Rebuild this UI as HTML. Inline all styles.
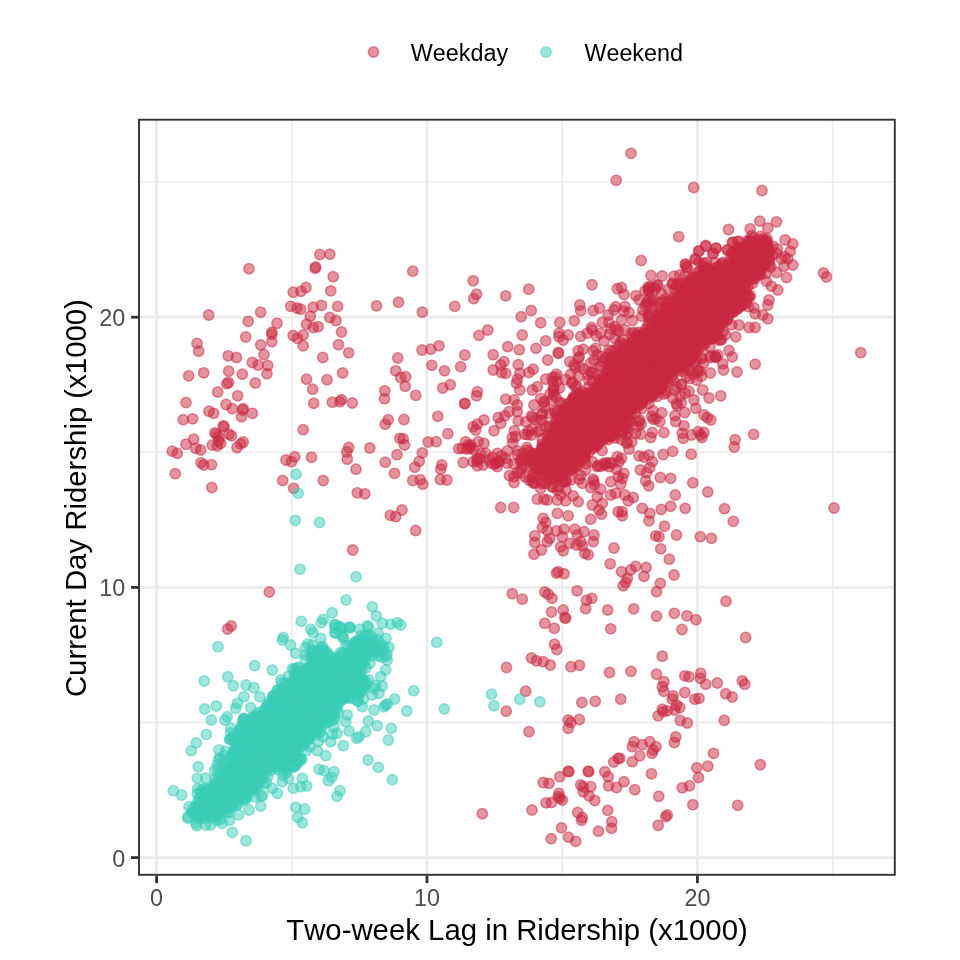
<!DOCTYPE html>
<html lang="en"><head><meta charset="utf-8"><title>Ridership scatter</title>
<style>html,body{margin:0;padding:0;background:#fff;}body{width:960px;height:960px;overflow:hidden;}svg{display:block;will-change:transform;}text{font-kerning:none;font-family:"Liberation Sans",Arial,Helvetica,sans-serif;}.wd{fill:#CA2840;fill-opacity:.5;stroke:#CA2840;stroke-opacity:.5;stroke-width:1.48;}.we{fill:#3ACDB8;fill-opacity:.5;stroke:#3ACDB8;stroke-opacity:.5;stroke-width:1.48;}.ax{font-size:23.33px;fill:#4D4D4D;}.lg{font-size:23.33px;fill:#000;}.ti{font-size:29.35px;fill:#000;}</style></head><body>
<svg width="960" height="960" viewBox="0 0 960 960">
<rect width="960" height="960" fill="#fff"/>
<g stroke="#EBEBEB" fill="none">
<line x1="291.80" x2="291.80" y1="119.7" y2="874.8" stroke-width="1.41"/>
<line y1="722.50" y2="722.50" x1="139.0" x2="894.8" stroke-width="1.41"/>
<line x1="562.20" x2="562.20" y1="119.7" y2="874.8" stroke-width="1.41"/>
<line y1="452.30" y2="452.30" x1="139.0" x2="894.8" stroke-width="1.41"/>
<line x1="832.60" x2="832.60" y1="119.7" y2="874.8" stroke-width="1.41"/>
<line y1="182.10" y2="182.10" x1="139.0" x2="894.8" stroke-width="1.41"/>
<line x1="156.60" x2="156.60" y1="119.7" y2="874.8" stroke-width="2.83"/>
<line y1="857.60" y2="857.60" x1="139.0" x2="894.8" stroke-width="2.83"/>
<line x1="427.00" x2="427.00" y1="119.7" y2="874.8" stroke-width="2.83"/>
<line y1="587.40" y2="587.40" x1="139.0" x2="894.8" stroke-width="2.83"/>
<line x1="697.40" x2="697.40" y1="119.7" y2="874.8" stroke-width="2.83"/>
<line y1="317.20" y2="317.20" x1="139.0" x2="894.8" stroke-width="2.83"/>
</g>
<g>
<circle class="we" cx="294.1" cy="708.0" r="5.18"/>
<circle class="wd" cx="696.5" cy="283.9" r="5.18"/>
<circle class="wd" cx="596.9" cy="386.7" r="5.18"/>
<circle class="wd" cx="542.4" cy="413.3" r="5.18"/>
<circle class="wd" cx="652.8" cy="353.1" r="5.18"/>
<circle class="wd" cx="547.9" cy="442.5" r="5.18"/>
<circle class="wd" cx="650.0" cy="378.0" r="5.18"/>
<circle class="wd" cx="576.9" cy="386.3" r="5.18"/>
<circle class="we" cx="350.4" cy="659.6" r="5.18"/>
<circle class="wd" cx="718.3" cy="327.8" r="5.18"/>
<circle class="wd" cx="752.2" cy="263.5" r="5.18"/>
<circle class="wd" cx="736.9" cy="296.9" r="5.18"/>
<circle class="wd" cx="637.4" cy="404.5" r="5.18"/>
<circle class="we" cx="330.3" cy="694.4" r="5.18"/>
<circle class="we" cx="282.3" cy="741.3" r="5.18"/>
<circle class="we" cx="274.2" cy="699.2" r="5.18"/>
<circle class="we" cx="187.9" cy="816.7" r="5.18"/>
<circle class="wd" cx="580.5" cy="431.0" r="5.18"/>
<circle class="wd" cx="543.1" cy="451.1" r="5.18"/>
<circle class="we" cx="341.2" cy="689.5" r="5.18"/>
<circle class="wd" cx="708.5" cy="304.6" r="5.18"/>
<circle class="wd" cx="597.6" cy="415.4" r="5.18"/>
<circle class="we" cx="243.7" cy="774.7" r="5.18"/>
<circle class="we" cx="247.4" cy="721.4" r="5.18"/>
<circle class="wd" cx="556.4" cy="425.4" r="5.18"/>
<circle class="wd" cx="601.8" cy="393.7" r="5.18"/>
<circle class="wd" cx="611.0" cy="434.3" r="5.18"/>
<circle class="we" cx="302.5" cy="744.3" r="5.18"/>
<circle class="we" cx="354.9" cy="663.0" r="5.18"/>
<circle class="we" cx="196.1" cy="805.4" r="5.18"/>
<circle class="wd" cx="534.0" cy="472.1" r="5.18"/>
<circle class="we" cx="306.9" cy="718.0" r="5.18"/>
<circle class="we" cx="256.8" cy="748.3" r="5.18"/>
<circle class="wd" cx="583.7" cy="419.0" r="5.18"/>
<circle class="we" cx="335.7" cy="633.2" r="5.18"/>
<circle class="wd" cx="660.2" cy="333.6" r="5.18"/>
<circle class="we" cx="359.3" cy="676.9" r="5.18"/>
<circle class="we" cx="298.7" cy="744.7" r="5.18"/>
<circle class="wd" cx="605.7" cy="376.2" r="5.18"/>
<circle class="we" cx="340.6" cy="669.0" r="5.18"/>
<circle class="wd" cx="714.9" cy="306.3" r="5.18"/>
<circle class="we" cx="335.8" cy="659.5" r="5.18"/>
<circle class="wd" cx="738.2" cy="275.7" r="5.18"/>
<circle class="wd" cx="769.6" cy="261.5" r="5.18"/>
<circle class="wd" cx="690.0" cy="351.5" r="5.18"/>
<circle class="wd" cx="703.7" cy="282.6" r="5.18"/>
<circle class="wd" cx="760.0" cy="253.4" r="5.18"/>
<circle class="wd" cx="624.5" cy="351.7" r="5.18"/>
<circle class="wd" cx="665.0" cy="330.8" r="5.18"/>
<circle class="wd" cx="611.1" cy="435.9" r="5.18"/>
<circle class="wd" cx="707.5" cy="300.4" r="5.18"/>
<circle class="we" cx="285.4" cy="734.6" r="5.18"/>
<circle class="wd" cx="638.9" cy="421.7" r="5.18"/>
<circle class="wd" cx="732.1" cy="264.2" r="5.18"/>
<circle class="wd" cx="739.1" cy="286.0" r="5.18"/>
<circle class="we" cx="233.1" cy="782.2" r="5.18"/>
<circle class="we" cx="309.2" cy="679.6" r="5.18"/>
<circle class="we" cx="301.4" cy="738.3" r="5.18"/>
<circle class="we" cx="376.2" cy="644.2" r="5.18"/>
<circle class="we" cx="261.6" cy="778.9" r="5.18"/>
<circle class="we" cx="286.1" cy="766.9" r="5.18"/>
<circle class="wd" cx="670.8" cy="310.8" r="5.18"/>
<circle class="we" cx="237.8" cy="740.1" r="5.18"/>
<circle class="we" cx="327.4" cy="654.7" r="5.18"/>
<circle class="wd" cx="718.0" cy="289.5" r="5.18"/>
<circle class="wd" cx="740.8" cy="248.0" r="5.18"/>
<circle class="we" cx="339.5" cy="702.3" r="5.18"/>
<circle class="wd" cx="701.7" cy="358.9" r="5.18"/>
<circle class="wd" cx="743.0" cy="296.1" r="5.18"/>
<circle class="wd" cx="671.6" cy="351.9" r="5.18"/>
<circle class="wd" cx="702.0" cy="294.9" r="5.18"/>
<circle class="wd" cx="729.1" cy="285.5" r="5.18"/>
<circle class="wd" cx="577.1" cy="412.1" r="5.18"/>
<circle class="wd" cx="569.5" cy="442.5" r="5.18"/>
<circle class="wd" cx="598.7" cy="414.1" r="5.18"/>
<circle class="we" cx="361.9" cy="668.5" r="5.18"/>
<circle class="wd" cx="710.1" cy="287.7" r="5.18"/>
<circle class="we" cx="358.9" cy="663.7" r="5.18"/>
<circle class="wd" cx="671.9" cy="345.2" r="5.18"/>
<circle class="wd" cx="596.6" cy="438.0" r="5.18"/>
<circle class="wd" cx="627.4" cy="428.7" r="5.18"/>
<circle class="we" cx="289.0" cy="704.7" r="5.18"/>
<circle class="wd" cx="600.4" cy="406.9" r="5.18"/>
<circle class="we" cx="336.2" cy="665.2" r="5.18"/>
<circle class="wd" cx="572.8" cy="398.4" r="5.18"/>
<circle class="wd" cx="722.7" cy="262.4" r="5.18"/>
<circle class="we" cx="298.7" cy="759.6" r="5.18"/>
<circle class="wd" cx="661.5" cy="365.1" r="5.18"/>
<circle class="wd" cx="698.6" cy="306.9" r="5.18"/>
<circle class="wd" cx="702.9" cy="325.4" r="5.18"/>
<circle class="wd" cx="669.3" cy="345.1" r="5.18"/>
<circle class="we" cx="336.6" cy="670.6" r="5.18"/>
<circle class="we" cx="255.8" cy="761.7" r="5.18"/>
<circle class="wd" cx="654.6" cy="334.9" r="5.18"/>
<circle class="wd" cx="517.5" cy="450.9" r="5.18"/>
<circle class="wd" cx="649.7" cy="343.2" r="5.18"/>
<circle class="wd" cx="514.3" cy="430.8" r="5.18"/>
<circle class="we" cx="334.5" cy="674.8" r="5.18"/>
<circle class="wd" cx="595.7" cy="403.9" r="5.18"/>
<circle class="we" cx="234.5" cy="751.0" r="5.18"/>
<circle class="we" cx="320.2" cy="650.1" r="5.18"/>
<circle class="we" cx="329.3" cy="668.6" r="5.18"/>
<circle class="wd" cx="662.8" cy="378.2" r="5.18"/>
<circle class="wd" cx="694.8" cy="346.5" r="5.18"/>
<circle class="wd" cx="601.5" cy="421.1" r="5.18"/>
<circle class="we" cx="279.3" cy="758.9" r="5.18"/>
<circle class="wd" cx="659.4" cy="366.2" r="5.18"/>
<circle class="wd" cx="761.1" cy="264.6" r="5.18"/>
<circle class="wd" cx="630.4" cy="388.8" r="5.18"/>
<circle class="we" cx="282.9" cy="724.8" r="5.18"/>
<circle class="wd" cx="684.8" cy="287.1" r="5.18"/>
<circle class="we" cx="311.0" cy="668.7" r="5.18"/>
<circle class="wd" cx="702.7" cy="346.2" r="5.18"/>
<circle class="wd" cx="591.9" cy="440.8" r="5.18"/>
<circle class="wd" cx="645.4" cy="363.4" r="5.18"/>
<circle class="wd" cx="639.0" cy="336.7" r="5.18"/>
<circle class="wd" cx="563.4" cy="441.6" r="5.18"/>
<circle class="wd" cx="655.7" cy="361.4" r="5.18"/>
<circle class="we" cx="372.4" cy="644.1" r="5.18"/>
<circle class="wd" cx="696.2" cy="353.2" r="5.18"/>
<circle class="wd" cx="764.5" cy="249.6" r="5.18"/>
<circle class="we" cx="217.9" cy="815.1" r="5.18"/>
<circle class="we" cx="287.1" cy="728.6" r="5.18"/>
<circle class="we" cx="217.1" cy="800.6" r="5.18"/>
<circle class="wd" cx="601.7" cy="424.9" r="5.18"/>
<circle class="wd" cx="761.0" cy="250.1" r="5.18"/>
<circle class="we" cx="258.7" cy="752.6" r="5.18"/>
<circle class="we" cx="324.7" cy="722.3" r="5.18"/>
<circle class="wd" cx="731.2" cy="283.0" r="5.18"/>
<circle class="wd" cx="587.9" cy="438.3" r="5.18"/>
<circle class="we" cx="212.0" cy="791.0" r="5.18"/>
<circle class="wd" cx="765.8" cy="273.6" r="5.18"/>
<circle class="wd" cx="599.3" cy="430.5" r="5.18"/>
<circle class="wd" cx="660.5" cy="359.3" r="5.18"/>
<circle class="wd" cx="734.5" cy="308.4" r="5.18"/>
<circle class="we" cx="307.0" cy="712.8" r="5.18"/>
<circle class="wd" cx="748.2" cy="286.2" r="5.18"/>
<circle class="we" cx="274.7" cy="750.8" r="5.18"/>
<circle class="wd" cx="636.6" cy="373.9" r="5.18"/>
<circle class="we" cx="357.9" cy="676.4" r="5.18"/>
<circle class="we" cx="268.9" cy="735.0" r="5.18"/>
<circle class="we" cx="206.2" cy="812.8" r="5.18"/>
<circle class="we" cx="240.4" cy="759.9" r="5.18"/>
<circle class="we" cx="240.6" cy="763.2" r="5.18"/>
<circle class="wd" cx="761.2" cy="254.0" r="5.18"/>
<circle class="we" cx="304.2" cy="706.3" r="5.18"/>
<circle class="wd" cx="680.8" cy="322.8" r="5.18"/>
<circle class="wd" cx="685.0" cy="326.7" r="5.18"/>
<circle class="we" cx="342.3" cy="653.2" r="5.18"/>
<circle class="wd" cx="762.2" cy="242.6" r="5.18"/>
<circle class="wd" cx="694.4" cy="324.0" r="5.18"/>
<circle class="wd" cx="717.2" cy="273.3" r="5.18"/>
<circle class="wd" cx="606.0" cy="462.8" r="5.18"/>
<circle class="we" cx="262.2" cy="770.6" r="5.18"/>
<circle class="wd" cx="688.5" cy="328.0" r="5.18"/>
<circle class="we" cx="326.9" cy="722.4" r="5.18"/>
<circle class="wd" cx="688.3" cy="331.6" r="5.18"/>
<circle class="we" cx="365.7" cy="684.5" r="5.18"/>
<circle class="wd" cx="710.8" cy="338.9" r="5.18"/>
<circle class="wd" cx="640.2" cy="377.3" r="5.18"/>
<circle class="we" cx="243.1" cy="798.9" r="5.18"/>
<circle class="wd" cx="680.8" cy="327.9" r="5.18"/>
<circle class="we" cx="255.0" cy="796.9" r="5.18"/>
<circle class="we" cx="362.8" cy="683.9" r="5.18"/>
<circle class="we" cx="229.5" cy="820.4" r="5.18"/>
<circle class="we" cx="313.3" cy="672.3" r="5.18"/>
<circle class="we" cx="262.7" cy="732.6" r="5.18"/>
<circle class="wd" cx="703.2" cy="306.6" r="5.18"/>
<circle class="wd" cx="669.6" cy="374.0" r="5.18"/>
<circle class="wd" cx="620.3" cy="424.8" r="5.18"/>
<circle class="we" cx="215.0" cy="804.3" r="5.18"/>
<circle class="we" cx="220.4" cy="804.4" r="5.18"/>
<circle class="we" cx="266.3" cy="753.4" r="5.18"/>
<circle class="wd" cx="745.5" cy="297.7" r="5.18"/>
<circle class="we" cx="349.2" cy="627.1" r="5.18"/>
<circle class="wd" cx="682.4" cy="300.6" r="5.18"/>
<circle class="we" cx="264.7" cy="763.7" r="5.18"/>
<circle class="wd" cx="760.3" cy="271.1" r="5.18"/>
<circle class="wd" cx="747.1" cy="254.8" r="5.18"/>
<circle class="wd" cx="633.7" cy="364.4" r="5.18"/>
<circle class="wd" cx="739.0" cy="289.9" r="5.18"/>
<circle class="wd" cx="679.6" cy="356.5" r="5.18"/>
<circle class="wd" cx="577.4" cy="398.4" r="5.18"/>
<circle class="wd" cx="597.5" cy="434.6" r="5.18"/>
<circle class="wd" cx="613.9" cy="401.8" r="5.18"/>
<circle class="we" cx="280.2" cy="727.4" r="5.18"/>
<circle class="wd" cx="701.6" cy="308.1" r="5.18"/>
<circle class="we" cx="317.0" cy="675.6" r="5.18"/>
<circle class="wd" cx="681.4" cy="384.1" r="5.18"/>
<circle class="wd" cx="695.5" cy="310.4" r="5.18"/>
<circle class="we" cx="352.4" cy="692.3" r="5.18"/>
<circle class="we" cx="292.4" cy="686.0" r="5.18"/>
<circle class="we" cx="266.1" cy="759.2" r="5.18"/>
<circle class="we" cx="237.8" cy="746.6" r="5.18"/>
<circle class="wd" cx="556.3" cy="448.9" r="5.18"/>
<circle class="wd" cx="663.6" cy="345.6" r="5.18"/>
<circle class="we" cx="282.9" cy="732.8" r="5.18"/>
<circle class="we" cx="231.3" cy="779.9" r="5.18"/>
<circle class="we" cx="326.9" cy="683.2" r="5.18"/>
<circle class="we" cx="246.7" cy="760.0" r="5.18"/>
<circle class="we" cx="234.2" cy="778.8" r="5.18"/>
<circle class="wd" cx="692.1" cy="330.1" r="5.18"/>
<circle class="we" cx="305.4" cy="729.1" r="5.18"/>
<circle class="wd" cx="756.0" cy="252.4" r="5.18"/>
<circle class="wd" cx="547.6" cy="436.0" r="5.18"/>
<circle class="wd" cx="588.1" cy="421.9" r="5.18"/>
<circle class="wd" cx="585.3" cy="456.3" r="5.18"/>
<circle class="we" cx="352.1" cy="683.8" r="5.18"/>
<circle class="wd" cx="552.1" cy="456.5" r="5.18"/>
<circle class="wd" cx="634.7" cy="371.9" r="5.18"/>
<circle class="wd" cx="507.3" cy="451.0" r="5.18"/>
<circle class="we" cx="226.3" cy="778.7" r="5.18"/>
<circle class="we" cx="230.9" cy="789.6" r="5.18"/>
<circle class="wd" cx="585.0" cy="410.6" r="5.18"/>
<circle class="wd" cx="628.5" cy="415.9" r="5.18"/>
<circle class="wd" cx="589.0" cy="452.1" r="5.18"/>
<circle class="we" cx="292.2" cy="739.9" r="5.18"/>
<circle class="wd" cx="525.0" cy="476.7" r="5.18"/>
<circle class="wd" cx="723.0" cy="277.5" r="5.18"/>
<circle class="wd" cx="704.1" cy="266.6" r="5.18"/>
<circle class="we" cx="325.2" cy="698.9" r="5.18"/>
<circle class="we" cx="361.9" cy="689.5" r="5.18"/>
<circle class="we" cx="322.5" cy="646.4" r="5.18"/>
<circle class="we" cx="213.4" cy="797.6" r="5.18"/>
<circle class="wd" cx="627.4" cy="395.7" r="5.18"/>
<circle class="we" cx="269.3" cy="701.3" r="5.18"/>
<circle class="wd" cx="758.0" cy="239.4" r="5.18"/>
<circle class="wd" cx="621.5" cy="379.6" r="5.18"/>
<circle class="we" cx="291.5" cy="698.3" r="5.18"/>
<circle class="we" cx="294.3" cy="757.2" r="5.18"/>
<circle class="we" cx="298.2" cy="680.8" r="5.18"/>
<circle class="wd" cx="612.8" cy="361.3" r="5.18"/>
<circle class="wd" cx="723.5" cy="281.6" r="5.18"/>
<circle class="wd" cx="666.1" cy="337.0" r="5.18"/>
<circle class="wd" cx="574.8" cy="403.0" r="5.18"/>
<circle class="wd" cx="638.6" cy="380.3" r="5.18"/>
<circle class="wd" cx="719.5" cy="317.0" r="5.18"/>
<circle class="wd" cx="543.2" cy="475.3" r="5.18"/>
<circle class="we" cx="313.6" cy="703.8" r="5.18"/>
<circle class="we" cx="234.9" cy="788.3" r="5.18"/>
<circle class="wd" cx="588.0" cy="434.1" r="5.18"/>
<circle class="we" cx="344.5" cy="665.9" r="5.18"/>
<circle class="wd" cx="611.6" cy="350.9" r="5.18"/>
<circle class="wd" cx="747.3" cy="273.2" r="5.18"/>
<circle class="wd" cx="675.0" cy="328.9" r="5.18"/>
<circle class="wd" cx="699.5" cy="346.1" r="5.18"/>
<circle class="we" cx="298.8" cy="681.5" r="5.18"/>
<circle class="wd" cx="694.6" cy="340.8" r="5.18"/>
<circle class="wd" cx="693.1" cy="344.6" r="5.18"/>
<circle class="wd" cx="646.1" cy="385.8" r="5.18"/>
<circle class="we" cx="314.4" cy="683.9" r="5.18"/>
<circle class="wd" cx="626.4" cy="419.1" r="5.18"/>
<circle class="wd" cx="697.1" cy="301.1" r="5.18"/>
<circle class="wd" cx="579.6" cy="393.4" r="5.18"/>
<circle class="wd" cx="678.2" cy="370.8" r="5.18"/>
<circle class="wd" cx="565.5" cy="379.5" r="5.18"/>
<circle class="we" cx="292.2" cy="729.3" r="5.18"/>
<circle class="we" cx="325.5" cy="708.3" r="5.18"/>
<circle class="we" cx="284.2" cy="694.7" r="5.18"/>
<circle class="wd" cx="573.3" cy="467.7" r="5.18"/>
<circle class="wd" cx="732.2" cy="260.6" r="5.18"/>
<circle class="we" cx="320.6" cy="672.6" r="5.18"/>
<circle class="wd" cx="579.3" cy="461.0" r="5.18"/>
<circle class="we" cx="247.1" cy="760.5" r="5.18"/>
<circle class="wd" cx="680.2" cy="337.7" r="5.18"/>
<circle class="we" cx="283.3" cy="720.6" r="5.18"/>
<circle class="wd" cx="690.7" cy="359.9" r="5.18"/>
<circle class="wd" cx="725.5" cy="303.6" r="5.18"/>
<circle class="wd" cx="686.2" cy="362.2" r="5.18"/>
<circle class="we" cx="208.5" cy="807.6" r="5.18"/>
<circle class="wd" cx="689.3" cy="287.9" r="5.18"/>
<circle class="we" cx="245.0" cy="800.1" r="5.18"/>
<circle class="wd" cx="673.8" cy="364.9" r="5.18"/>
<circle class="we" cx="320.3" cy="730.4" r="5.18"/>
<circle class="we" cx="303.7" cy="723.4" r="5.18"/>
<circle class="wd" cx="732.7" cy="294.1" r="5.18"/>
<circle class="we" cx="215.5" cy="783.2" r="5.18"/>
<circle class="wd" cx="738.0" cy="299.4" r="5.18"/>
<circle class="wd" cx="564.3" cy="425.7" r="5.18"/>
<circle class="wd" cx="718.7" cy="340.0" r="5.18"/>
<circle class="wd" cx="751.8" cy="241.9" r="5.18"/>
<circle class="wd" cx="658.3" cy="316.9" r="5.18"/>
<circle class="wd" cx="628.4" cy="381.6" r="5.18"/>
<circle class="wd" cx="673.9" cy="333.9" r="5.18"/>
<circle class="wd" cx="622.4" cy="387.2" r="5.18"/>
<circle class="wd" cx="615.0" cy="398.5" r="5.18"/>
<circle class="wd" cx="673.6" cy="341.4" r="5.18"/>
<circle class="wd" cx="696.1" cy="360.5" r="5.18"/>
<circle class="wd" cx="618.8" cy="331.2" r="5.18"/>
<circle class="wd" cx="712.5" cy="333.7" r="5.18"/>
<circle class="we" cx="348.1" cy="645.4" r="5.18"/>
<circle class="wd" cx="686.3" cy="318.4" r="5.18"/>
<circle class="wd" cx="566.4" cy="426.4" r="5.18"/>
<circle class="wd" cx="607.2" cy="389.7" r="5.18"/>
<circle class="we" cx="364.1" cy="656.7" r="5.18"/>
<circle class="we" cx="243.1" cy="787.4" r="5.18"/>
<circle class="wd" cx="609.0" cy="420.5" r="5.18"/>
<circle class="wd" cx="733.5" cy="278.9" r="5.18"/>
<circle class="we" cx="377.0" cy="646.9" r="5.18"/>
<circle class="wd" cx="538.5" cy="453.7" r="5.18"/>
<circle class="we" cx="230.2" cy="793.5" r="5.18"/>
<circle class="wd" cx="784.9" cy="256.7" r="5.18"/>
<circle class="we" cx="322.2" cy="662.9" r="5.18"/>
<circle class="we" cx="301.4" cy="734.4" r="5.18"/>
<circle class="we" cx="246.3" cy="798.4" r="5.18"/>
<circle class="wd" cx="685.3" cy="344.9" r="5.18"/>
<circle class="wd" cx="624.3" cy="416.8" r="5.18"/>
<circle class="we" cx="295.4" cy="765.5" r="5.18"/>
<circle class="we" cx="269.9" cy="754.1" r="5.18"/>
<circle class="wd" cx="734.8" cy="266.8" r="5.18"/>
<circle class="we" cx="257.9" cy="763.1" r="5.18"/>
<circle class="wd" cx="710.8" cy="298.0" r="5.18"/>
<circle class="we" cx="262.5" cy="756.4" r="5.18"/>
<circle class="wd" cx="563.1" cy="421.2" r="5.18"/>
<circle class="we" cx="273.1" cy="699.6" r="5.18"/>
<circle class="we" cx="319.1" cy="690.8" r="5.18"/>
<circle class="we" cx="310.3" cy="717.1" r="5.18"/>
<circle class="we" cx="237.8" cy="742.3" r="5.18"/>
<circle class="wd" cx="548.9" cy="469.1" r="5.18"/>
<circle class="we" cx="372.9" cy="641.5" r="5.18"/>
<circle class="we" cx="201.0" cy="795.1" r="5.18"/>
<circle class="wd" cx="723.2" cy="314.5" r="5.18"/>
<circle class="wd" cx="776.5" cy="253.2" r="5.18"/>
<circle class="we" cx="253.3" cy="764.4" r="5.18"/>
<circle class="wd" cx="636.8" cy="398.8" r="5.18"/>
<circle class="we" cx="292.7" cy="734.0" r="5.18"/>
<circle class="wd" cx="669.3" cy="333.7" r="5.18"/>
<circle class="wd" cx="744.4" cy="298.6" r="5.18"/>
<circle class="we" cx="251.6" cy="743.4" r="5.18"/>
<circle class="we" cx="259.6" cy="718.2" r="5.18"/>
<circle class="wd" cx="682.9" cy="362.0" r="5.18"/>
<circle class="wd" cx="663.4" cy="327.8" r="5.18"/>
<circle class="we" cx="211.5" cy="804.1" r="5.18"/>
<circle class="wd" cx="639.6" cy="348.2" r="5.18"/>
<circle class="wd" cx="555.1" cy="376.8" r="5.18"/>
<circle class="we" cx="253.2" cy="716.7" r="5.18"/>
<circle class="we" cx="252.1" cy="777.0" r="5.18"/>
<circle class="we" cx="315.0" cy="657.8" r="5.18"/>
<circle class="wd" cx="555.8" cy="454.8" r="5.18"/>
<circle class="wd" cx="650.1" cy="313.8" r="5.18"/>
<circle class="wd" cx="600.4" cy="399.4" r="5.18"/>
<circle class="wd" cx="574.2" cy="398.7" r="5.18"/>
<circle class="wd" cx="613.1" cy="391.5" r="5.18"/>
<circle class="wd" cx="554.4" cy="410.9" r="5.18"/>
<circle class="we" cx="308.6" cy="739.3" r="5.18"/>
<circle class="wd" cx="697.9" cy="311.8" r="5.18"/>
<circle class="we" cx="198.8" cy="799.0" r="5.18"/>
<circle class="we" cx="240.1" cy="770.9" r="5.18"/>
<circle class="wd" cx="661.5" cy="315.9" r="5.18"/>
<circle class="wd" cx="595.2" cy="420.4" r="5.18"/>
<circle class="wd" cx="734.0" cy="253.3" r="5.18"/>
<circle class="wd" cx="727.5" cy="291.7" r="5.18"/>
<circle class="wd" cx="697.3" cy="371.8" r="5.18"/>
<circle class="we" cx="273.1" cy="696.0" r="5.18"/>
<circle class="we" cx="241.7" cy="740.6" r="5.18"/>
<circle class="wd" cx="528.7" cy="431.0" r="5.18"/>
<circle class="wd" cx="760.5" cy="274.0" r="5.18"/>
<circle class="we" cx="341.5" cy="685.1" r="5.18"/>
<circle class="wd" cx="704.0" cy="263.3" r="5.18"/>
<circle class="wd" cx="620.2" cy="358.4" r="5.18"/>
<circle class="we" cx="266.5" cy="736.0" r="5.18"/>
<circle class="wd" cx="685.4" cy="357.1" r="5.18"/>
<circle class="wd" cx="750.6" cy="276.5" r="5.18"/>
<circle class="we" cx="298.2" cy="707.0" r="5.18"/>
<circle class="wd" cx="591.4" cy="408.1" r="5.18"/>
<circle class="wd" cx="668.0" cy="330.1" r="5.18"/>
<circle class="wd" cx="717.3" cy="335.8" r="5.18"/>
<circle class="wd" cx="709.6" cy="283.9" r="5.18"/>
<circle class="wd" cx="685.0" cy="322.3" r="5.18"/>
<circle class="we" cx="336.5" cy="704.5" r="5.18"/>
<circle class="we" cx="301.0" cy="698.5" r="5.18"/>
<circle class="we" cx="280.0" cy="756.8" r="5.18"/>
<circle class="we" cx="258.4" cy="753.9" r="5.18"/>
<circle class="we" cx="358.9" cy="656.6" r="5.18"/>
<circle class="we" cx="261.6" cy="729.6" r="5.18"/>
<circle class="wd" cx="699.4" cy="310.2" r="5.18"/>
<circle class="we" cx="263.3" cy="771.9" r="5.18"/>
<circle class="we" cx="313.2" cy="650.3" r="5.18"/>
<circle class="wd" cx="592.5" cy="408.6" r="5.18"/>
<circle class="wd" cx="625.3" cy="360.2" r="5.18"/>
<circle class="we" cx="279.1" cy="708.0" r="5.18"/>
<circle class="we" cx="225.4" cy="808.4" r="5.18"/>
<circle class="wd" cx="672.3" cy="334.6" r="5.18"/>
<circle class="we" cx="359.4" cy="629.2" r="5.18"/>
<circle class="we" cx="287.4" cy="695.5" r="5.18"/>
<circle class="we" cx="331.3" cy="718.1" r="5.18"/>
<circle class="wd" cx="717.1" cy="313.7" r="5.18"/>
<circle class="wd" cx="621.5" cy="373.4" r="5.18"/>
<circle class="wd" cx="555.1" cy="469.8" r="5.18"/>
<circle class="we" cx="224.4" cy="755.2" r="5.18"/>
<circle class="we" cx="239.4" cy="760.5" r="5.18"/>
<circle class="wd" cx="706.5" cy="292.3" r="5.18"/>
<circle class="wd" cx="697.9" cy="284.8" r="5.18"/>
<circle class="we" cx="235.8" cy="765.5" r="5.18"/>
<circle class="we" cx="358.1" cy="695.2" r="5.18"/>
<circle class="wd" cx="670.6" cy="371.2" r="5.18"/>
<circle class="we" cx="294.3" cy="728.5" r="5.18"/>
<circle class="wd" cx="736.5" cy="298.2" r="5.18"/>
<circle class="wd" cx="592.2" cy="399.0" r="5.18"/>
<circle class="wd" cx="663.9" cy="300.9" r="5.18"/>
<circle class="wd" cx="641.6" cy="396.0" r="5.18"/>
<circle class="we" cx="260.0" cy="719.9" r="5.18"/>
<circle class="we" cx="358.7" cy="684.7" r="5.18"/>
<circle class="wd" cx="707.2" cy="294.4" r="5.18"/>
<circle class="we" cx="333.3" cy="708.9" r="5.18"/>
<circle class="wd" cx="757.1" cy="255.5" r="5.18"/>
<circle class="we" cx="208.2" cy="798.3" r="5.18"/>
<circle class="we" cx="312.4" cy="703.1" r="5.18"/>
<circle class="wd" cx="642.9" cy="332.9" r="5.18"/>
<circle class="we" cx="349.1" cy="663.7" r="5.18"/>
<circle class="we" cx="264.0" cy="756.2" r="5.18"/>
<circle class="wd" cx="757.6" cy="246.1" r="5.18"/>
<circle class="we" cx="235.0" cy="802.2" r="5.18"/>
<circle class="we" cx="243.3" cy="770.1" r="5.18"/>
<circle class="we" cx="226.4" cy="800.1" r="5.18"/>
<circle class="wd" cx="593.8" cy="480.9" r="5.18"/>
<circle class="wd" cx="571.0" cy="429.7" r="5.18"/>
<circle class="wd" cx="658.4" cy="313.8" r="5.18"/>
<circle class="wd" cx="727.1" cy="320.4" r="5.18"/>
<circle class="wd" cx="559.0" cy="477.6" r="5.18"/>
<circle class="wd" cx="590.9" cy="391.9" r="5.18"/>
<circle class="we" cx="356.8" cy="673.0" r="5.18"/>
<circle class="we" cx="242.6" cy="737.9" r="5.18"/>
<circle class="we" cx="223.3" cy="761.7" r="5.18"/>
<circle class="wd" cx="653.4" cy="372.7" r="5.18"/>
<circle class="wd" cx="570.6" cy="401.7" r="5.18"/>
<circle class="wd" cx="727.8" cy="318.7" r="5.18"/>
<circle class="we" cx="224.4" cy="785.0" r="5.18"/>
<circle class="we" cx="301.7" cy="742.0" r="5.18"/>
<circle class="we" cx="259.7" cy="737.5" r="5.18"/>
<circle class="wd" cx="658.1" cy="327.2" r="5.18"/>
<circle class="wd" cx="626.2" cy="421.0" r="5.18"/>
<circle class="wd" cx="576.5" cy="419.4" r="5.18"/>
<circle class="we" cx="292.8" cy="693.1" r="5.18"/>
<circle class="we" cx="271.2" cy="723.5" r="5.18"/>
<circle class="wd" cx="641.4" cy="399.6" r="5.18"/>
<circle class="we" cx="357.9" cy="701.2" r="5.18"/>
<circle class="we" cx="275.6" cy="765.1" r="5.18"/>
<circle class="we" cx="219.4" cy="805.1" r="5.18"/>
<circle class="we" cx="355.8" cy="666.2" r="5.18"/>
<circle class="we" cx="240.4" cy="764.3" r="5.18"/>
<circle class="we" cx="234.7" cy="759.6" r="5.18"/>
<circle class="wd" cx="611.9" cy="375.6" r="5.18"/>
<circle class="we" cx="365.6" cy="644.5" r="5.18"/>
<circle class="wd" cx="674.1" cy="306.1" r="5.18"/>
<circle class="wd" cx="716.0" cy="357.1" r="5.18"/>
<circle class="wd" cx="655.9" cy="376.3" r="5.18"/>
<circle class="we" cx="316.6" cy="656.4" r="5.18"/>
<circle class="we" cx="223.6" cy="767.3" r="5.18"/>
<circle class="we" cx="236.2" cy="805.1" r="5.18"/>
<circle class="we" cx="232.7" cy="761.8" r="5.18"/>
<circle class="we" cx="295.1" cy="751.6" r="5.18"/>
<circle class="wd" cx="628.5" cy="421.5" r="5.18"/>
<circle class="wd" cx="684.4" cy="314.4" r="5.18"/>
<circle class="we" cx="333.2" cy="696.5" r="5.18"/>
<circle class="we" cx="229.8" cy="763.4" r="5.18"/>
<circle class="wd" cx="639.8" cy="375.0" r="5.18"/>
<circle class="wd" cx="688.3" cy="303.9" r="5.18"/>
<circle class="we" cx="369.6" cy="642.6" r="5.18"/>
<circle class="wd" cx="611.3" cy="357.3" r="5.18"/>
<circle class="wd" cx="579.1" cy="479.2" r="5.18"/>
<circle class="we" cx="253.6" cy="788.3" r="5.18"/>
<circle class="we" cx="240.3" cy="731.2" r="5.18"/>
<circle class="wd" cx="613.9" cy="393.5" r="5.18"/>
<circle class="we" cx="279.1" cy="760.7" r="5.18"/>
<circle class="wd" cx="746.6" cy="267.3" r="5.18"/>
<circle class="wd" cx="742.8" cy="260.4" r="5.18"/>
<circle class="wd" cx="681.4" cy="339.0" r="5.18"/>
<circle class="we" cx="242.0" cy="751.9" r="5.18"/>
<circle class="wd" cx="658.3" cy="317.8" r="5.18"/>
<circle class="we" cx="329.6" cy="663.9" r="5.18"/>
<circle class="we" cx="319.8" cy="700.7" r="5.18"/>
<circle class="wd" cx="765.3" cy="265.7" r="5.18"/>
<circle class="wd" cx="664.0" cy="337.1" r="5.18"/>
<circle class="we" cx="319.1" cy="660.5" r="5.18"/>
<circle class="wd" cx="733.6" cy="311.9" r="5.18"/>
<circle class="wd" cx="685.4" cy="311.8" r="5.18"/>
<circle class="we" cx="208.4" cy="800.1" r="5.18"/>
<circle class="wd" cx="599.0" cy="383.7" r="5.18"/>
<circle class="wd" cx="750.3" cy="257.7" r="5.18"/>
<circle class="we" cx="281.5" cy="720.1" r="5.18"/>
<circle class="wd" cx="679.9" cy="274.8" r="5.18"/>
<circle class="wd" cx="728.4" cy="266.9" r="5.18"/>
<circle class="we" cx="228.8" cy="812.6" r="5.18"/>
<circle class="we" cx="209.3" cy="789.3" r="5.18"/>
<circle class="wd" cx="724.5" cy="278.5" r="5.18"/>
<circle class="wd" cx="713.0" cy="308.5" r="5.18"/>
<circle class="we" cx="338.0" cy="688.6" r="5.18"/>
<circle class="we" cx="360.1" cy="660.5" r="5.18"/>
<circle class="we" cx="293.5" cy="711.3" r="5.18"/>
<circle class="wd" cx="603.3" cy="377.5" r="5.18"/>
<circle class="wd" cx="654.8" cy="390.2" r="5.18"/>
<circle class="wd" cx="722.2" cy="301.3" r="5.18"/>
<circle class="we" cx="262.8" cy="746.9" r="5.18"/>
<circle class="we" cx="282.5" cy="711.9" r="5.18"/>
<circle class="we" cx="238.3" cy="752.1" r="5.18"/>
<circle class="wd" cx="625.8" cy="402.8" r="5.18"/>
<circle class="wd" cx="755.7" cy="267.4" r="5.18"/>
<circle class="wd" cx="745.6" cy="292.2" r="5.18"/>
<circle class="we" cx="259.1" cy="771.6" r="5.18"/>
<circle class="wd" cx="678.8" cy="334.3" r="5.18"/>
<circle class="wd" cx="590.1" cy="415.5" r="5.18"/>
<circle class="wd" cx="747.9" cy="240.6" r="5.18"/>
<circle class="wd" cx="668.8" cy="352.4" r="5.18"/>
<circle class="wd" cx="653.1" cy="381.2" r="5.18"/>
<circle class="we" cx="207.8" cy="812.7" r="5.18"/>
<circle class="we" cx="263.2" cy="783.9" r="5.18"/>
<circle class="we" cx="206.6" cy="798.2" r="5.18"/>
<circle class="wd" cx="605.6" cy="384.9" r="5.18"/>
<circle class="wd" cx="622.0" cy="401.1" r="5.18"/>
<circle class="wd" cx="528.0" cy="461.1" r="5.18"/>
<circle class="wd" cx="651.0" cy="370.6" r="5.18"/>
<circle class="we" cx="312.3" cy="645.0" r="5.18"/>
<circle class="we" cx="215.2" cy="778.4" r="5.18"/>
<circle class="wd" cx="563.7" cy="468.5" r="5.18"/>
<circle class="wd" cx="562.8" cy="460.2" r="5.18"/>
<circle class="wd" cx="760.4" cy="254.9" r="5.18"/>
<circle class="we" cx="365.1" cy="686.2" r="5.18"/>
<circle class="wd" cx="556.9" cy="381.6" r="5.18"/>
<circle class="we" cx="325.2" cy="694.5" r="5.18"/>
<circle class="wd" cx="743.4" cy="292.7" r="5.18"/>
<circle class="wd" cx="642.0" cy="341.1" r="5.18"/>
<circle class="wd" cx="692.2" cy="292.0" r="5.18"/>
<circle class="wd" cx="553.9" cy="394.8" r="5.18"/>
<circle class="wd" cx="692.9" cy="349.4" r="5.18"/>
<circle class="wd" cx="691.7" cy="286.0" r="5.18"/>
<circle class="wd" cx="613.6" cy="422.9" r="5.18"/>
<circle class="wd" cx="562.7" cy="481.3" r="5.18"/>
<circle class="we" cx="323.0" cy="720.2" r="5.18"/>
<circle class="we" cx="257.2" cy="729.1" r="5.18"/>
<circle class="wd" cx="656.8" cy="382.5" r="5.18"/>
<circle class="we" cx="230.0" cy="764.9" r="5.18"/>
<circle class="wd" cx="646.5" cy="302.9" r="5.18"/>
<circle class="wd" cx="582.4" cy="394.3" r="5.18"/>
<circle class="wd" cx="588.3" cy="393.4" r="5.18"/>
<circle class="we" cx="266.8" cy="707.2" r="5.18"/>
<circle class="wd" cx="638.2" cy="373.1" r="5.18"/>
<circle class="wd" cx="748.0" cy="278.7" r="5.18"/>
<circle class="wd" cx="591.4" cy="398.5" r="5.18"/>
<circle class="we" cx="303.2" cy="736.0" r="5.18"/>
<circle class="wd" cx="729.5" cy="314.7" r="5.18"/>
<circle class="wd" cx="714.0" cy="283.5" r="5.18"/>
<circle class="wd" cx="690.4" cy="360.1" r="5.18"/>
<circle class="wd" cx="609.9" cy="462.7" r="5.18"/>
<circle class="wd" cx="602.6" cy="414.4" r="5.18"/>
<circle class="we" cx="316.7" cy="707.8" r="5.18"/>
<circle class="wd" cx="755.8" cy="241.2" r="5.18"/>
<circle class="wd" cx="664.6" cy="316.8" r="5.18"/>
<circle class="wd" cx="560.2" cy="471.2" r="5.18"/>
<circle class="we" cx="318.8" cy="716.7" r="5.18"/>
<circle class="we" cx="304.2" cy="672.6" r="5.18"/>
<circle class="wd" cx="619.5" cy="418.7" r="5.18"/>
<circle class="wd" cx="662.1" cy="362.2" r="5.18"/>
<circle class="we" cx="226.0" cy="781.8" r="5.18"/>
<circle class="wd" cx="750.7" cy="278.8" r="5.18"/>
<circle class="we" cx="239.1" cy="730.1" r="5.18"/>
<circle class="wd" cx="683.7" cy="336.5" r="5.18"/>
<circle class="we" cx="277.1" cy="733.8" r="5.18"/>
<circle class="we" cx="320.3" cy="718.9" r="5.18"/>
<circle class="we" cx="276.5" cy="745.9" r="5.18"/>
<circle class="wd" cx="645.4" cy="329.8" r="5.18"/>
<circle class="wd" cx="532.4" cy="481.7" r="5.18"/>
<circle class="we" cx="332.6" cy="689.6" r="5.18"/>
<circle class="we" cx="237.3" cy="776.1" r="5.18"/>
<circle class="wd" cx="675.7" cy="299.2" r="5.18"/>
<circle class="wd" cx="686.7" cy="292.1" r="5.18"/>
<circle class="wd" cx="651.8" cy="369.6" r="5.18"/>
<circle class="we" cx="321.3" cy="696.3" r="5.18"/>
<circle class="wd" cx="699.1" cy="262.1" r="5.18"/>
<circle class="wd" cx="674.4" cy="324.4" r="5.18"/>
<circle class="wd" cx="678.6" cy="350.0" r="5.18"/>
<circle class="wd" cx="652.7" cy="324.1" r="5.18"/>
<circle class="we" cx="251.3" cy="763.4" r="5.18"/>
<circle class="wd" cx="663.0" cy="349.1" r="5.18"/>
<circle class="wd" cx="735.2" cy="273.0" r="5.18"/>
<circle class="wd" cx="590.3" cy="418.5" r="5.18"/>
<circle class="we" cx="274.8" cy="733.1" r="5.18"/>
<circle class="wd" cx="769.1" cy="265.2" r="5.18"/>
<circle class="we" cx="334.7" cy="661.9" r="5.18"/>
<circle class="wd" cx="605.3" cy="465.1" r="5.18"/>
<circle class="we" cx="353.8" cy="669.8" r="5.18"/>
<circle class="wd" cx="662.1" cy="276.0" r="5.18"/>
<circle class="wd" cx="696.3" cy="306.6" r="5.18"/>
<circle class="wd" cx="543.4" cy="472.8" r="5.18"/>
<circle class="we" cx="298.4" cy="747.4" r="5.18"/>
<circle class="wd" cx="749.9" cy="242.0" r="5.18"/>
<circle class="wd" cx="747.8" cy="281.7" r="5.18"/>
<circle class="we" cx="285.7" cy="691.0" r="5.18"/>
<circle class="wd" cx="737.7" cy="268.5" r="5.18"/>
<circle class="wd" cx="756.3" cy="270.9" r="5.18"/>
<circle class="wd" cx="651.6" cy="334.8" r="5.18"/>
<circle class="wd" cx="545.5" cy="462.1" r="5.18"/>
<circle class="wd" cx="569.0" cy="406.2" r="5.18"/>
<circle class="we" cx="307.3" cy="697.0" r="5.18"/>
<circle class="wd" cx="529.9" cy="460.5" r="5.18"/>
<circle class="we" cx="238.1" cy="784.9" r="5.18"/>
<circle class="wd" cx="579.4" cy="459.0" r="5.18"/>
<circle class="we" cx="297.8" cy="673.0" r="5.18"/>
<circle class="we" cx="289.6" cy="716.1" r="5.18"/>
<circle class="wd" cx="571.0" cy="424.2" r="5.18"/>
<circle class="we" cx="230.4" cy="739.5" r="5.18"/>
<circle class="we" cx="256.6" cy="767.6" r="5.18"/>
<circle class="we" cx="263.5" cy="711.8" r="5.18"/>
<circle class="we" cx="260.1" cy="739.7" r="5.18"/>
<circle class="we" cx="281.7" cy="734.8" r="5.18"/>
<circle class="wd" cx="618.4" cy="395.3" r="5.18"/>
<circle class="we" cx="318.4" cy="741.2" r="5.18"/>
<circle class="wd" cx="642.5" cy="387.7" r="5.18"/>
<circle class="wd" cx="609.6" cy="365.2" r="5.18"/>
<circle class="wd" cx="763.2" cy="245.3" r="5.18"/>
<circle class="wd" cx="593.4" cy="372.9" r="5.18"/>
<circle class="we" cx="218.0" cy="812.9" r="5.18"/>
<circle class="we" cx="315.9" cy="734.6" r="5.18"/>
<circle class="wd" cx="602.4" cy="405.4" r="5.18"/>
<circle class="wd" cx="734.7" cy="305.0" r="5.18"/>
<circle class="we" cx="251.1" cy="776.2" r="5.18"/>
<circle class="wd" cx="627.8" cy="343.9" r="5.18"/>
<circle class="we" cx="337.3" cy="684.4" r="5.18"/>
<circle class="wd" cx="578.5" cy="411.4" r="5.18"/>
<circle class="wd" cx="730.4" cy="302.7" r="5.18"/>
<circle class="we" cx="257.1" cy="784.5" r="5.18"/>
<circle class="wd" cx="642.8" cy="365.0" r="5.18"/>
<circle class="we" cx="238.6" cy="814.9" r="5.18"/>
<circle class="wd" cx="703.3" cy="278.9" r="5.18"/>
<circle class="we" cx="242.8" cy="777.2" r="5.18"/>
<circle class="wd" cx="585.7" cy="407.6" r="5.18"/>
<circle class="wd" cx="620.4" cy="342.2" r="5.18"/>
<circle class="we" cx="299.3" cy="733.2" r="5.18"/>
<circle class="we" cx="283.2" cy="740.4" r="5.18"/>
<circle class="wd" cx="619.5" cy="372.8" r="5.18"/>
<circle class="wd" cx="598.4" cy="423.5" r="5.18"/>
<circle class="wd" cx="742.8" cy="277.4" r="5.18"/>
<circle class="wd" cx="721.6" cy="319.9" r="5.18"/>
<circle class="we" cx="350.3" cy="627.8" r="5.18"/>
<circle class="wd" cx="638.2" cy="403.1" r="5.18"/>
<circle class="wd" cx="621.2" cy="398.7" r="5.18"/>
<circle class="we" cx="249.5" cy="782.1" r="5.18"/>
<circle class="we" cx="336.1" cy="674.5" r="5.18"/>
<circle class="we" cx="289.3" cy="735.5" r="5.18"/>
<circle class="wd" cx="715.1" cy="323.7" r="5.18"/>
<circle class="we" cx="313.1" cy="653.9" r="5.18"/>
<circle class="we" cx="277.5" cy="713.5" r="5.18"/>
<circle class="wd" cx="698.2" cy="370.3" r="5.18"/>
<circle class="wd" cx="540.2" cy="451.8" r="5.18"/>
<circle class="wd" cx="558.1" cy="440.9" r="5.18"/>
<circle class="wd" cx="566.4" cy="426.4" r="5.18"/>
<circle class="wd" cx="641.1" cy="396.3" r="5.18"/>
<circle class="wd" cx="549.4" cy="455.1" r="5.18"/>
<circle class="wd" cx="702.4" cy="313.2" r="5.18"/>
<circle class="wd" cx="534.5" cy="454.5" r="5.18"/>
<circle class="wd" cx="605.8" cy="431.4" r="5.18"/>
<circle class="wd" cx="575.7" cy="434.3" r="5.18"/>
<circle class="wd" cx="627.4" cy="414.3" r="5.18"/>
<circle class="wd" cx="602.1" cy="402.5" r="5.18"/>
<circle class="wd" cx="729.9" cy="273.7" r="5.18"/>
<circle class="we" cx="254.0" cy="729.5" r="5.18"/>
<circle class="wd" cx="634.6" cy="358.6" r="5.18"/>
<circle class="we" cx="332.3" cy="673.1" r="5.18"/>
<circle class="wd" cx="599.7" cy="436.3" r="5.18"/>
<circle class="we" cx="363.9" cy="680.3" r="5.18"/>
<circle class="wd" cx="753.9" cy="237.8" r="5.18"/>
<circle class="we" cx="235.3" cy="782.1" r="5.18"/>
<circle class="we" cx="263.7" cy="732.0" r="5.18"/>
<circle class="wd" cx="580.3" cy="438.3" r="5.18"/>
<circle class="wd" cx="656.4" cy="370.4" r="5.18"/>
<circle class="wd" cx="594.1" cy="392.2" r="5.18"/>
<circle class="wd" cx="612.1" cy="407.2" r="5.18"/>
<circle class="we" cx="305.2" cy="659.5" r="5.18"/>
<circle class="wd" cx="751.7" cy="242.7" r="5.18"/>
<circle class="we" cx="328.9" cy="697.8" r="5.18"/>
<circle class="we" cx="383.9" cy="646.8" r="5.18"/>
<circle class="wd" cx="681.2" cy="308.5" r="5.18"/>
<circle class="we" cx="305.6" cy="714.3" r="5.18"/>
<circle class="we" cx="326.8" cy="711.2" r="5.18"/>
<circle class="we" cx="375.7" cy="685.3" r="5.18"/>
<circle class="we" cx="248.0" cy="747.0" r="5.18"/>
<circle class="we" cx="365.5" cy="637.8" r="5.18"/>
<circle class="wd" cx="682.6" cy="352.5" r="5.18"/>
<circle class="we" cx="256.5" cy="750.5" r="5.18"/>
<circle class="we" cx="362.9" cy="638.6" r="5.18"/>
<circle class="wd" cx="650.5" cy="287.0" r="5.18"/>
<circle class="wd" cx="517.2" cy="454.5" r="5.18"/>
<circle class="we" cx="230.5" cy="733.0" r="5.18"/>
<circle class="we" cx="247.8" cy="732.1" r="5.18"/>
<circle class="wd" cx="681.4" cy="402.8" r="5.18"/>
<circle class="we" cx="309.7" cy="735.7" r="5.18"/>
<circle class="we" cx="255.8" cy="717.3" r="5.18"/>
<circle class="wd" cx="541.0" cy="469.6" r="5.18"/>
<circle class="wd" cx="710.8" cy="326.0" r="5.18"/>
<circle class="wd" cx="721.3" cy="289.7" r="5.18"/>
<circle class="we" cx="258.5" cy="759.5" r="5.18"/>
<circle class="wd" cx="753.7" cy="259.5" r="5.18"/>
<circle class="wd" cx="602.8" cy="440.2" r="5.18"/>
<circle class="wd" cx="704.6" cy="268.7" r="5.18"/>
<circle class="wd" cx="617.7" cy="423.3" r="5.18"/>
<circle class="wd" cx="716.2" cy="278.6" r="5.18"/>
<circle class="wd" cx="717.6" cy="267.5" r="5.18"/>
<circle class="wd" cx="545.2" cy="466.3" r="5.18"/>
<circle class="we" cx="297.8" cy="751.0" r="5.18"/>
<circle class="wd" cx="683.6" cy="320.1" r="5.18"/>
<circle class="wd" cx="713.7" cy="286.5" r="5.18"/>
<circle class="wd" cx="592.6" cy="381.7" r="5.18"/>
<circle class="we" cx="193.3" cy="807.7" r="5.18"/>
<circle class="we" cx="194.9" cy="812.1" r="5.18"/>
<circle class="we" cx="269.5" cy="743.8" r="5.18"/>
<circle class="we" cx="276.0" cy="735.1" r="5.18"/>
<circle class="we" cx="318.5" cy="672.3" r="5.18"/>
<circle class="we" cx="268.9" cy="761.2" r="5.18"/>
<circle class="wd" cx="608.7" cy="354.4" r="5.18"/>
<circle class="we" cx="233.9" cy="786.0" r="5.18"/>
<circle class="wd" cx="722.3" cy="273.0" r="5.18"/>
<circle class="we" cx="281.4" cy="745.0" r="5.18"/>
<circle class="wd" cx="645.0" cy="333.9" r="5.18"/>
<circle class="we" cx="212.4" cy="817.6" r="5.18"/>
<circle class="wd" cx="545.3" cy="444.8" r="5.18"/>
<circle class="wd" cx="646.9" cy="337.7" r="5.18"/>
<circle class="wd" cx="529.3" cy="451.9" r="5.18"/>
<circle class="wd" cx="700.6" cy="289.7" r="5.18"/>
<circle class="we" cx="346.4" cy="696.5" r="5.18"/>
<circle class="wd" cx="711.3" cy="279.2" r="5.18"/>
<circle class="wd" cx="685.0" cy="354.2" r="5.18"/>
<circle class="we" cx="255.6" cy="738.2" r="5.18"/>
<circle class="wd" cx="697.6" cy="341.7" r="5.18"/>
<circle class="we" cx="198.2" cy="801.0" r="5.18"/>
<circle class="wd" cx="535.0" cy="463.2" r="5.18"/>
<circle class="wd" cx="592.3" cy="416.8" r="5.18"/>
<circle class="we" cx="256.7" cy="765.1" r="5.18"/>
<circle class="wd" cx="723.8" cy="304.7" r="5.18"/>
<circle class="wd" cx="616.1" cy="388.7" r="5.18"/>
<circle class="wd" cx="714.0" cy="268.5" r="5.18"/>
<circle class="wd" cx="567.6" cy="469.6" r="5.18"/>
<circle class="we" cx="262.2" cy="725.2" r="5.18"/>
<circle class="wd" cx="609.7" cy="359.8" r="5.18"/>
<circle class="wd" cx="670.0" cy="339.7" r="5.18"/>
<circle class="wd" cx="603.0" cy="389.3" r="5.18"/>
<circle class="we" cx="380.0" cy="648.2" r="5.18"/>
<circle class="we" cx="295.6" cy="748.6" r="5.18"/>
<circle class="wd" cx="643.4" cy="371.7" r="5.18"/>
<circle class="wd" cx="722.6" cy="269.0" r="5.18"/>
<circle class="we" cx="231.5" cy="807.2" r="5.18"/>
<circle class="we" cx="275.0" cy="720.8" r="5.18"/>
<circle class="wd" cx="714.8" cy="262.7" r="5.18"/>
<circle class="wd" cx="621.4" cy="393.4" r="5.18"/>
<circle class="wd" cx="642.1" cy="380.4" r="5.18"/>
<circle class="wd" cx="607.6" cy="397.8" r="5.18"/>
<circle class="wd" cx="744.7" cy="257.5" r="5.18"/>
<circle class="we" cx="334.1" cy="702.2" r="5.18"/>
<circle class="wd" cx="751.7" cy="235.5" r="5.18"/>
<circle class="we" cx="309.9" cy="708.1" r="5.18"/>
<circle class="wd" cx="611.2" cy="429.5" r="5.18"/>
<circle class="wd" cx="638.9" cy="390.4" r="5.18"/>
<circle class="we" cx="267.2" cy="768.4" r="5.18"/>
<circle class="we" cx="314.1" cy="661.3" r="5.18"/>
<circle class="we" cx="324.0" cy="668.2" r="5.18"/>
<circle class="we" cx="282.3" cy="693.1" r="5.18"/>
<circle class="we" cx="293.1" cy="734.1" r="5.18"/>
<circle class="wd" cx="559.5" cy="448.6" r="5.18"/>
<circle class="we" cx="218.1" cy="778.4" r="5.18"/>
<circle class="wd" cx="691.1" cy="334.1" r="5.18"/>
<circle class="wd" cx="560.7" cy="466.3" r="5.18"/>
<circle class="we" cx="196.3" cy="808.9" r="5.18"/>
<circle class="wd" cx="567.8" cy="415.0" r="5.18"/>
<circle class="we" cx="331.0" cy="717.1" r="5.18"/>
<circle class="wd" cx="552.9" cy="459.2" r="5.18"/>
<circle class="we" cx="378.8" cy="651.1" r="5.18"/>
<circle class="wd" cx="585.5" cy="419.8" r="5.18"/>
<circle class="wd" cx="571.5" cy="470.3" r="5.18"/>
<circle class="wd" cx="575.2" cy="386.8" r="5.18"/>
<circle class="wd" cx="653.3" cy="344.5" r="5.18"/>
<circle class="we" cx="296.5" cy="707.6" r="5.18"/>
<circle class="wd" cx="688.6" cy="346.4" r="5.18"/>
<circle class="wd" cx="690.5" cy="338.9" r="5.18"/>
<circle class="wd" cx="569.5" cy="414.9" r="5.18"/>
<circle class="wd" cx="607.9" cy="383.0" r="5.18"/>
<circle class="wd" cx="604.0" cy="436.0" r="5.18"/>
<circle class="we" cx="328.1" cy="708.9" r="5.18"/>
<circle class="wd" cx="661.3" cy="351.4" r="5.18"/>
<circle class="we" cx="334.7" cy="716.5" r="5.18"/>
<circle class="wd" cx="681.5" cy="345.4" r="5.18"/>
<circle class="we" cx="238.5" cy="788.1" r="5.18"/>
<circle class="we" cx="325.6" cy="680.7" r="5.18"/>
<circle class="wd" cx="617.1" cy="359.5" r="5.18"/>
<circle class="we" cx="312.8" cy="671.0" r="5.18"/>
<circle class="wd" cx="576.9" cy="416.1" r="5.18"/>
<circle class="we" cx="317.4" cy="651.4" r="5.18"/>
<circle class="wd" cx="733.6" cy="264.2" r="5.18"/>
<circle class="wd" cx="656.1" cy="418.8" r="5.18"/>
<circle class="we" cx="309.2" cy="709.8" r="5.18"/>
<circle class="we" cx="318.6" cy="725.0" r="5.18"/>
<circle class="wd" cx="572.6" cy="462.7" r="5.18"/>
<circle class="wd" cx="702.2" cy="293.3" r="5.18"/>
<circle class="we" cx="310.1" cy="665.9" r="5.18"/>
<circle class="we" cx="305.6" cy="695.5" r="5.18"/>
<circle class="we" cx="334.5" cy="624.4" r="5.18"/>
<circle class="we" cx="266.7" cy="755.7" r="5.18"/>
<circle class="wd" cx="588.7" cy="404.9" r="5.18"/>
<circle class="wd" cx="746.3" cy="260.3" r="5.18"/>
<circle class="wd" cx="705.3" cy="341.6" r="5.18"/>
<circle class="we" cx="253.8" cy="718.1" r="5.18"/>
<circle class="wd" cx="719.8" cy="326.7" r="5.18"/>
<circle class="wd" cx="662.4" cy="354.2" r="5.18"/>
<circle class="we" cx="257.1" cy="768.5" r="5.18"/>
<circle class="wd" cx="718.8" cy="308.6" r="5.18"/>
<circle class="we" cx="307.3" cy="690.0" r="5.18"/>
<circle class="we" cx="246.4" cy="738.6" r="5.18"/>
<circle class="we" cx="252.8" cy="782.4" r="5.18"/>
<circle class="wd" cx="573.9" cy="427.6" r="5.18"/>
<circle class="we" cx="276.9" cy="706.8" r="5.18"/>
<circle class="we" cx="275.4" cy="720.1" r="5.18"/>
<circle class="wd" cx="629.1" cy="355.8" r="5.18"/>
<circle class="we" cx="343.6" cy="638.2" r="5.18"/>
<circle class="wd" cx="653.7" cy="331.3" r="5.18"/>
<circle class="wd" cx="658.3" cy="376.0" r="5.18"/>
<circle class="wd" cx="691.5" cy="278.0" r="5.18"/>
<circle class="wd" cx="659.1" cy="342.4" r="5.18"/>
<circle class="wd" cx="659.0" cy="355.5" r="5.18"/>
<circle class="wd" cx="656.2" cy="386.5" r="5.18"/>
<circle class="wd" cx="631.1" cy="345.8" r="5.18"/>
<circle class="we" cx="243.5" cy="748.1" r="5.18"/>
<circle class="we" cx="319.7" cy="679.5" r="5.18"/>
<circle class="wd" cx="660.2" cy="346.2" r="5.18"/>
<circle class="wd" cx="564.4" cy="429.0" r="5.18"/>
<circle class="we" cx="294.8" cy="673.3" r="5.18"/>
<circle class="we" cx="372.3" cy="645.2" r="5.18"/>
<circle class="we" cx="316.4" cy="684.9" r="5.18"/>
<circle class="we" cx="312.1" cy="728.9" r="5.18"/>
<circle class="we" cx="218.8" cy="781.9" r="5.18"/>
<circle class="wd" cx="736.8" cy="283.3" r="5.18"/>
<circle class="wd" cx="625.0" cy="385.6" r="5.18"/>
<circle class="we" cx="205.8" cy="778.2" r="5.18"/>
<circle class="wd" cx="640.5" cy="354.8" r="5.18"/>
<circle class="wd" cx="750.0" cy="261.6" r="5.18"/>
<circle class="wd" cx="689.0" cy="370.8" r="5.18"/>
<circle class="wd" cx="607.0" cy="419.5" r="5.18"/>
<circle class="wd" cx="643.1" cy="344.6" r="5.18"/>
<circle class="we" cx="326.3" cy="661.9" r="5.18"/>
<circle class="we" cx="255.1" cy="786.6" r="5.18"/>
<circle class="wd" cx="536.9" cy="473.3" r="5.18"/>
<circle class="wd" cx="572.6" cy="413.2" r="5.18"/>
<circle class="we" cx="291.0" cy="717.6" r="5.18"/>
<circle class="we" cx="359.4" cy="640.1" r="5.18"/>
<circle class="wd" cx="738.1" cy="307.1" r="5.18"/>
<circle class="wd" cx="541.2" cy="454.7" r="5.18"/>
<circle class="wd" cx="614.8" cy="428.1" r="5.18"/>
<circle class="wd" cx="602.8" cy="411.4" r="5.18"/>
<circle class="we" cx="286.4" cy="708.4" r="5.18"/>
<circle class="we" cx="269.0" cy="725.1" r="5.18"/>
<circle class="wd" cx="648.6" cy="403.6" r="5.18"/>
<circle class="we" cx="271.6" cy="718.7" r="5.18"/>
<circle class="we" cx="304.3" cy="688.9" r="5.18"/>
<circle class="wd" cx="750.3" cy="295.7" r="5.18"/>
<circle class="wd" cx="629.1" cy="397.2" r="5.18"/>
<circle class="wd" cx="638.1" cy="426.1" r="5.18"/>
<circle class="we" cx="203.1" cy="799.6" r="5.18"/>
<circle class="wd" cx="741.4" cy="302.2" r="5.18"/>
<circle class="we" cx="265.6" cy="730.3" r="5.18"/>
<circle class="wd" cx="574.4" cy="425.9" r="5.18"/>
<circle class="we" cx="225.7" cy="798.8" r="5.18"/>
<circle class="wd" cx="556.2" cy="460.5" r="5.18"/>
<circle class="wd" cx="684.4" cy="301.5" r="5.18"/>
<circle class="we" cx="335.2" cy="657.9" r="5.18"/>
<circle class="wd" cx="618.4" cy="345.8" r="5.18"/>
<circle class="we" cx="294.3" cy="669.0" r="5.18"/>
<circle class="we" cx="320.4" cy="691.9" r="5.18"/>
<circle class="wd" cx="693.7" cy="342.6" r="5.18"/>
<circle class="wd" cx="672.8" cy="398.2" r="5.18"/>
<circle class="wd" cx="627.0" cy="410.9" r="5.18"/>
<circle class="wd" cx="652.3" cy="350.0" r="5.18"/>
<circle class="wd" cx="748.9" cy="259.6" r="5.18"/>
<circle class="wd" cx="674.2" cy="353.1" r="5.18"/>
<circle class="wd" cx="581.1" cy="402.1" r="5.18"/>
<circle class="wd" cx="643.7" cy="385.1" r="5.18"/>
<circle class="wd" cx="621.6" cy="376.0" r="5.18"/>
<circle class="we" cx="279.0" cy="748.3" r="5.18"/>
<circle class="we" cx="276.5" cy="729.2" r="5.18"/>
<circle class="wd" cx="580.9" cy="450.2" r="5.18"/>
<circle class="wd" cx="677.3" cy="308.3" r="5.18"/>
<circle class="we" cx="305.5" cy="724.4" r="5.18"/>
<circle class="wd" cx="551.6" cy="477.9" r="5.18"/>
<circle class="wd" cx="627.6" cy="405.2" r="5.18"/>
<circle class="wd" cx="609.6" cy="334.3" r="5.18"/>
<circle class="we" cx="381.6" cy="657.3" r="5.18"/>
<circle class="we" cx="299.4" cy="740.4" r="5.18"/>
<circle class="we" cx="235.9" cy="739.0" r="5.18"/>
<circle class="wd" cx="553.9" cy="477.6" r="5.18"/>
<circle class="we" cx="328.8" cy="680.5" r="5.18"/>
<circle class="wd" cx="652.7" cy="330.6" r="5.18"/>
<circle class="wd" cx="703.6" cy="271.0" r="5.18"/>
<circle class="wd" cx="598.0" cy="465.5" r="5.18"/>
<circle class="we" cx="262.8" cy="734.6" r="5.18"/>
<circle class="we" cx="292.5" cy="668.8" r="5.18"/>
<circle class="wd" cx="751.3" cy="246.0" r="5.18"/>
<circle class="we" cx="228.8" cy="772.4" r="5.18"/>
<circle class="wd" cx="727.3" cy="269.1" r="5.18"/>
<circle class="we" cx="243.5" cy="756.3" r="5.18"/>
<circle class="wd" cx="597.6" cy="412.8" r="5.18"/>
<circle class="we" cx="222.0" cy="807.5" r="5.18"/>
<circle class="wd" cx="579.8" cy="446.1" r="5.18"/>
<circle class="wd" cx="580.7" cy="419.0" r="5.18"/>
<circle class="we" cx="207.4" cy="813.5" r="5.18"/>
<circle class="wd" cx="597.1" cy="400.2" r="5.18"/>
<circle class="we" cx="281.9" cy="697.8" r="5.18"/>
<circle class="wd" cx="678.8" cy="341.7" r="5.18"/>
<circle class="we" cx="259.1" cy="724.6" r="5.18"/>
<circle class="wd" cx="595.4" cy="432.5" r="5.18"/>
<circle class="wd" cx="596.9" cy="440.4" r="5.18"/>
<circle class="we" cx="273.2" cy="696.4" r="5.18"/>
<circle class="we" cx="218.6" cy="788.9" r="5.18"/>
<circle class="wd" cx="631.6" cy="347.5" r="5.18"/>
<circle class="wd" cx="676.0" cy="316.9" r="5.18"/>
<circle class="we" cx="251.1" cy="785.5" r="5.18"/>
<circle class="wd" cx="693.5" cy="301.7" r="5.18"/>
<circle class="we" cx="347.1" cy="653.8" r="5.18"/>
<circle class="wd" cx="722.0" cy="280.5" r="5.18"/>
<circle class="wd" cx="643.5" cy="379.5" r="5.18"/>
<circle class="wd" cx="557.4" cy="418.1" r="5.18"/>
<circle class="we" cx="231.9" cy="755.1" r="5.18"/>
<circle class="we" cx="215.2" cy="812.7" r="5.18"/>
<circle class="wd" cx="668.0" cy="381.9" r="5.18"/>
<circle class="we" cx="302.8" cy="685.9" r="5.18"/>
<circle class="we" cx="289.7" cy="714.3" r="5.18"/>
<circle class="wd" cx="552.9" cy="487.0" r="5.18"/>
<circle class="wd" cx="566.8" cy="433.0" r="5.18"/>
<circle class="wd" cx="767.8" cy="247.6" r="5.18"/>
<circle class="we" cx="227.9" cy="806.0" r="5.18"/>
<circle class="wd" cx="569.7" cy="446.2" r="5.18"/>
<circle class="we" cx="331.9" cy="667.0" r="5.18"/>
<circle class="wd" cx="728.5" cy="276.1" r="5.18"/>
<circle class="wd" cx="698.6" cy="289.0" r="5.18"/>
<circle class="we" cx="366.0" cy="667.8" r="5.18"/>
<circle class="wd" cx="754.0" cy="244.9" r="5.18"/>
<circle class="wd" cx="550.4" cy="464.1" r="5.18"/>
<circle class="wd" cx="623.0" cy="361.7" r="5.18"/>
<circle class="wd" cx="637.1" cy="337.8" r="5.18"/>
<circle class="wd" cx="521.7" cy="468.6" r="5.18"/>
<circle class="wd" cx="602.0" cy="439.1" r="5.18"/>
<circle class="we" cx="280.5" cy="717.0" r="5.18"/>
<circle class="wd" cx="576.2" cy="405.2" r="5.18"/>
<circle class="we" cx="323.1" cy="655.4" r="5.18"/>
<circle class="we" cx="275.1" cy="745.2" r="5.18"/>
<circle class="we" cx="324.6" cy="686.3" r="5.18"/>
<circle class="wd" cx="712.9" cy="313.3" r="5.18"/>
<circle class="wd" cx="708.8" cy="281.0" r="5.18"/>
<circle class="we" cx="333.5" cy="692.3" r="5.18"/>
<circle class="wd" cx="657.0" cy="359.9" r="5.18"/>
<circle class="wd" cx="536.4" cy="460.0" r="5.18"/>
<circle class="we" cx="325.5" cy="665.1" r="5.18"/>
<circle class="wd" cx="677.3" cy="301.3" r="5.18"/>
<circle class="we" cx="283.2" cy="687.6" r="5.18"/>
<circle class="we" cx="262.7" cy="795.2" r="5.18"/>
<circle class="we" cx="235.2" cy="740.9" r="5.18"/>
<circle class="wd" cx="552.6" cy="435.1" r="5.18"/>
<circle class="wd" cx="745.9" cy="268.6" r="5.18"/>
<circle class="we" cx="219.7" cy="795.6" r="5.18"/>
<circle class="we" cx="226.9" cy="811.8" r="5.18"/>
<circle class="wd" cx="768.7" cy="257.5" r="5.18"/>
<circle class="we" cx="310.5" cy="667.6" r="5.18"/>
<circle class="wd" cx="665.8" cy="338.8" r="5.18"/>
<circle class="wd" cx="566.1" cy="479.9" r="5.18"/>
<circle class="wd" cx="629.2" cy="369.5" r="5.18"/>
<circle class="we" cx="283.5" cy="762.4" r="5.18"/>
<circle class="wd" cx="609.9" cy="436.6" r="5.18"/>
<circle class="wd" cx="591.8" cy="412.5" r="5.18"/>
<circle class="wd" cx="745.7" cy="301.5" r="5.18"/>
<circle class="wd" cx="548.8" cy="480.0" r="5.18"/>
<circle class="wd" cx="687.3" cy="348.4" r="5.18"/>
<circle class="we" cx="212.6" cy="786.5" r="5.18"/>
<circle class="wd" cx="677.4" cy="354.9" r="5.18"/>
<circle class="wd" cx="674.5" cy="342.2" r="5.18"/>
<circle class="we" cx="350.2" cy="671.8" r="5.18"/>
<circle class="wd" cx="733.9" cy="303.1" r="5.18"/>
<circle class="we" cx="231.2" cy="799.2" r="5.18"/>
<circle class="wd" cx="616.4" cy="428.4" r="5.18"/>
<circle class="wd" cx="699.8" cy="276.2" r="5.18"/>
<circle class="wd" cx="631.2" cy="359.7" r="5.18"/>
<circle class="we" cx="326.1" cy="667.6" r="5.18"/>
<circle class="wd" cx="562.0" cy="403.6" r="5.18"/>
<circle class="we" cx="270.7" cy="745.1" r="5.18"/>
<circle class="we" cx="195.9" cy="810.4" r="5.18"/>
<circle class="wd" cx="756.4" cy="257.9" r="5.18"/>
<circle class="wd" cx="633.9" cy="377.3" r="5.18"/>
<circle class="wd" cx="609.2" cy="389.6" r="5.18"/>
<circle class="wd" cx="656.5" cy="321.5" r="5.18"/>
<circle class="wd" cx="635.7" cy="295.6" r="5.18"/>
<circle class="wd" cx="559.1" cy="433.6" r="5.18"/>
<circle class="wd" cx="661.5" cy="387.4" r="5.18"/>
<circle class="we" cx="326.7" cy="702.5" r="5.18"/>
<circle class="we" cx="241.3" cy="774.2" r="5.18"/>
<circle class="wd" cx="729.3" cy="295.5" r="5.18"/>
<circle class="wd" cx="612.5" cy="430.9" r="5.18"/>
<circle class="wd" cx="706.3" cy="324.9" r="5.18"/>
<circle class="wd" cx="559.3" cy="464.4" r="5.18"/>
<circle class="we" cx="255.7" cy="748.8" r="5.18"/>
<circle class="wd" cx="689.9" cy="294.3" r="5.18"/>
<circle class="we" cx="292.5" cy="753.1" r="5.18"/>
<circle class="we" cx="214.9" cy="785.5" r="5.18"/>
<circle class="wd" cx="627.2" cy="442.2" r="5.18"/>
<circle class="we" cx="343.4" cy="683.0" r="5.18"/>
<circle class="we" cx="288.5" cy="713.1" r="5.18"/>
<circle class="we" cx="351.3" cy="647.7" r="5.18"/>
<circle class="we" cx="342.1" cy="680.3" r="5.18"/>
<circle class="we" cx="322.6" cy="654.6" r="5.18"/>
<circle class="wd" cx="606.5" cy="414.2" r="5.18"/>
<circle class="wd" cx="711.3" cy="296.4" r="5.18"/>
<circle class="we" cx="294.6" cy="742.0" r="5.18"/>
<circle class="wd" cx="759.8" cy="274.9" r="5.18"/>
<circle class="we" cx="357.8" cy="700.7" r="5.18"/>
<circle class="we" cx="291.2" cy="761.4" r="5.18"/>
<circle class="wd" cx="549.6" cy="428.1" r="5.18"/>
<circle class="wd" cx="673.9" cy="276.1" r="5.18"/>
<circle class="wd" cx="586.8" cy="424.1" r="5.18"/>
<circle class="we" cx="287.8" cy="739.1" r="5.18"/>
<circle class="wd" cx="608.1" cy="402.7" r="5.18"/>
<circle class="wd" cx="688.7" cy="347.7" r="5.18"/>
<circle class="we" cx="334.0" cy="670.9" r="5.18"/>
<circle class="we" cx="247.4" cy="768.4" r="5.18"/>
<circle class="wd" cx="611.5" cy="418.6" r="5.18"/>
<circle class="wd" cx="646.9" cy="374.0" r="5.18"/>
<circle class="wd" cx="551.4" cy="447.0" r="5.18"/>
<circle class="wd" cx="670.5" cy="305.3" r="5.18"/>
<circle class="wd" cx="647.7" cy="373.4" r="5.18"/>
<circle class="wd" cx="625.0" cy="348.7" r="5.18"/>
<circle class="wd" cx="646.3" cy="399.8" r="5.18"/>
<circle class="we" cx="257.3" cy="773.6" r="5.18"/>
<circle class="wd" cx="672.5" cy="311.3" r="5.18"/>
<circle class="wd" cx="722.7" cy="299.3" r="5.18"/>
<circle class="we" cx="272.8" cy="747.2" r="5.18"/>
<circle class="we" cx="360.6" cy="691.4" r="5.18"/>
<circle class="wd" cx="717.5" cy="320.7" r="5.18"/>
<circle class="we" cx="361.0" cy="672.3" r="5.18"/>
<circle class="we" cx="249.8" cy="730.1" r="5.18"/>
<circle class="we" cx="327.5" cy="675.8" r="5.18"/>
<circle class="wd" cx="537.5" cy="469.7" r="5.18"/>
<circle class="wd" cx="676.0" cy="348.3" r="5.18"/>
<circle class="wd" cx="704.7" cy="331.5" r="5.18"/>
<circle class="we" cx="322.5" cy="721.4" r="5.18"/>
<circle class="wd" cx="678.0" cy="323.5" r="5.18"/>
<circle class="wd" cx="752.4" cy="283.4" r="5.18"/>
<circle class="wd" cx="559.8" cy="454.6" r="5.18"/>
<circle class="wd" cx="711.4" cy="328.6" r="5.18"/>
<circle class="we" cx="243.6" cy="718.2" r="5.18"/>
<circle class="we" cx="247.1" cy="739.1" r="5.18"/>
<circle class="we" cx="327.0" cy="674.4" r="5.18"/>
<circle class="we" cx="322.7" cy="673.9" r="5.18"/>
<circle class="wd" cx="639.0" cy="352.9" r="5.18"/>
<circle class="wd" cx="741.5" cy="278.1" r="5.18"/>
<circle class="wd" cx="692.3" cy="307.3" r="5.18"/>
<circle class="we" cx="256.6" cy="781.4" r="5.18"/>
<circle class="wd" cx="631.9" cy="345.6" r="5.18"/>
<circle class="we" cx="335.9" cy="687.7" r="5.18"/>
<circle class="wd" cx="617.5" cy="402.7" r="5.18"/>
<circle class="wd" cx="652.2" cy="301.0" r="5.18"/>
<circle class="wd" cx="654.5" cy="338.9" r="5.18"/>
<circle class="we" cx="246.9" cy="796.5" r="5.18"/>
<circle class="we" cx="375.4" cy="652.4" r="5.18"/>
<circle class="we" cx="219.5" cy="792.1" r="5.18"/>
<circle class="wd" cx="614.5" cy="435.7" r="5.18"/>
<circle class="we" cx="234.4" cy="749.5" r="5.18"/>
<circle class="wd" cx="639.9" cy="405.1" r="5.18"/>
<circle class="wd" cx="587.4" cy="447.1" r="5.18"/>
<circle class="wd" cx="715.4" cy="277.8" r="5.18"/>
<circle class="wd" cx="599.1" cy="413.0" r="5.18"/>
<circle class="we" cx="301.6" cy="709.1" r="5.18"/>
<circle class="we" cx="285.1" cy="745.8" r="5.18"/>
<circle class="wd" cx="705.9" cy="281.1" r="5.18"/>
<circle class="wd" cx="755.2" cy="278.5" r="5.18"/>
<circle class="we" cx="220.2" cy="819.2" r="5.18"/>
<circle class="we" cx="249.4" cy="758.7" r="5.18"/>
<circle class="wd" cx="706.7" cy="268.2" r="5.18"/>
<circle class="we" cx="338.4" cy="697.2" r="5.18"/>
<circle class="we" cx="280.0" cy="766.3" r="5.18"/>
<circle class="we" cx="311.2" cy="655.6" r="5.18"/>
<circle class="we" cx="246.2" cy="765.9" r="5.18"/>
<circle class="wd" cx="693.7" cy="318.0" r="5.18"/>
<circle class="wd" cx="548.2" cy="439.4" r="5.18"/>
<circle class="we" cx="294.1" cy="766.6" r="5.18"/>
<circle class="we" cx="223.3" cy="802.7" r="5.18"/>
<circle class="wd" cx="625.7" cy="428.3" r="5.18"/>
<circle class="we" cx="334.1" cy="713.4" r="5.18"/>
<circle class="wd" cx="557.9" cy="426.6" r="5.18"/>
<circle class="wd" cx="759.3" cy="260.5" r="5.18"/>
<circle class="wd" cx="767.2" cy="242.1" r="5.18"/>
<circle class="we" cx="317.0" cy="667.2" r="5.18"/>
<circle class="wd" cx="552.7" cy="475.1" r="5.18"/>
<circle class="wd" cx="572.8" cy="458.1" r="5.18"/>
<circle class="wd" cx="659.2" cy="329.8" r="5.18"/>
<circle class="wd" cx="656.4" cy="328.4" r="5.18"/>
<circle class="we" cx="249.1" cy="785.8" r="5.18"/>
<circle class="wd" cx="720.4" cy="305.9" r="5.18"/>
<circle class="wd" cx="549.7" cy="413.4" r="5.18"/>
<circle class="wd" cx="623.6" cy="410.5" r="5.18"/>
<circle class="wd" cx="679.1" cy="303.9" r="5.18"/>
<circle class="we" cx="227.7" cy="780.3" r="5.18"/>
<circle class="wd" cx="647.7" cy="347.8" r="5.18"/>
<circle class="wd" cx="635.8" cy="408.2" r="5.18"/>
<circle class="wd" cx="556.6" cy="436.8" r="5.18"/>
<circle class="wd" cx="593.1" cy="479.2" r="5.18"/>
<circle class="we" cx="215.5" cy="788.4" r="5.18"/>
<circle class="wd" cx="593.0" cy="448.7" r="5.18"/>
<circle class="we" cx="283.7" cy="755.8" r="5.18"/>
<circle class="we" cx="277.3" cy="690.3" r="5.18"/>
<circle class="we" cx="259.0" cy="736.3" r="5.18"/>
<circle class="wd" cx="630.2" cy="375.2" r="5.18"/>
<circle class="wd" cx="599.6" cy="441.4" r="5.18"/>
<circle class="wd" cx="667.6" cy="365.3" r="5.18"/>
<circle class="wd" cx="674.9" cy="359.9" r="5.18"/>
<circle class="we" cx="292.6" cy="726.6" r="5.18"/>
<circle class="we" cx="344.8" cy="673.1" r="5.18"/>
<circle class="wd" cx="688.9" cy="360.7" r="5.18"/>
<circle class="we" cx="321.3" cy="648.0" r="5.18"/>
<circle class="we" cx="354.7" cy="643.3" r="5.18"/>
<circle class="wd" cx="589.2" cy="412.6" r="5.18"/>
<circle class="wd" cx="726.0" cy="271.6" r="5.18"/>
<circle class="wd" cx="712.7" cy="307.1" r="5.18"/>
<circle class="wd" cx="667.4" cy="302.7" r="5.18"/>
<circle class="we" cx="285.2" cy="709.0" r="5.18"/>
<circle class="wd" cx="624.9" cy="389.2" r="5.18"/>
<circle class="we" cx="260.8" cy="774.2" r="5.18"/>
<circle class="wd" cx="626.0" cy="424.7" r="5.18"/>
<circle class="we" cx="223.1" cy="790.6" r="5.18"/>
<circle class="wd" cx="759.0" cy="264.5" r="5.18"/>
<circle class="we" cx="265.2" cy="774.6" r="5.18"/>
<circle class="wd" cx="772.8" cy="246.2" r="5.18"/>
<circle class="we" cx="269.1" cy="708.6" r="5.18"/>
<circle class="wd" cx="525.7" cy="421.7" r="5.18"/>
<circle class="we" cx="286.3" cy="692.2" r="5.18"/>
<circle class="wd" cx="612.9" cy="358.3" r="5.18"/>
<circle class="wd" cx="622.9" cy="394.5" r="5.18"/>
<circle class="wd" cx="598.1" cy="394.1" r="5.18"/>
<circle class="we" cx="241.4" cy="772.6" r="5.18"/>
<circle class="wd" cx="542.1" cy="483.8" r="5.18"/>
<circle class="wd" cx="656.3" cy="342.4" r="5.18"/>
<circle class="we" cx="196.8" cy="816.6" r="5.18"/>
<circle class="we" cx="343.2" cy="699.4" r="5.18"/>
<circle class="we" cx="353.8" cy="690.5" r="5.18"/>
<circle class="wd" cx="708.0" cy="274.0" r="5.18"/>
<circle class="we" cx="202.3" cy="812.5" r="5.18"/>
<circle class="wd" cx="726.2" cy="307.7" r="5.18"/>
<circle class="wd" cx="678.0" cy="295.6" r="5.18"/>
<circle class="we" cx="196.0" cy="823.3" r="5.18"/>
<circle class="wd" cx="553.3" cy="438.6" r="5.18"/>
<circle class="wd" cx="643.4" cy="351.8" r="5.18"/>
<circle class="wd" cx="583.0" cy="441.3" r="5.18"/>
<circle class="wd" cx="634.6" cy="400.2" r="5.18"/>
<circle class="wd" cx="712.6" cy="271.3" r="5.18"/>
<circle class="wd" cx="574.2" cy="411.6" r="5.18"/>
<circle class="wd" cx="678.3" cy="353.2" r="5.18"/>
<circle class="we" cx="234.4" cy="773.2" r="5.18"/>
<circle class="wd" cx="730.3" cy="287.9" r="5.18"/>
<circle class="wd" cx="676.9" cy="317.6" r="5.18"/>
<circle class="we" cx="230.4" cy="784.1" r="5.18"/>
<circle class="wd" cx="691.3" cy="289.0" r="5.18"/>
<circle class="we" cx="325.3" cy="677.8" r="5.18"/>
<circle class="wd" cx="651.1" cy="395.4" r="5.18"/>
<circle class="we" cx="332.6" cy="688.6" r="5.18"/>
<circle class="we" cx="341.4" cy="661.1" r="5.18"/>
<circle class="wd" cx="603.4" cy="407.6" r="5.18"/>
<circle class="wd" cx="693.5" cy="374.0" r="5.18"/>
<circle class="wd" cx="753.5" cy="263.4" r="5.18"/>
<circle class="we" cx="279.6" cy="743.3" r="5.18"/>
<circle class="wd" cx="613.8" cy="396.7" r="5.18"/>
<circle class="we" cx="268.2" cy="711.9" r="5.18"/>
<circle class="wd" cx="558.8" cy="421.9" r="5.18"/>
<circle class="wd" cx="650.8" cy="352.1" r="5.18"/>
<circle class="we" cx="301.6" cy="675.9" r="5.18"/>
<circle class="wd" cx="671.0" cy="370.8" r="5.18"/>
<circle class="we" cx="222.2" cy="783.0" r="5.18"/>
<circle class="wd" cx="686.2" cy="350.9" r="5.18"/>
<circle class="we" cx="238.8" cy="735.1" r="5.18"/>
<circle class="we" cx="356.3" cy="641.2" r="5.18"/>
<circle class="wd" cx="611.2" cy="408.6" r="5.18"/>
<circle class="wd" cx="574.4" cy="440.4" r="5.18"/>
<circle class="wd" cx="672.3" cy="375.7" r="5.18"/>
<circle class="we" cx="334.9" cy="632.6" r="5.18"/>
<circle class="wd" cx="594.6" cy="414.9" r="5.18"/>
<circle class="wd" cx="657.7" cy="324.2" r="5.18"/>
<circle class="wd" cx="656.2" cy="344.8" r="5.18"/>
<circle class="wd" cx="653.0" cy="374.7" r="5.18"/>
<circle class="wd" cx="753.9" cy="307.6" r="5.18"/>
<circle class="wd" cx="584.0" cy="400.2" r="5.18"/>
<circle class="wd" cx="698.2" cy="281.5" r="5.18"/>
<circle class="we" cx="341.5" cy="665.1" r="5.18"/>
<circle class="wd" cx="583.7" cy="457.4" r="5.18"/>
<circle class="wd" cx="679.2" cy="316.2" r="5.18"/>
<circle class="wd" cx="608.0" cy="411.7" r="5.18"/>
<circle class="we" cx="368.4" cy="627.1" r="5.18"/>
<circle class="wd" cx="553.5" cy="391.8" r="5.18"/>
<circle class="wd" cx="596.5" cy="336.0" r="5.18"/>
<circle class="wd" cx="749.0" cy="246.1" r="5.18"/>
<circle class="we" cx="299.1" cy="761.3" r="5.18"/>
<circle class="wd" cx="584.8" cy="445.1" r="5.18"/>
<circle class="we" cx="296.8" cy="696.7" r="5.18"/>
<circle class="wd" cx="534.6" cy="459.9" r="5.18"/>
<circle class="wd" cx="769.5" cy="251.5" r="5.18"/>
<circle class="we" cx="303.2" cy="676.5" r="5.18"/>
<circle class="wd" cx="647.7" cy="301.3" r="5.18"/>
<circle class="wd" cx="616.5" cy="395.2" r="5.18"/>
<circle class="we" cx="202.4" cy="804.0" r="5.18"/>
<circle class="wd" cx="708.3" cy="302.5" r="5.18"/>
<circle class="we" cx="314.1" cy="665.9" r="5.18"/>
<circle class="we" cx="364.0" cy="650.1" r="5.18"/>
<circle class="we" cx="328.6" cy="694.5" r="5.18"/>
<circle class="wd" cx="633.8" cy="353.4" r="5.18"/>
<circle class="wd" cx="651.7" cy="385.0" r="5.18"/>
<circle class="wd" cx="645.0" cy="290.8" r="5.18"/>
<circle class="wd" cx="600.8" cy="466.3" r="5.18"/>
<circle class="wd" cx="739.2" cy="241.5" r="5.18"/>
<circle class="wd" cx="719.9" cy="306.9" r="5.18"/>
<circle class="wd" cx="732.2" cy="290.3" r="5.18"/>
<circle class="we" cx="246.6" cy="794.3" r="5.18"/>
<circle class="wd" cx="563.2" cy="474.2" r="5.18"/>
<circle class="wd" cx="596.0" cy="446.8" r="5.18"/>
<circle class="we" cx="271.0" cy="738.9" r="5.18"/>
<circle class="we" cx="286.5" cy="769.1" r="5.18"/>
<circle class="we" cx="310.7" cy="733.8" r="5.18"/>
<circle class="we" cx="308.4" cy="739.4" r="5.18"/>
<circle class="wd" cx="731.4" cy="287.4" r="5.18"/>
<circle class="wd" cx="630.9" cy="414.4" r="5.18"/>
<circle class="we" cx="320.0" cy="706.4" r="5.18"/>
<circle class="wd" cx="756.1" cy="274.4" r="5.18"/>
<circle class="we" cx="360.7" cy="643.7" r="5.18"/>
<circle class="wd" cx="602.8" cy="361.3" r="5.18"/>
<circle class="wd" cx="612.5" cy="385.1" r="5.18"/>
<circle class="we" cx="284.6" cy="748.7" r="5.18"/>
<circle class="wd" cx="546.8" cy="468.2" r="5.18"/>
<circle class="we" cx="317.7" cy="701.9" r="5.18"/>
<circle class="we" cx="233.1" cy="753.0" r="5.18"/>
<circle class="we" cx="318.1" cy="663.6" r="5.18"/>
<circle class="we" cx="229.1" cy="775.0" r="5.18"/>
<circle class="we" cx="239.7" cy="790.8" r="5.18"/>
<circle class="wd" cx="721.6" cy="339.6" r="5.18"/>
<circle class="we" cx="356.2" cy="669.6" r="5.18"/>
<circle class="we" cx="324.3" cy="649.8" r="5.18"/>
<circle class="we" cx="366.4" cy="652.1" r="5.18"/>
<circle class="we" cx="307.1" cy="724.6" r="5.18"/>
<circle class="wd" cx="599.2" cy="380.6" r="5.18"/>
<circle class="we" cx="342.7" cy="686.1" r="5.18"/>
<circle class="wd" cx="575.3" cy="447.7" r="5.18"/>
<circle class="we" cx="321.9" cy="712.6" r="5.18"/>
<circle class="wd" cx="690.3" cy="296.8" r="5.18"/>
<circle class="we" cx="229.6" cy="739.3" r="5.18"/>
<circle class="wd" cx="628.1" cy="353.0" r="5.18"/>
<circle class="wd" cx="706.1" cy="301.2" r="5.18"/>
<circle class="wd" cx="735.5" cy="278.3" r="5.18"/>
<circle class="we" cx="279.3" cy="756.1" r="5.18"/>
<circle class="we" cx="217.6" cy="764.3" r="5.18"/>
<circle class="we" cx="213.5" cy="788.5" r="5.18"/>
<circle class="wd" cx="579.1" cy="434.5" r="5.18"/>
<circle class="we" cx="290.6" cy="682.8" r="5.18"/>
<circle class="we" cx="248.3" cy="791.3" r="5.18"/>
<circle class="wd" cx="602.1" cy="450.5" r="5.18"/>
<circle class="we" cx="318.4" cy="652.2" r="5.18"/>
<circle class="wd" cx="745.1" cy="276.1" r="5.18"/>
<circle class="wd" cx="562.9" cy="447.6" r="5.18"/>
<circle class="wd" cx="661.6" cy="357.6" r="5.18"/>
<circle class="wd" cx="570.8" cy="466.4" r="5.18"/>
<circle class="wd" cx="725.7" cy="275.9" r="5.18"/>
<circle class="wd" cx="573.5" cy="397.2" r="5.18"/>
<circle class="we" cx="320.9" cy="658.1" r="5.18"/>
<circle class="wd" cx="700.9" cy="342.7" r="5.18"/>
<circle class="wd" cx="771.0" cy="267.1" r="5.18"/>
<circle class="wd" cx="739.3" cy="261.0" r="5.18"/>
<circle class="wd" cx="609.2" cy="436.5" r="5.18"/>
<circle class="wd" cx="739.2" cy="257.2" r="5.18"/>
<circle class="we" cx="293.3" cy="689.1" r="5.18"/>
<circle class="wd" cx="589.4" cy="428.8" r="5.18"/>
<circle class="wd" cx="665.5" cy="383.4" r="5.18"/>
<circle class="wd" cx="662.0" cy="318.8" r="5.18"/>
<circle class="wd" cx="728.2" cy="278.5" r="5.18"/>
<circle class="wd" cx="598.1" cy="399.6" r="5.18"/>
<circle class="we" cx="226.8" cy="788.3" r="5.18"/>
<circle class="wd" cx="697.3" cy="329.9" r="5.18"/>
<circle class="wd" cx="532.3" cy="429.0" r="5.18"/>
<circle class="we" cx="242.5" cy="721.6" r="5.18"/>
<circle class="wd" cx="709.8" cy="270.3" r="5.18"/>
<circle class="wd" cx="597.8" cy="427.7" r="5.18"/>
<circle class="wd" cx="746.3" cy="303.2" r="5.18"/>
<circle class="wd" cx="684.9" cy="284.6" r="5.18"/>
<circle class="we" cx="253.6" cy="759.0" r="5.18"/>
<circle class="we" cx="367.5" cy="625.6" r="5.18"/>
<circle class="wd" cx="742.2" cy="305.3" r="5.18"/>
<circle class="wd" cx="716.1" cy="271.9" r="5.18"/>
<circle class="we" cx="350.9" cy="687.2" r="5.18"/>
<circle class="wd" cx="554.8" cy="444.8" r="5.18"/>
<circle class="wd" cx="660.4" cy="308.5" r="5.18"/>
<circle class="wd" cx="563.9" cy="414.8" r="5.18"/>
<circle class="we" cx="271.8" cy="734.0" r="5.18"/>
<circle class="we" cx="294.3" cy="686.0" r="5.18"/>
<circle class="wd" cx="696.4" cy="277.1" r="5.18"/>
<circle class="we" cx="246.8" cy="791.3" r="5.18"/>
<circle class="wd" cx="576.3" cy="429.1" r="5.18"/>
<circle class="wd" cx="632.0" cy="389.2" r="5.18"/>
<circle class="we" cx="297.5" cy="688.9" r="5.18"/>
<circle class="wd" cx="679.9" cy="363.6" r="5.18"/>
<circle class="wd" cx="624.1" cy="380.4" r="5.18"/>
<circle class="wd" cx="618.1" cy="376.0" r="5.18"/>
<circle class="we" cx="298.3" cy="684.4" r="5.18"/>
<circle class="we" cx="275.5" cy="716.1" r="5.18"/>
<circle class="wd" cx="692.3" cy="324.7" r="5.18"/>
<circle class="wd" cx="571.7" cy="436.7" r="5.18"/>
<circle class="wd" cx="590.4" cy="393.7" r="5.18"/>
<circle class="wd" cx="661.8" cy="412.7" r="5.18"/>
<circle class="we" cx="365.3" cy="658.2" r="5.18"/>
<circle class="wd" cx="665.7" cy="341.4" r="5.18"/>
<circle class="wd" cx="570.3" cy="433.8" r="5.18"/>
<circle class="wd" cx="661.0" cy="340.8" r="5.18"/>
<circle class="we" cx="291.9" cy="741.2" r="5.18"/>
<circle class="we" cx="235.3" cy="790.6" r="5.18"/>
<circle class="wd" cx="678.6" cy="359.9" r="5.18"/>
<circle class="we" cx="271.5" cy="705.9" r="5.18"/>
<circle class="we" cx="250.3" cy="756.5" r="5.18"/>
<circle class="wd" cx="679.8" cy="312.4" r="5.18"/>
<circle class="we" cx="318.7" cy="694.0" r="5.18"/>
<circle class="we" cx="368.2" cy="634.9" r="5.18"/>
<circle class="wd" cx="627.9" cy="346.0" r="5.18"/>
<circle class="we" cx="256.9" cy="788.1" r="5.18"/>
<circle class="wd" cx="707.0" cy="283.5" r="5.18"/>
<circle class="wd" cx="655.1" cy="352.9" r="5.18"/>
<circle class="we" cx="288.1" cy="754.9" r="5.18"/>
<circle class="we" cx="308.2" cy="691.6" r="5.18"/>
<circle class="wd" cx="665.3" cy="308.9" r="5.18"/>
<circle class="wd" cx="534.4" cy="482.8" r="5.18"/>
<circle class="wd" cx="589.7" cy="446.4" r="5.18"/>
<circle class="we" cx="196.8" cy="825.8" r="5.18"/>
<circle class="we" cx="299.8" cy="703.3" r="5.18"/>
<circle class="wd" cx="595.4" cy="408.3" r="5.18"/>
<circle class="we" cx="341.8" cy="635.2" r="5.18"/>
<circle class="wd" cx="557.0" cy="463.7" r="5.18"/>
<circle class="we" cx="247.9" cy="740.7" r="5.18"/>
<circle class="wd" cx="581.7" cy="453.1" r="5.18"/>
<circle class="we" cx="319.0" cy="712.1" r="5.18"/>
<circle class="we" cx="296.8" cy="763.8" r="5.18"/>
<circle class="wd" cx="631.1" cy="391.6" r="5.18"/>
<circle class="we" cx="336.3" cy="699.8" r="5.18"/>
<circle class="we" cx="304.0" cy="739.3" r="5.18"/>
<circle class="wd" cx="575.2" cy="367.5" r="5.18"/>
<circle class="we" cx="286.6" cy="772.3" r="5.18"/>
<circle class="we" cx="308.3" cy="684.5" r="5.18"/>
<circle class="wd" cx="651.5" cy="377.4" r="5.18"/>
<circle class="we" cx="289.5" cy="752.6" r="5.18"/>
<circle class="we" cx="339.9" cy="662.4" r="5.18"/>
<circle class="wd" cx="601.2" cy="394.2" r="5.18"/>
<circle class="wd" cx="748.7" cy="265.7" r="5.18"/>
<circle class="we" cx="333.1" cy="681.4" r="5.18"/>
<circle class="we" cx="239.0" cy="793.4" r="5.18"/>
<circle class="wd" cx="688.2" cy="282.1" r="5.18"/>
<circle class="we" cx="303.7" cy="711.5" r="5.18"/>
<circle class="we" cx="317.0" cy="698.5" r="5.18"/>
<circle class="wd" cx="553.1" cy="452.6" r="5.18"/>
<circle class="wd" cx="624.9" cy="376.3" r="5.18"/>
<circle class="we" cx="300.7" cy="705.9" r="5.18"/>
<circle class="wd" cx="718.1" cy="301.2" r="5.18"/>
<circle class="wd" cx="679.7" cy="367.7" r="5.18"/>
<circle class="wd" cx="554.4" cy="454.0" r="5.18"/>
<circle class="wd" cx="702.3" cy="322.7" r="5.18"/>
<circle class="wd" cx="644.1" cy="362.6" r="5.18"/>
<circle class="wd" cx="666.9" cy="377.2" r="5.18"/>
<circle class="wd" cx="556.6" cy="451.3" r="5.18"/>
<circle class="we" cx="267.6" cy="723.5" r="5.18"/>
<circle class="we" cx="294.8" cy="707.2" r="5.18"/>
<circle class="wd" cx="768.7" cy="259.5" r="5.18"/>
<circle class="wd" cx="731.1" cy="268.4" r="5.18"/>
<circle class="wd" cx="710.5" cy="355.6" r="5.18"/>
<circle class="wd" cx="674.8" cy="390.2" r="5.18"/>
<circle class="we" cx="297.5" cy="712.0" r="5.18"/>
<circle class="wd" cx="721.4" cy="286.4" r="5.18"/>
<circle class="we" cx="205.5" cy="817.4" r="5.18"/>
<circle class="wd" cx="693.4" cy="276.3" r="5.18"/>
<circle class="we" cx="288.0" cy="685.3" r="5.18"/>
<circle class="we" cx="267.2" cy="738.3" r="5.18"/>
<circle class="wd" cx="693.0" cy="282.5" r="5.18"/>
<circle class="wd" cx="673.7" cy="297.6" r="5.18"/>
<circle class="we" cx="300.2" cy="682.6" r="5.18"/>
<circle class="wd" cx="625.1" cy="365.0" r="5.18"/>
<circle class="wd" cx="586.5" cy="444.6" r="5.18"/>
<circle class="wd" cx="680.3" cy="299.1" r="5.18"/>
<circle class="wd" cx="576.9" cy="421.7" r="5.18"/>
<circle class="we" cx="307.2" cy="668.4" r="5.18"/>
<circle class="wd" cx="547.1" cy="447.5" r="5.18"/>
<circle class="we" cx="334.6" cy="673.6" r="5.18"/>
<circle class="we" cx="232.7" cy="800.5" r="5.18"/>
<circle class="wd" cx="711.2" cy="317.7" r="5.18"/>
<circle class="wd" cx="649.5" cy="348.8" r="5.18"/>
<circle class="we" cx="249.3" cy="748.7" r="5.18"/>
<circle class="wd" cx="733.8" cy="251.3" r="5.18"/>
<circle class="wd" cx="614.1" cy="372.7" r="5.18"/>
<circle class="wd" cx="748.9" cy="248.5" r="5.18"/>
<circle class="wd" cx="554.7" cy="426.0" r="5.18"/>
<circle class="wd" cx="651.9" cy="362.3" r="5.18"/>
<circle class="we" cx="197.2" cy="793.9" r="5.18"/>
<circle class="wd" cx="742.4" cy="268.0" r="5.18"/>
<circle class="wd" cx="611.0" cy="376.4" r="5.18"/>
<circle class="wd" cx="704.5" cy="271.6" r="5.18"/>
<circle class="we" cx="282.7" cy="770.3" r="5.18"/>
<circle class="we" cx="314.2" cy="719.9" r="5.18"/>
<circle class="we" cx="304.4" cy="744.1" r="5.18"/>
<circle class="we" cx="328.3" cy="692.3" r="5.18"/>
<circle class="wd" cx="550.1" cy="393.7" r="5.18"/>
<circle class="we" cx="205.8" cy="814.2" r="5.18"/>
<circle class="wd" cx="566.3" cy="408.4" r="5.18"/>
<circle class="we" cx="252.6" cy="789.2" r="5.18"/>
<circle class="wd" cx="653.8" cy="299.7" r="5.18"/>
<circle class="we" cx="219.0" cy="759.6" r="5.18"/>
<circle class="we" cx="365.7" cy="650.5" r="5.18"/>
<circle class="we" cx="301.3" cy="733.2" r="5.18"/>
<circle class="wd" cx="573.4" cy="398.3" r="5.18"/>
<circle class="we" cx="348.5" cy="672.9" r="5.18"/>
<circle class="we" cx="314.1" cy="676.5" r="5.18"/>
<circle class="wd" cx="680.7" cy="306.9" r="5.18"/>
<circle class="wd" cx="620.5" cy="366.3" r="5.18"/>
<circle class="wd" cx="567.1" cy="404.2" r="5.18"/>
<circle class="wd" cx="622.2" cy="369.3" r="5.18"/>
<circle class="we" cx="243.7" cy="734.2" r="5.18"/>
<circle class="we" cx="363.9" cy="662.4" r="5.18"/>
<circle class="we" cx="311.1" cy="675.3" r="5.18"/>
<circle class="wd" cx="647.4" cy="358.0" r="5.18"/>
<circle class="wd" cx="712.6" cy="282.7" r="5.18"/>
<circle class="we" cx="314.1" cy="710.2" r="5.18"/>
<circle class="wd" cx="575.7" cy="467.1" r="5.18"/>
<circle class="we" cx="289.4" cy="762.4" r="5.18"/>
<circle class="wd" cx="612.7" cy="415.5" r="5.18"/>
<circle class="wd" cx="737.6" cy="241.3" r="5.18"/>
<circle class="we" cx="254.8" cy="735.5" r="5.18"/>
<circle class="wd" cx="588.6" cy="380.1" r="5.18"/>
<circle class="wd" cx="707.0" cy="328.5" r="5.18"/>
<circle class="wd" cx="556.0" cy="397.4" r="5.18"/>
<circle class="wd" cx="710.9" cy="338.9" r="5.18"/>
<circle class="wd" cx="567.1" cy="423.0" r="5.18"/>
<circle class="we" cx="271.9" cy="709.7" r="5.18"/>
<circle class="wd" cx="729.3" cy="283.9" r="5.18"/>
<circle class="we" cx="274.7" cy="756.7" r="5.18"/>
<circle class="wd" cx="695.5" cy="289.7" r="5.18"/>
<circle class="we" cx="238.3" cy="804.2" r="5.18"/>
<circle class="wd" cx="714.5" cy="332.6" r="5.18"/>
<circle class="wd" cx="606.9" cy="370.6" r="5.18"/>
<circle class="wd" cx="561.4" cy="445.0" r="5.18"/>
<circle class="wd" cx="695.3" cy="297.8" r="5.18"/>
<circle class="wd" cx="552.8" cy="469.2" r="5.18"/>
<circle class="wd" cx="668.7" cy="357.4" r="5.18"/>
<circle class="wd" cx="575.0" cy="446.7" r="5.18"/>
<circle class="we" cx="221.0" cy="786.8" r="5.18"/>
<circle class="wd" cx="665.4" cy="325.8" r="5.18"/>
<circle class="we" cx="328.1" cy="688.4" r="5.18"/>
<circle class="we" cx="277.7" cy="689.9" r="5.18"/>
<circle class="wd" cx="588.2" cy="374.7" r="5.18"/>
<circle class="wd" cx="611.6" cy="364.8" r="5.18"/>
<circle class="we" cx="353.5" cy="656.8" r="5.18"/>
<circle class="wd" cx="682.1" cy="356.3" r="5.18"/>
<circle class="wd" cx="664.3" cy="313.6" r="5.18"/>
<circle class="wd" cx="721.2" cy="324.4" r="5.18"/>
<circle class="we" cx="301.8" cy="720.4" r="5.18"/>
<circle class="wd" cx="678.6" cy="287.5" r="5.18"/>
<circle class="we" cx="292.7" cy="722.8" r="5.18"/>
<circle class="wd" cx="674.8" cy="337.8" r="5.18"/>
<circle class="we" cx="245.0" cy="744.4" r="5.18"/>
<circle class="we" cx="272.4" cy="712.3" r="5.18"/>
<circle class="wd" cx="580.8" cy="440.5" r="5.18"/>
<circle class="we" cx="218.3" cy="808.2" r="5.18"/>
<circle class="we" cx="378.1" cy="639.9" r="5.18"/>
<circle class="we" cx="250.4" cy="770.0" r="5.18"/>
<circle class="wd" cx="627.6" cy="408.4" r="5.18"/>
<circle class="we" cx="359.8" cy="686.8" r="5.18"/>
<circle class="wd" cx="578.0" cy="445.2" r="5.18"/>
<circle class="wd" cx="600.8" cy="390.8" r="5.18"/>
<circle class="we" cx="267.5" cy="753.7" r="5.18"/>
<circle class="wd" cx="565.5" cy="439.6" r="5.18"/>
<circle class="wd" cx="575.1" cy="423.0" r="5.18"/>
<circle class="wd" cx="660.5" cy="321.5" r="5.18"/>
<circle class="we" cx="259.1" cy="743.9" r="5.18"/>
<circle class="wd" cx="677.3" cy="304.7" r="5.18"/>
<circle class="wd" cx="759.9" cy="242.5" r="5.18"/>
<circle class="we" cx="272.8" cy="741.2" r="5.18"/>
<circle class="we" cx="233.3" cy="794.6" r="5.18"/>
<circle class="wd" cx="650.5" cy="363.4" r="5.18"/>
<circle class="wd" cx="630.6" cy="401.0" r="5.18"/>
<circle class="wd" cx="657.6" cy="316.5" r="5.18"/>
<circle class="wd" cx="697.8" cy="321.3" r="5.18"/>
<circle class="wd" cx="711.9" cy="335.3" r="5.18"/>
<circle class="we" cx="303.3" cy="683.8" r="5.18"/>
<circle class="wd" cx="687.5" cy="334.2" r="5.18"/>
<circle class="we" cx="321.4" cy="688.5" r="5.18"/>
<circle class="we" cx="228.6" cy="801.6" r="5.18"/>
<circle class="wd" cx="710.6" cy="271.6" r="5.18"/>
<circle class="wd" cx="661.3" cy="388.2" r="5.18"/>
<circle class="wd" cx="674.2" cy="360.5" r="5.18"/>
<circle class="we" cx="349.8" cy="679.6" r="5.18"/>
<circle class="wd" cx="594.2" cy="394.8" r="5.18"/>
<circle class="we" cx="254.8" cy="779.2" r="5.18"/>
<circle class="wd" cx="648.7" cy="317.9" r="5.18"/>
<circle class="wd" cx="623.6" cy="356.0" r="5.18"/>
<circle class="we" cx="277.9" cy="692.9" r="5.18"/>
<circle class="wd" cx="724.2" cy="320.1" r="5.18"/>
<circle class="wd" cx="599.7" cy="429.0" r="5.18"/>
<circle class="wd" cx="610.5" cy="404.9" r="5.18"/>
<circle class="wd" cx="691.2" cy="321.6" r="5.18"/>
<circle class="wd" cx="661.6" cy="293.8" r="5.18"/>
<circle class="wd" cx="617.2" cy="356.2" r="5.18"/>
<circle class="wd" cx="553.8" cy="389.0" r="5.18"/>
<circle class="wd" cx="757.8" cy="266.7" r="5.18"/>
<circle class="wd" cx="632.8" cy="396.9" r="5.18"/>
<circle class="we" cx="257.3" cy="741.9" r="5.18"/>
<circle class="we" cx="334.9" cy="627.8" r="5.18"/>
<circle class="we" cx="251.7" cy="729.1" r="5.18"/>
<circle class="we" cx="349.6" cy="627.3" r="5.18"/>
<circle class="wd" cx="772.0" cy="255.7" r="5.18"/>
<circle class="we" cx="312.3" cy="650.6" r="5.18"/>
<circle class="wd" cx="546.2" cy="456.2" r="5.18"/>
<circle class="wd" cx="568.5" cy="418.5" r="5.18"/>
<circle class="wd" cx="641.7" cy="408.5" r="5.18"/>
<circle class="wd" cx="746.1" cy="290.7" r="5.18"/>
<circle class="wd" cx="559.2" cy="450.9" r="5.18"/>
<circle class="we" cx="311.1" cy="706.7" r="5.18"/>
<circle class="we" cx="353.4" cy="676.0" r="5.18"/>
<circle class="wd" cx="689.8" cy="369.0" r="5.18"/>
<circle class="we" cx="285.2" cy="715.0" r="5.18"/>
<circle class="wd" cx="692.0" cy="314.2" r="5.18"/>
<circle class="wd" cx="547.6" cy="472.8" r="5.18"/>
<circle class="wd" cx="575.2" cy="432.9" r="5.18"/>
<circle class="wd" cx="693.7" cy="362.4" r="5.18"/>
<circle class="wd" cx="734.6" cy="297.6" r="5.18"/>
<circle class="wd" cx="649.4" cy="316.7" r="5.18"/>
<circle class="we" cx="286.3" cy="712.5" r="5.18"/>
<circle class="we" cx="237.0" cy="796.8" r="5.18"/>
<circle class="wd" cx="577.0" cy="450.7" r="5.18"/>
<circle class="we" cx="355.4" cy="648.2" r="5.18"/>
<circle class="we" cx="281.2" cy="705.0" r="5.18"/>
<circle class="wd" cx="620.2" cy="402.2" r="5.18"/>
<circle class="we" cx="271.5" cy="761.7" r="5.18"/>
<circle class="wd" cx="717.8" cy="294.8" r="5.18"/>
<circle class="we" cx="278.5" cy="717.3" r="5.18"/>
<circle class="wd" cx="668.7" cy="322.1" r="5.18"/>
<circle class="wd" cx="551.1" cy="436.6" r="5.18"/>
<circle class="wd" cx="744.9" cy="281.9" r="5.18"/>
<circle class="wd" cx="648.0" cy="315.2" r="5.18"/>
<circle class="wd" cx="708.7" cy="291.1" r="5.18"/>
<circle class="wd" cx="671.3" cy="349.4" r="5.18"/>
<circle class="wd" cx="754.2" cy="278.0" r="5.18"/>
<circle class="wd" cx="697.7" cy="291.1" r="5.18"/>
<circle class="wd" cx="652.0" cy="326.4" r="5.18"/>
<circle class="wd" cx="704.8" cy="344.1" r="5.18"/>
<circle class="wd" cx="558.3" cy="477.1" r="5.18"/>
<circle class="wd" cx="693.3" cy="338.1" r="5.18"/>
<circle class="wd" cx="690.9" cy="359.2" r="5.18"/>
<circle class="we" cx="269.5" cy="730.1" r="5.18"/>
<circle class="we" cx="209.5" cy="795.4" r="5.18"/>
<circle class="wd" cx="582.5" cy="429.7" r="5.18"/>
<circle class="we" cx="300.7" cy="724.8" r="5.18"/>
<circle class="wd" cx="552.0" cy="479.7" r="5.18"/>
<circle class="wd" cx="681.9" cy="348.6" r="5.18"/>
<circle class="we" cx="283.9" cy="752.8" r="5.18"/>
<circle class="we" cx="307.6" cy="729.2" r="5.18"/>
<circle class="wd" cx="551.1" cy="460.9" r="5.18"/>
<circle class="wd" cx="583.4" cy="422.3" r="5.18"/>
<circle class="we" cx="231.2" cy="768.2" r="5.18"/>
<circle class="wd" cx="623.1" cy="403.4" r="5.18"/>
<circle class="wd" cx="582.3" cy="391.7" r="5.18"/>
<circle class="wd" cx="715.0" cy="314.5" r="5.18"/>
<circle class="wd" cx="631.5" cy="394.3" r="5.18"/>
<circle class="wd" cx="715.4" cy="356.5" r="5.18"/>
<circle class="we" cx="337.4" cy="677.5" r="5.18"/>
<circle class="we" cx="308.2" cy="684.1" r="5.18"/>
<circle class="wd" cx="599.3" cy="405.9" r="5.18"/>
<circle class="wd" cx="764.7" cy="259.6" r="5.18"/>
<circle class="wd" cx="566.9" cy="464.9" r="5.18"/>
<circle class="wd" cx="590.5" cy="431.1" r="5.18"/>
<circle class="wd" cx="685.5" cy="332.7" r="5.18"/>
<circle class="wd" cx="580.2" cy="406.7" r="5.18"/>
<circle class="wd" cx="703.8" cy="339.8" r="5.18"/>
<circle class="wd" cx="542.7" cy="469.3" r="5.18"/>
<circle class="wd" cx="610.4" cy="410.3" r="5.18"/>
<circle class="we" cx="274.3" cy="709.2" r="5.18"/>
<circle class="wd" cx="689.2" cy="315.2" r="5.18"/>
<circle class="we" cx="340.9" cy="694.2" r="5.18"/>
<circle class="we" cx="366.9" cy="655.0" r="5.18"/>
<circle class="we" cx="320.1" cy="687.7" r="5.18"/>
<circle class="we" cx="246.6" cy="771.6" r="5.18"/>
<circle class="we" cx="252.8" cy="757.7" r="5.18"/>
<circle class="wd" cx="612.5" cy="382.2" r="5.18"/>
<circle class="we" cx="351.6" cy="670.8" r="5.18"/>
<circle class="wd" cx="616.6" cy="329.8" r="5.18"/>
<circle class="wd" cx="617.7" cy="369.6" r="5.18"/>
<circle class="wd" cx="635.3" cy="413.5" r="5.18"/>
<circle class="wd" cx="549.1" cy="439.7" r="5.18"/>
<circle class="we" cx="352.6" cy="646.2" r="5.18"/>
<circle class="wd" cx="577.1" cy="465.0" r="5.18"/>
<circle class="we" cx="302.9" cy="712.2" r="5.18"/>
<circle class="we" cx="224.4" cy="790.3" r="5.18"/>
<circle class="wd" cx="580.2" cy="396.0" r="5.18"/>
<circle class="we" cx="294.0" cy="701.6" r="5.18"/>
<circle class="wd" cx="665.2" cy="347.5" r="5.18"/>
<circle class="we" cx="266.5" cy="718.5" r="5.18"/>
<circle class="wd" cx="697.0" cy="338.0" r="5.18"/>
<circle class="we" cx="350.9" cy="692.0" r="5.18"/>
<circle class="wd" cx="636.4" cy="334.9" r="5.18"/>
<circle class="wd" cx="563.1" cy="472.0" r="5.18"/>
<circle class="we" cx="294.1" cy="717.5" r="5.18"/>
<circle class="we" cx="298.7" cy="670.9" r="5.18"/>
<circle class="wd" cx="650.2" cy="298.3" r="5.18"/>
<circle class="we" cx="294.0" cy="682.0" r="5.18"/>
<circle class="wd" cx="571.4" cy="412.2" r="5.18"/>
<circle class="we" cx="297.0" cy="692.5" r="5.18"/>
<circle class="we" cx="249.9" cy="753.4" r="5.18"/>
<circle class="we" cx="385.7" cy="656.7" r="5.18"/>
<circle class="we" cx="239.0" cy="777.0" r="5.18"/>
<circle class="we" cx="318.4" cy="707.2" r="5.18"/>
<circle class="we" cx="247.1" cy="771.4" r="5.18"/>
<circle class="wd" cx="709.9" cy="347.3" r="5.18"/>
<circle class="wd" cx="618.4" cy="387.1" r="5.18"/>
<circle class="wd" cx="592.0" cy="373.3" r="5.18"/>
<circle class="we" cx="320.4" cy="702.1" r="5.18"/>
<circle class="wd" cx="650.3" cy="368.0" r="5.18"/>
<circle class="we" cx="241.4" cy="736.2" r="5.18"/>
<circle class="we" cx="289.7" cy="759.9" r="5.18"/>
<circle class="wd" cx="578.2" cy="456.4" r="5.18"/>
<circle class="wd" cx="534.7" cy="467.6" r="5.18"/>
<circle class="wd" cx="754.4" cy="244.0" r="5.18"/>
<circle class="we" cx="293.9" cy="760.9" r="5.18"/>
<circle class="we" cx="271.8" cy="724.3" r="5.18"/>
<circle class="wd" cx="733.7" cy="285.1" r="5.18"/>
<circle class="wd" cx="646.2" cy="381.2" r="5.18"/>
<circle class="we" cx="261.0" cy="796.3" r="5.18"/>
<circle class="we" cx="288.1" cy="765.8" r="5.18"/>
<circle class="wd" cx="620.0" cy="421.4" r="5.18"/>
<circle class="wd" cx="639.1" cy="345.6" r="5.18"/>
<circle class="wd" cx="573.5" cy="468.8" r="5.18"/>
<circle class="wd" cx="726.8" cy="292.3" r="5.18"/>
<circle class="wd" cx="625.0" cy="362.8" r="5.18"/>
<circle class="wd" cx="608.7" cy="399.6" r="5.18"/>
<circle class="wd" cx="570.0" cy="465.9" r="5.18"/>
<circle class="wd" cx="648.0" cy="336.7" r="5.18"/>
<circle class="we" cx="323.1" cy="691.4" r="5.18"/>
<circle class="wd" cx="690.4" cy="285.0" r="5.18"/>
<circle class="wd" cx="621.1" cy="378.4" r="5.18"/>
<circle class="wd" cx="542.1" cy="444.3" r="5.18"/>
<circle class="wd" cx="697.5" cy="324.6" r="5.18"/>
<circle class="we" cx="362.2" cy="677.9" r="5.18"/>
<circle class="wd" cx="522.7" cy="460.4" r="5.18"/>
<circle class="wd" cx="653.9" cy="364.5" r="5.18"/>
<circle class="wd" cx="652.1" cy="396.6" r="5.18"/>
<circle class="wd" cx="600.8" cy="387.9" r="5.18"/>
<circle class="wd" cx="702.5" cy="266.6" r="5.18"/>
<circle class="we" cx="340.9" cy="628.3" r="5.18"/>
<circle class="wd" cx="622.6" cy="416.1" r="5.18"/>
<circle class="wd" cx="670.6" cy="362.3" r="5.18"/>
<circle class="we" cx="377.9" cy="655.7" r="5.18"/>
<circle class="wd" cx="731.2" cy="252.9" r="5.18"/>
<circle class="wd" cx="719.3" cy="323.6" r="5.18"/>
<circle class="wd" cx="589.6" cy="401.6" r="5.18"/>
<circle class="wd" cx="695.5" cy="331.0" r="5.18"/>
<circle class="we" cx="284.2" cy="699.3" r="5.18"/>
<circle class="we" cx="351.7" cy="663.7" r="5.18"/>
<circle class="wd" cx="698.6" cy="295.7" r="5.18"/>
<circle class="wd" cx="682.9" cy="333.4" r="5.18"/>
<circle class="wd" cx="765.1" cy="242.9" r="5.18"/>
<circle class="we" cx="289.4" cy="700.4" r="5.18"/>
<circle class="we" cx="299.8" cy="758.0" r="5.18"/>
<circle class="wd" cx="622.5" cy="432.5" r="5.18"/>
<circle class="we" cx="214.4" cy="799.5" r="5.18"/>
<circle class="we" cx="315.7" cy="721.1" r="5.18"/>
<circle class="we" cx="304.8" cy="708.6" r="5.18"/>
<circle class="we" cx="208.8" cy="804.6" r="5.18"/>
<circle class="wd" cx="714.0" cy="311.6" r="5.18"/>
<circle class="we" cx="301.0" cy="758.7" r="5.18"/>
<circle class="wd" cx="614.9" cy="431.5" r="5.18"/>
<circle class="we" cx="301.7" cy="746.1" r="5.18"/>
<circle class="we" cx="332.8" cy="681.0" r="5.18"/>
<circle class="we" cx="352.8" cy="651.4" r="5.18"/>
<circle class="we" cx="274.8" cy="702.1" r="5.18"/>
<circle class="wd" cx="640.4" cy="360.6" r="5.18"/>
<circle class="we" cx="321.4" cy="654.8" r="5.18"/>
<circle class="wd" cx="601.7" cy="430.1" r="5.18"/>
<circle class="wd" cx="628.8" cy="421.0" r="5.18"/>
<circle class="wd" cx="547.3" cy="469.9" r="5.18"/>
<circle class="wd" cx="578.2" cy="376.6" r="5.18"/>
<circle class="we" cx="310.9" cy="693.9" r="5.18"/>
<circle class="wd" cx="608.1" cy="439.7" r="5.18"/>
<circle class="wd" cx="747.6" cy="296.5" r="5.18"/>
<circle class="wd" cx="560.2" cy="402.5" r="5.18"/>
<circle class="we" cx="320.4" cy="724.5" r="5.18"/>
<circle class="we" cx="386.0" cy="638.3" r="5.18"/>
<circle class="wd" cx="649.4" cy="397.0" r="5.18"/>
<circle class="wd" cx="517.4" cy="472.4" r="5.18"/>
<circle class="we" cx="314.0" cy="664.3" r="5.18"/>
<circle class="wd" cx="617.1" cy="392.5" r="5.18"/>
<circle class="we" cx="296.6" cy="741.1" r="5.18"/>
<circle class="wd" cx="555.1" cy="428.7" r="5.18"/>
<circle class="we" cx="328.8" cy="717.6" r="5.18"/>
<circle class="wd" cx="613.3" cy="427.7" r="5.18"/>
<circle class="we" cx="248.8" cy="776.7" r="5.18"/>
<circle class="we" cx="294.9" cy="717.3" r="5.18"/>
<circle class="we" cx="345.0" cy="692.9" r="5.18"/>
<circle class="wd" cx="722.5" cy="308.5" r="5.18"/>
<circle class="we" cx="367.2" cy="641.1" r="5.18"/>
<circle class="wd" cx="645.3" cy="305.8" r="5.18"/>
<circle class="we" cx="257.3" cy="713.3" r="5.18"/>
<circle class="we" cx="287.1" cy="693.5" r="5.18"/>
<circle class="we" cx="279.2" cy="695.5" r="5.18"/>
<circle class="we" cx="232.4" cy="805.4" r="5.18"/>
<circle class="wd" cx="670.9" cy="317.0" r="5.18"/>
<circle class="we" cx="250.4" cy="772.9" r="5.18"/>
<circle class="wd" cx="611.6" cy="426.3" r="5.18"/>
<circle class="wd" cx="652.1" cy="358.3" r="5.18"/>
<circle class="we" cx="311.8" cy="685.5" r="5.18"/>
<circle class="wd" cx="615.3" cy="384.8" r="5.18"/>
<circle class="we" cx="260.1" cy="750.5" r="5.18"/>
<circle class="wd" cx="762.1" cy="258.9" r="5.18"/>
<circle class="wd" cx="696.3" cy="336.1" r="5.18"/>
<circle class="wd" cx="730.4" cy="271.7" r="5.18"/>
<circle class="wd" cx="651.6" cy="342.3" r="5.18"/>
<circle class="wd" cx="673.4" cy="369.1" r="5.18"/>
<circle class="we" cx="309.6" cy="711.7" r="5.18"/>
<circle class="wd" cx="696.2" cy="319.4" r="5.18"/>
<circle class="wd" cx="666.2" cy="357.8" r="5.18"/>
<circle class="we" cx="233.3" cy="771.9" r="5.18"/>
<circle class="wd" cx="570.5" cy="432.0" r="5.18"/>
<circle class="wd" cx="651.6" cy="416.2" r="5.18"/>
<circle class="wd" cx="555.5" cy="421.8" r="5.18"/>
<circle class="we" cx="359.7" cy="648.2" r="5.18"/>
<circle class="wd" cx="763.2" cy="267.4" r="5.18"/>
<circle class="wd" cx="624.8" cy="377.9" r="5.18"/>
<circle class="we" cx="323.0" cy="736.5" r="5.18"/>
<circle class="wd" cx="766.4" cy="281.3" r="5.18"/>
<circle class="wd" cx="670.1" cy="341.4" r="5.18"/>
<circle class="we" cx="222.3" cy="774.5" r="5.18"/>
<circle class="wd" cx="583.8" cy="450.9" r="5.18"/>
<circle class="wd" cx="620.4" cy="384.6" r="5.18"/>
<circle class="we" cx="293.5" cy="692.8" r="5.18"/>
<circle class="we" cx="220.6" cy="812.5" r="5.18"/>
<circle class="wd" cx="671.5" cy="308.6" r="5.18"/>
<circle class="wd" cx="729.7" cy="309.5" r="5.18"/>
<circle class="wd" cx="586.6" cy="410.2" r="5.18"/>
<circle class="wd" cx="580.8" cy="475.4" r="5.18"/>
<circle class="wd" cx="559.1" cy="476.5" r="5.18"/>
<circle class="we" cx="248.5" cy="764.1" r="5.18"/>
<circle class="wd" cx="688.9" cy="305.1" r="5.18"/>
<circle class="we" cx="213.3" cy="808.2" r="5.18"/>
<circle class="wd" cx="632.9" cy="337.7" r="5.18"/>
<circle class="wd" cx="598.2" cy="393.3" r="5.18"/>
<circle class="wd" cx="744.7" cy="262.8" r="5.18"/>
<circle class="wd" cx="597.3" cy="388.5" r="5.18"/>
<circle class="wd" cx="709.2" cy="297.5" r="5.18"/>
<circle class="wd" cx="722.8" cy="313.0" r="5.18"/>
<circle class="wd" cx="690.6" cy="308.5" r="5.18"/>
<circle class="we" cx="201.9" cy="801.1" r="5.18"/>
<circle class="wd" cx="663.9" cy="337.4" r="5.18"/>
<circle class="wd" cx="683.1" cy="293.6" r="5.18"/>
<circle class="wd" cx="521.0" cy="459.6" r="5.18"/>
<circle class="wd" cx="632.2" cy="408.6" r="5.18"/>
<circle class="we" cx="247.7" cy="756.8" r="5.18"/>
<circle class="wd" cx="588.8" cy="387.0" r="5.18"/>
<circle class="we" cx="201.0" cy="790.1" r="5.18"/>
<circle class="we" cx="366.7" cy="644.0" r="5.18"/>
<circle class="we" cx="295.3" cy="740.2" r="5.18"/>
<circle class="wd" cx="560.1" cy="458.3" r="5.18"/>
<circle class="wd" cx="620.5" cy="368.0" r="5.18"/>
<circle class="wd" cx="638.5" cy="332.5" r="5.18"/>
<circle class="wd" cx="544.1" cy="402.6" r="5.18"/>
<circle class="we" cx="250.7" cy="722.5" r="5.18"/>
<circle class="wd" cx="658.9" cy="353.2" r="5.18"/>
<circle class="wd" cx="571.9" cy="383.1" r="5.18"/>
<circle class="wd" cx="600.7" cy="366.0" r="5.18"/>
<circle class="wd" cx="715.0" cy="295.2" r="5.18"/>
<circle class="wd" cx="623.3" cy="358.8" r="5.18"/>
<circle class="wd" cx="667.9" cy="337.1" r="5.18"/>
<circle class="wd" cx="701.7" cy="304.1" r="5.18"/>
<circle class="wd" cx="559.9" cy="461.6" r="5.18"/>
<circle class="wd" cx="575.9" cy="438.4" r="5.18"/>
<circle class="wd" cx="609.0" cy="369.8" r="5.18"/>
<circle class="we" cx="261.8" cy="723.7" r="5.18"/>
<circle class="wd" cx="559.4" cy="439.6" r="5.18"/>
<circle class="wd" cx="605.2" cy="394.7" r="5.18"/>
<circle class="wd" cx="538.9" cy="466.3" r="5.18"/>
<circle class="wd" cx="727.5" cy="313.0" r="5.18"/>
<circle class="wd" cx="706.0" cy="339.1" r="5.18"/>
<circle class="we" cx="238.7" cy="757.6" r="5.18"/>
<circle class="we" cx="305.8" cy="732.1" r="5.18"/>
<circle class="wd" cx="623.2" cy="366.0" r="5.18"/>
<circle class="wd" cx="579.4" cy="406.0" r="5.18"/>
<circle class="we" cx="298.0" cy="667.5" r="5.18"/>
<circle class="wd" cx="728.4" cy="299.6" r="5.18"/>
<circle class="we" cx="263.7" cy="739.1" r="5.18"/>
<circle class="we" cx="197.6" cy="815.1" r="5.18"/>
<circle class="wd" cx="683.6" cy="328.5" r="5.18"/>
<circle class="wd" cx="678.0" cy="324.4" r="5.18"/>
<circle class="we" cx="304.7" cy="699.6" r="5.18"/>
<circle class="we" cx="229.4" cy="768.5" r="5.18"/>
<circle class="wd" cx="676.5" cy="346.6" r="5.18"/>
<circle class="wd" cx="631.3" cy="333.2" r="5.18"/>
<circle class="wd" cx="682.8" cy="302.8" r="5.18"/>
<circle class="we" cx="355.5" cy="681.9" r="5.18"/>
<circle class="wd" cx="707.1" cy="287.5" r="5.18"/>
<circle class="wd" cx="547.2" cy="461.9" r="5.18"/>
<circle class="we" cx="274.6" cy="761.1" r="5.18"/>
<circle class="wd" cx="554.0" cy="463.1" r="5.18"/>
<circle class="wd" cx="701.7" cy="286.0" r="5.18"/>
<circle class="wd" cx="624.0" cy="384.1" r="5.18"/>
<circle class="wd" cx="572.4" cy="382.0" r="5.18"/>
<circle class="we" cx="271.8" cy="758.3" r="5.18"/>
<circle class="wd" cx="681.9" cy="311.5" r="5.18"/>
<circle class="wd" cx="710.6" cy="288.3" r="5.18"/>
<circle class="wd" cx="660.2" cy="362.4" r="5.18"/>
<circle class="wd" cx="709.8" cy="326.7" r="5.18"/>
<circle class="we" cx="322.9" cy="717.0" r="5.18"/>
<circle class="we" cx="350.2" cy="653.1" r="5.18"/>
<circle class="we" cx="256.0" cy="764.9" r="5.18"/>
<circle class="we" cx="277.4" cy="764.9" r="5.18"/>
<circle class="we" cx="271.2" cy="752.7" r="5.18"/>
<circle class="wd" cx="738.4" cy="263.3" r="5.18"/>
<circle class="wd" cx="643.0" cy="356.5" r="5.18"/>
<circle class="we" cx="241.4" cy="754.0" r="5.18"/>
<circle class="wd" cx="635.6" cy="379.7" r="5.18"/>
<circle class="we" cx="250.8" cy="724.8" r="5.18"/>
<circle class="wd" cx="692.0" cy="295.5" r="5.18"/>
<circle class="we" cx="288.5" cy="724.4" r="5.18"/>
<circle class="we" cx="343.8" cy="669.6" r="5.18"/>
<circle class="wd" cx="740.2" cy="301.0" r="5.18"/>
<circle class="wd" cx="630.5" cy="409.1" r="5.18"/>
<circle class="we" cx="226.1" cy="771.2" r="5.18"/>
<circle class="we" cx="331.4" cy="709.1" r="5.18"/>
<circle class="we" cx="299.6" cy="697.6" r="5.18"/>
<circle class="we" cx="356.1" cy="649.3" r="5.18"/>
<circle class="wd" cx="667.0" cy="306.9" r="5.18"/>
<circle class="wd" cx="606.4" cy="437.3" r="5.18"/>
<circle class="we" cx="346.5" cy="683.7" r="5.18"/>
<circle class="wd" cx="592.0" cy="435.1" r="5.18"/>
<circle class="wd" cx="743.9" cy="280.6" r="5.18"/>
<circle class="wd" cx="636.8" cy="354.7" r="5.18"/>
<circle class="we" cx="241.9" cy="782.6" r="5.18"/>
<circle class="wd" cx="625.1" cy="381.3" r="5.18"/>
<circle class="we" cx="357.3" cy="658.3" r="5.18"/>
<circle class="we" cx="279.0" cy="703.6" r="5.18"/>
<circle class="wd" cx="647.0" cy="395.0" r="5.18"/>
<circle class="wd" cx="646.3" cy="368.3" r="5.18"/>
<circle class="wd" cx="664.2" cy="324.6" r="5.18"/>
<circle class="wd" cx="738.3" cy="248.0" r="5.18"/>
<circle class="we" cx="278.5" cy="769.5" r="5.18"/>
<circle class="we" cx="340.0" cy="626.5" r="5.18"/>
<circle class="wd" cx="765.0" cy="263.0" r="5.18"/>
<circle class="we" cx="256.6" cy="774.8" r="5.18"/>
<circle class="we" cx="252.0" cy="753.0" r="5.18"/>
<circle class="wd" cx="649.9" cy="389.9" r="5.18"/>
<circle class="we" cx="315.7" cy="716.3" r="5.18"/>
<circle class="we" cx="315.0" cy="728.2" r="5.18"/>
<circle class="we" cx="222.7" cy="793.8" r="5.18"/>
<circle class="wd" cx="631.9" cy="406.4" r="5.18"/>
<circle class="we" cx="234.1" cy="773.8" r="5.18"/>
<circle class="we" cx="310.4" cy="682.8" r="5.18"/>
<circle class="we" cx="335.3" cy="666.3" r="5.18"/>
<circle class="wd" cx="628.7" cy="347.2" r="5.18"/>
<circle class="wd" cx="594.5" cy="484.7" r="5.18"/>
<circle class="wd" cx="649.5" cy="345.3" r="5.18"/>
<circle class="wd" cx="732.3" cy="305.8" r="5.18"/>
<circle class="we" cx="294.3" cy="679.6" r="5.18"/>
<circle class="we" cx="285.4" cy="727.0" r="5.18"/>
<circle class="wd" cx="626.4" cy="352.2" r="5.18"/>
<circle class="wd" cx="735.0" cy="258.9" r="5.18"/>
<circle class="we" cx="342.1" cy="697.2" r="5.18"/>
<circle class="wd" cx="612.0" cy="434.1" r="5.18"/>
<circle class="wd" cx="702.1" cy="314.6" r="5.18"/>
<circle class="we" cx="302.8" cy="672.4" r="5.18"/>
<circle class="we" cx="327.4" cy="715.1" r="5.18"/>
<circle class="wd" cx="718.1" cy="266.8" r="5.18"/>
<circle class="we" cx="216.9" cy="820.2" r="5.18"/>
<circle class="wd" cx="602.8" cy="376.6" r="5.18"/>
<circle class="we" cx="354.7" cy="679.0" r="5.18"/>
<circle class="we" cx="213.3" cy="809.8" r="5.18"/>
<circle class="wd" cx="691.4" cy="310.6" r="5.18"/>
<circle class="we" cx="206.2" cy="793.7" r="5.18"/>
<circle class="we" cx="315.0" cy="694.0" r="5.18"/>
<circle class="we" cx="273.2" cy="707.2" r="5.18"/>
<circle class="we" cx="227.3" cy="808.4" r="5.18"/>
<circle class="wd" cx="709.0" cy="309.8" r="5.18"/>
<circle class="wd" cx="572.1" cy="407.3" r="5.18"/>
<circle class="wd" cx="710.1" cy="274.6" r="5.18"/>
<circle class="we" cx="245.1" cy="742.0" r="5.18"/>
<circle class="wd" cx="746.9" cy="271.1" r="5.18"/>
<circle class="wd" cx="708.9" cy="331.3" r="5.18"/>
<circle class="wd" cx="582.4" cy="437.9" r="5.18"/>
<circle class="wd" cx="562.0" cy="412.2" r="5.18"/>
<circle class="wd" cx="671.4" cy="359.5" r="5.18"/>
<circle class="wd" cx="653.4" cy="393.9" r="5.18"/>
<circle class="wd" cx="678.6" cy="309.0" r="5.18"/>
<circle class="wd" cx="663.5" cy="367.7" r="5.18"/>
<circle class="we" cx="317.5" cy="723.1" r="5.18"/>
<circle class="wd" cx="649.3" cy="365.6" r="5.18"/>
<circle class="we" cx="245.2" cy="788.2" r="5.18"/>
<circle class="we" cx="380.8" cy="644.2" r="5.18"/>
<circle class="wd" cx="647.8" cy="324.9" r="5.18"/>
<circle class="we" cx="321.1" cy="666.2" r="5.18"/>
<circle class="we" cx="256.0" cy="745.6" r="5.18"/>
<circle class="wd" cx="637.8" cy="380.9" r="5.18"/>
<circle class="wd" cx="584.8" cy="432.7" r="5.18"/>
<circle class="wd" cx="603.5" cy="391.6" r="5.18"/>
<circle class="we" cx="233.9" cy="763.5" r="5.18"/>
<circle class="wd" cx="556.8" cy="467.9" r="5.18"/>
<circle class="we" cx="371.4" cy="655.7" r="5.18"/>
<circle class="we" cx="278.6" cy="738.0" r="5.18"/>
<circle class="wd" cx="715.0" cy="310.6" r="5.18"/>
<circle class="wd" cx="585.9" cy="463.7" r="5.18"/>
<circle class="we" cx="360.7" cy="663.3" r="5.18"/>
<circle class="wd" cx="572.5" cy="461.0" r="5.18"/>
<circle class="wd" cx="682.6" cy="296.2" r="5.18"/>
<circle class="we" cx="198.5" cy="818.4" r="5.18"/>
<circle class="we" cx="283.1" cy="738.7" r="5.18"/>
<circle class="wd" cx="562.2" cy="477.2" r="5.18"/>
<circle class="wd" cx="644.5" cy="339.1" r="5.18"/>
<circle class="we" cx="244.7" cy="724.7" r="5.18"/>
<circle class="wd" cx="544.4" cy="463.8" r="5.18"/>
<circle class="wd" cx="593.2" cy="350.8" r="5.18"/>
<circle class="we" cx="281.3" cy="723.4" r="5.18"/>
<circle class="wd" cx="611.9" cy="404.9" r="5.18"/>
<circle class="wd" cx="708.6" cy="314.6" r="5.18"/>
<circle class="wd" cx="588.6" cy="445.8" r="5.18"/>
<circle class="we" cx="332.4" cy="734.3" r="5.18"/>
<circle class="we" cx="230.8" cy="757.7" r="5.18"/>
<circle class="wd" cx="675.7" cy="362.2" r="5.18"/>
<circle class="wd" cx="655.3" cy="364.0" r="5.18"/>
<circle class="we" cx="323.5" cy="689.8" r="5.18"/>
<circle class="we" cx="293.5" cy="767.0" r="5.18"/>
<circle class="wd" cx="652.8" cy="391.4" r="5.18"/>
<circle class="wd" cx="729.7" cy="305.7" r="5.18"/>
<circle class="wd" cx="561.1" cy="432.2" r="5.18"/>
<circle class="we" cx="366.1" cy="682.0" r="5.18"/>
<circle class="we" cx="212.6" cy="794.7" r="5.18"/>
<circle class="wd" cx="683.0" cy="364.7" r="5.18"/>
<circle class="we" cx="353.3" cy="660.9" r="5.18"/>
<circle class="we" cx="347.3" cy="698.2" r="5.18"/>
<circle class="we" cx="260.1" cy="717.2" r="5.18"/>
<circle class="wd" cx="636.2" cy="391.9" r="5.18"/>
<circle class="we" cx="344.7" cy="678.5" r="5.18"/>
<circle class="wd" cx="611.5" cy="368.5" r="5.18"/>
<circle class="we" cx="347.5" cy="691.5" r="5.18"/>
<circle class="we" cx="247.7" cy="787.0" r="5.18"/>
<circle class="wd" cx="613.2" cy="378.5" r="5.18"/>
<circle class="we" cx="205.5" cy="805.6" r="5.18"/>
<circle class="we" cx="200.9" cy="793.6" r="5.18"/>
<circle class="wd" cx="585.6" cy="452.1" r="5.18"/>
<circle class="wd" cx="538.8" cy="465.7" r="5.18"/>
<circle class="we" cx="286.4" cy="731.4" r="5.18"/>
<circle class="we" cx="282.3" cy="690.3" r="5.18"/>
<circle class="we" cx="347.5" cy="657.8" r="5.18"/>
<circle class="wd" cx="673.4" cy="302.6" r="5.18"/>
<circle class="wd" cx="725.5" cy="334.6" r="5.18"/>
<circle class="we" cx="297.6" cy="667.8" r="5.18"/>
<circle class="wd" cx="725.4" cy="291.0" r="5.18"/>
<circle class="wd" cx="541.5" cy="481.9" r="5.18"/>
<circle class="we" cx="220.5" cy="779.7" r="5.18"/>
<circle class="we" cx="302.3" cy="687.9" r="5.18"/>
<circle class="wd" cx="646.2" cy="351.0" r="5.18"/>
<circle class="we" cx="329.9" cy="692.0" r="5.18"/>
<circle class="wd" cx="555.4" cy="412.9" r="5.18"/>
<circle class="wd" cx="715.0" cy="328.6" r="5.18"/>
<circle class="wd" cx="661.0" cy="385.3" r="5.18"/>
<circle class="wd" cx="602.0" cy="421.2" r="5.18"/>
<circle class="we" cx="246.3" cy="728.9" r="5.18"/>
<circle class="wd" cx="652.2" cy="310.6" r="5.18"/>
<circle class="wd" cx="563.8" cy="434.5" r="5.18"/>
<circle class="wd" cx="716.5" cy="284.7" r="5.18"/>
<circle class="wd" cx="740.5" cy="286.7" r="5.18"/>
<circle class="wd" cx="747.8" cy="297.0" r="5.18"/>
<circle class="wd" cx="764.8" cy="252.1" r="5.18"/>
<circle class="we" cx="192.9" cy="812.2" r="5.18"/>
<circle class="wd" cx="549.6" cy="472.8" r="5.18"/>
<circle class="we" cx="230.5" cy="766.6" r="5.18"/>
<circle class="we" cx="302.5" cy="728.6" r="5.18"/>
<circle class="wd" cx="695.5" cy="348.5" r="5.18"/>
<circle class="wd" cx="540.1" cy="464.5" r="5.18"/>
<circle class="wd" cx="733.7" cy="311.5" r="5.18"/>
<circle class="wd" cx="660.1" cy="336.4" r="5.18"/>
<circle class="wd" cx="679.1" cy="346.3" r="5.18"/>
<circle class="wd" cx="579.9" cy="424.0" r="5.18"/>
<circle class="wd" cx="645.0" cy="389.7" r="5.18"/>
<circle class="we" cx="365.2" cy="645.5" r="5.18"/>
<circle class="wd" cx="655.7" cy="377.3" r="5.18"/>
<circle class="we" cx="252.0" cy="790.9" r="5.18"/>
<circle class="wd" cx="619.9" cy="404.7" r="5.18"/>
<circle class="wd" cx="726.7" cy="294.6" r="5.18"/>
<circle class="wd" cx="650.4" cy="358.7" r="5.18"/>
<circle class="we" cx="293.9" cy="732.9" r="5.18"/>
<circle class="wd" cx="712.4" cy="322.3" r="5.18"/>
<circle class="wd" cx="719.0" cy="276.0" r="5.18"/>
<circle class="we" cx="249.0" cy="779.9" r="5.18"/>
<circle class="wd" cx="698.1" cy="349.8" r="5.18"/>
<circle class="we" cx="199.2" cy="811.6" r="5.18"/>
<circle class="wd" cx="686.6" cy="376.5" r="5.18"/>
<circle class="we" cx="236.9" cy="801.4" r="5.18"/>
<circle class="we" cx="266.1" cy="707.3" r="5.18"/>
<circle class="wd" cx="642.0" cy="376.7" r="5.18"/>
<circle class="wd" cx="689.9" cy="281.5" r="5.18"/>
<circle class="wd" cx="655.6" cy="354.4" r="5.18"/>
<circle class="we" cx="322.6" cy="682.6" r="5.18"/>
<circle class="we" cx="333.2" cy="705.7" r="5.18"/>
<circle class="wd" cx="573.7" cy="432.7" r="5.18"/>
<circle class="wd" cx="728.6" cy="263.0" r="5.18"/>
<circle class="we" cx="271.9" cy="733.0" r="5.18"/>
<circle class="we" cx="266.4" cy="750.3" r="5.18"/>
<circle class="wd" cx="664.3" cy="322.3" r="5.18"/>
<circle class="wd" cx="703.1" cy="300.2" r="5.18"/>
<circle class="wd" cx="752.2" cy="252.8" r="5.18"/>
<circle class="wd" cx="556.3" cy="475.9" r="5.18"/>
<circle class="we" cx="330.9" cy="679.4" r="5.18"/>
<circle class="wd" cx="585.2" cy="397.1" r="5.18"/>
<circle class="wd" cx="625.7" cy="369.4" r="5.18"/>
<circle class="we" cx="361.5" cy="635.4" r="5.18"/>
<circle class="we" cx="265.8" cy="720.7" r="5.18"/>
<circle class="we" cx="355.9" cy="692.6" r="5.18"/>
<circle class="we" cx="320.6" cy="732.0" r="5.18"/>
<circle class="wd" cx="739.0" cy="266.1" r="5.18"/>
<circle class="wd" cx="650.7" cy="330.4" r="5.18"/>
<circle class="we" cx="226.6" cy="795.6" r="5.18"/>
<circle class="wd" cx="754.8" cy="249.1" r="5.18"/>
<circle class="we" cx="323.4" cy="704.2" r="5.18"/>
<circle class="we" cx="312.6" cy="661.2" r="5.18"/>
<circle class="wd" cx="670.5" cy="317.2" r="5.18"/>
<circle class="we" cx="261.9" cy="742.0" r="5.18"/>
<circle class="wd" cx="741.5" cy="267.3" r="5.18"/>
<circle class="wd" cx="585.4" cy="403.0" r="5.18"/>
<circle class="wd" cx="580.7" cy="461.6" r="5.18"/>
<circle class="wd" cx="629.0" cy="364.6" r="5.18"/>
<circle class="wd" cx="532.4" cy="459.1" r="5.18"/>
<circle class="we" cx="254.0" cy="724.1" r="5.18"/>
<circle class="we" cx="268.5" cy="744.3" r="5.18"/>
<circle class="we" cx="309.1" cy="722.8" r="5.18"/>
<circle class="wd" cx="708.4" cy="337.2" r="5.18"/>
<circle class="we" cx="261.8" cy="765.5" r="5.18"/>
<circle class="wd" cx="717.7" cy="335.5" r="5.18"/>
<circle class="we" cx="256.1" cy="721.2" r="5.18"/>
<circle class="we" cx="314.3" cy="696.3" r="5.18"/>
<circle class="wd" cx="626.6" cy="397.3" r="5.18"/>
<circle class="wd" cx="716.3" cy="299.6" r="5.18"/>
<circle class="wd" cx="742.4" cy="264.2" r="5.18"/>
<circle class="wd" cx="571.7" cy="462.0" r="5.18"/>
<circle class="wd" cx="605.1" cy="421.8" r="5.18"/>
<circle class="we" cx="246.4" cy="733.4" r="5.18"/>
<circle class="we" cx="251.9" cy="739.2" r="5.18"/>
<circle class="we" cx="258.3" cy="723.7" r="5.18"/>
<circle class="wd" cx="536.6" cy="467.5" r="5.18"/>
<circle class="we" cx="219.1" cy="758.2" r="5.18"/>
<circle class="wd" cx="679.8" cy="296.6" r="5.18"/>
<circle class="we" cx="251.4" cy="732.5" r="5.18"/>
<circle class="we" cx="263.6" cy="724.7" r="5.18"/>
<circle class="we" cx="267.7" cy="776.8" r="5.18"/>
<circle class="wd" cx="662.2" cy="333.7" r="5.18"/>
<circle class="wd" cx="595.0" cy="388.4" r="5.18"/>
<circle class="wd" cx="640.1" cy="337.5" r="5.18"/>
<circle class="wd" cx="594.6" cy="436.5" r="5.18"/>
<circle class="we" cx="248.2" cy="720.7" r="5.18"/>
<circle class="we" cx="351.8" cy="688.9" r="5.18"/>
<circle class="wd" cx="571.3" cy="449.3" r="5.18"/>
<circle class="we" cx="354.2" cy="666.7" r="5.18"/>
<circle class="we" cx="256.1" cy="756.5" r="5.18"/>
<circle class="we" cx="356.8" cy="682.5" r="5.18"/>
<circle class="we" cx="284.8" cy="720.7" r="5.18"/>
<circle class="we" cx="359.2" cy="682.8" r="5.18"/>
<circle class="wd" cx="679.9" cy="366.7" r="5.18"/>
<circle class="wd" cx="659.3" cy="367.1" r="5.18"/>
<circle class="wd" cx="763.2" cy="238.8" r="5.18"/>
<circle class="we" cx="366.3" cy="644.9" r="5.18"/>
<circle class="we" cx="265.8" cy="762.2" r="5.18"/>
<circle class="we" cx="219.3" cy="814.3" r="5.18"/>
<circle class="we" cx="309.8" cy="746.5" r="5.18"/>
<circle class="wd" cx="571.5" cy="453.1" r="5.18"/>
<circle class="we" cx="344.2" cy="655.1" r="5.18"/>
<circle class="wd" cx="686.1" cy="337.2" r="5.18"/>
<circle class="we" cx="286.9" cy="758.0" r="5.18"/>
<circle class="we" cx="293.7" cy="756.7" r="5.18"/>
<circle class="we" cx="285.5" cy="683.5" r="5.18"/>
<circle class="wd" cx="553.8" cy="459.8" r="5.18"/>
<circle class="wd" cx="757.7" cy="251.3" r="5.18"/>
<circle class="we" cx="265.9" cy="742.7" r="5.18"/>
<circle class="we" cx="273.7" cy="748.3" r="5.18"/>
<circle class="wd" cx="731.7" cy="324.9" r="5.18"/>
<circle class="wd" cx="607.2" cy="429.1" r="5.18"/>
<circle class="wd" cx="708.0" cy="321.4" r="5.18"/>
<circle class="wd" cx="583.0" cy="424.8" r="5.18"/>
<circle class="wd" cx="637.0" cy="342.4" r="5.18"/>
<circle class="wd" cx="672.0" cy="340.4" r="5.18"/>
<circle class="wd" cx="531.6" cy="478.6" r="5.18"/>
<circle class="we" cx="266.7" cy="747.8" r="5.18"/>
<circle class="wd" cx="665.2" cy="370.4" r="5.18"/>
<circle class="wd" cx="662.1" cy="376.7" r="5.18"/>
<circle class="wd" cx="631.3" cy="342.7" r="5.18"/>
<circle class="wd" cx="726.2" cy="281.3" r="5.18"/>
<circle class="wd" cx="605.7" cy="392.7" r="5.18"/>
<circle class="we" cx="284.4" cy="757.3" r="5.18"/>
<circle class="we" cx="327.8" cy="668.9" r="5.18"/>
<circle class="wd" cx="571.8" cy="407.3" r="5.18"/>
<circle class="wd" cx="724.6" cy="312.1" r="5.18"/>
<circle class="wd" cx="710.0" cy="338.8" r="5.18"/>
<circle class="wd" cx="701.4" cy="357.0" r="5.18"/>
<circle class="wd" cx="700.3" cy="339.3" r="5.18"/>
<circle class="we" cx="254.1" cy="740.7" r="5.18"/>
<circle class="wd" cx="594.4" cy="444.9" r="5.18"/>
<circle class="we" cx="307.0" cy="731.7" r="5.18"/>
<circle class="we" cx="280.9" cy="708.7" r="5.18"/>
<circle class="we" cx="197.6" cy="788.8" r="5.18"/>
<circle class="we" cx="305.0" cy="703.3" r="5.18"/>
<circle class="we" cx="304.8" cy="669.9" r="5.18"/>
<circle class="wd" cx="641.2" cy="367.0" r="5.18"/>
<circle class="wd" cx="585.0" cy="458.7" r="5.18"/>
<circle class="we" cx="215.9" cy="814.9" r="5.18"/>
<circle class="we" cx="254.1" cy="771.0" r="5.18"/>
<circle class="we" cx="250.6" cy="735.3" r="5.18"/>
<circle class="we" cx="358.5" cy="645.3" r="5.18"/>
<circle class="we" cx="332.6" cy="685.2" r="5.18"/>
<circle class="we" cx="301.9" cy="696.8" r="5.18"/>
<circle class="wd" cx="629.7" cy="410.2" r="5.18"/>
<circle class="we" cx="247.4" cy="737.2" r="5.18"/>
<circle class="wd" cx="572.3" cy="418.4" r="5.18"/>
<circle class="wd" cx="750.6" cy="250.5" r="5.18"/>
<circle class="wd" cx="629.6" cy="373.0" r="5.18"/>
<circle class="wd" cx="639.1" cy="343.6" r="5.18"/>
<circle class="wd" cx="623.3" cy="344.6" r="5.18"/>
<circle class="we" cx="282.8" cy="701.9" r="5.18"/>
<circle class="wd" cx="617.9" cy="404.6" r="5.18"/>
<circle class="wd" cx="637.9" cy="368.2" r="5.18"/>
<circle class="we" cx="319.5" cy="676.9" r="5.18"/>
<circle class="wd" cx="723.4" cy="331.4" r="5.18"/>
<circle class="we" cx="311.5" cy="671.3" r="5.18"/>
<circle class="wd" cx="695.7" cy="273.1" r="5.18"/>
<circle class="wd" cx="697.1" cy="325.9" r="5.18"/>
<circle class="wd" cx="692.9" cy="300.1" r="5.18"/>
<circle class="we" cx="301.3" cy="723.9" r="5.18"/>
<circle class="we" cx="323.0" cy="658.7" r="5.18"/>
<circle class="we" cx="344.8" cy="658.9" r="5.18"/>
<circle class="we" cx="286.2" cy="707.0" r="5.18"/>
<circle class="we" cx="226.5" cy="768.4" r="5.18"/>
<circle class="wd" cx="601.6" cy="356.3" r="5.18"/>
<circle class="we" cx="370.8" cy="638.2" r="5.18"/>
<circle class="wd" cx="637.3" cy="388.8" r="5.18"/>
<circle class="wd" cx="629.1" cy="404.2" r="5.18"/>
<circle class="we" cx="229.0" cy="793.1" r="5.18"/>
<circle class="wd" cx="636.2" cy="345.0" r="5.18"/>
<circle class="wd" cx="611.4" cy="358.7" r="5.18"/>
<circle class="wd" cx="670.8" cy="355.1" r="5.18"/>
<circle class="wd" cx="688.9" cy="342.3" r="5.18"/>
<circle class="wd" cx="684.8" cy="290.8" r="5.18"/>
<circle class="we" cx="379.0" cy="647.7" r="5.18"/>
<circle class="wd" cx="723.6" cy="321.7" r="5.18"/>
<circle class="we" cx="258.5" cy="733.8" r="5.18"/>
<circle class="wd" cx="696.5" cy="314.3" r="5.18"/>
<circle class="wd" cx="647.5" cy="366.8" r="5.18"/>
<circle class="we" cx="309.7" cy="738.1" r="5.18"/>
<circle class="we" cx="302.6" cy="691.8" r="5.18"/>
<circle class="we" cx="383.3" cy="650.6" r="5.18"/>
<circle class="wd" cx="615.6" cy="366.3" r="5.18"/>
<circle class="we" cx="272.8" cy="702.2" r="5.18"/>
<circle class="we" cx="253.0" cy="745.6" r="5.18"/>
<circle class="wd" cx="607.8" cy="377.3" r="5.18"/>
<circle class="wd" cx="540.7" cy="457.0" r="5.18"/>
<circle class="wd" cx="648.3" cy="286.7" r="5.18"/>
<circle class="wd" cx="718.1" cy="280.8" r="5.18"/>
<circle class="wd" cx="571.9" cy="421.0" r="5.18"/>
<circle class="wd" cx="681.6" cy="307.1" r="5.18"/>
<circle class="wd" cx="637.4" cy="357.9" r="5.18"/>
<circle class="wd" cx="684.7" cy="286.3" r="5.18"/>
<circle class="we" cx="273.0" cy="767.4" r="5.18"/>
<circle class="we" cx="312.2" cy="720.0" r="5.18"/>
<circle class="wd" cx="702.6" cy="330.4" r="5.18"/>
<circle class="wd" cx="694.7" cy="313.2" r="5.18"/>
<circle class="wd" cx="741.4" cy="305.7" r="5.18"/>
<circle class="we" cx="341.6" cy="628.4" r="5.18"/>
<circle class="wd" cx="596.3" cy="425.9" r="5.18"/>
<circle class="we" cx="349.9" cy="697.3" r="5.18"/>
<circle class="we" cx="291.7" cy="733.3" r="5.18"/>
<circle class="wd" cx="737.1" cy="309.4" r="5.18"/>
<circle class="wd" cx="574.0" cy="438.4" r="5.18"/>
<circle class="we" cx="229.7" cy="789.4" r="5.18"/>
<circle class="wd" cx="768.1" cy="244.9" r="5.18"/>
<circle class="wd" cx="628.4" cy="393.8" r="5.18"/>
<circle class="we" cx="266.3" cy="715.5" r="5.18"/>
<circle class="wd" cx="586.5" cy="427.9" r="5.18"/>
<circle class="wd" cx="541.7" cy="414.2" r="5.18"/>
<circle class="wd" cx="662.5" cy="381.1" r="5.18"/>
<circle class="wd" cx="685.1" cy="393.3" r="5.18"/>
<circle class="wd" cx="601.2" cy="433.5" r="5.18"/>
<circle class="we" cx="239.6" cy="730.7" r="5.18"/>
<circle class="wd" cx="601.9" cy="398.2" r="5.18"/>
<circle class="wd" cx="640.8" cy="365.8" r="5.18"/>
<circle class="wd" cx="606.6" cy="423.9" r="5.18"/>
<circle class="we" cx="239.4" cy="780.7" r="5.18"/>
<circle class="wd" cx="641.2" cy="424.1" r="5.18"/>
<circle class="wd" cx="752.6" cy="271.8" r="5.18"/>
<circle class="we" cx="225.5" cy="773.9" r="5.18"/>
<circle class="wd" cx="626.0" cy="373.0" r="5.18"/>
<circle class="we" cx="256.9" cy="778.9" r="5.18"/>
<circle class="wd" cx="632.4" cy="354.2" r="5.18"/>
<circle class="wd" cx="672.0" cy="323.0" r="5.18"/>
<circle class="we" cx="233.7" cy="795.8" r="5.18"/>
<circle class="wd" cx="692.1" cy="332.4" r="5.18"/>
<circle class="we" cx="239.7" cy="767.9" r="5.18"/>
<circle class="wd" cx="666.6" cy="319.0" r="5.18"/>
<circle class="we" cx="312.9" cy="724.2" r="5.18"/>
<circle class="we" cx="296.5" cy="714.3" r="5.18"/>
<circle class="we" cx="238.8" cy="754.9" r="5.18"/>
<circle class="we" cx="330.5" cy="676.5" r="5.18"/>
<circle class="wd" cx="688.0" cy="313.3" r="5.18"/>
<circle class="wd" cx="556.1" cy="433.1" r="5.18"/>
<circle class="we" cx="332.6" cy="707.4" r="5.18"/>
<circle class="wd" cx="679.3" cy="331.2" r="5.18"/>
<circle class="wd" cx="564.9" cy="452.2" r="5.18"/>
<circle class="wd" cx="651.7" cy="387.7" r="5.18"/>
<circle class="we" cx="348.9" cy="659.1" r="5.18"/>
<circle class="wd" cx="568.1" cy="431.5" r="5.18"/>
<circle class="wd" cx="658.0" cy="340.1" r="5.18"/>
<circle class="we" cx="229.4" cy="779.9" r="5.18"/>
<circle class="wd" cx="577.9" cy="453.8" r="5.18"/>
<circle class="wd" cx="710.3" cy="313.9" r="5.18"/>
<circle class="we" cx="284.4" cy="733.4" r="5.18"/>
<circle class="wd" cx="581.7" cy="427.6" r="5.18"/>
<circle class="wd" cx="542.0" cy="447.9" r="5.18"/>
<circle class="we" cx="310.1" cy="726.9" r="5.18"/>
<circle class="wd" cx="632.4" cy="320.5" r="5.18"/>
<circle class="wd" cx="630.6" cy="362.4" r="5.18"/>
<circle class="wd" cx="635.8" cy="348.6" r="5.18"/>
<circle class="we" cx="286.4" cy="702.1" r="5.18"/>
<circle class="we" cx="345.7" cy="674.9" r="5.18"/>
<circle class="wd" cx="689.8" cy="325.2" r="5.18"/>
<circle class="wd" cx="533.0" cy="475.0" r="5.18"/>
<circle class="wd" cx="648.9" cy="391.8" r="5.18"/>
<circle class="wd" cx="670.9" cy="311.1" r="5.18"/>
<circle class="we" cx="241.3" cy="794.9" r="5.18"/>
<circle class="wd" cx="563.8" cy="408.9" r="5.18"/>
<circle class="we" cx="233.4" cy="776.3" r="5.18"/>
<circle class="we" cx="307.3" cy="703.7" r="5.18"/>
<circle class="we" cx="295.9" cy="744.0" r="5.18"/>
<circle class="wd" cx="546.3" cy="453.8" r="5.18"/>
<circle class="wd" cx="711.3" cy="303.4" r="5.18"/>
<circle class="wd" cx="615.3" cy="438.0" r="5.18"/>
<circle class="we" cx="292.9" cy="746.4" r="5.18"/>
<circle class="we" cx="313.7" cy="705.2" r="5.18"/>
<circle class="we" cx="203.4" cy="808.9" r="5.18"/>
<circle class="wd" cx="624.0" cy="391.0" r="5.18"/>
<circle class="wd" cx="569.3" cy="456.1" r="5.18"/>
<circle class="wd" cx="674.3" cy="322.0" r="5.18"/>
<circle class="wd" cx="745.4" cy="254.4" r="5.18"/>
<circle class="wd" cx="575.7" cy="409.4" r="5.18"/>
<circle class="wd" cx="755.3" cy="274.9" r="5.18"/>
<circle class="we" cx="235.3" cy="735.1" r="5.18"/>
<circle class="wd" cx="649.8" cy="384.9" r="5.18"/>
<circle class="wd" cx="583.5" cy="415.1" r="5.18"/>
<circle class="wd" cx="699.5" cy="299.5" r="5.18"/>
<circle class="wd" cx="707.0" cy="307.0" r="5.18"/>
<circle class="wd" cx="723.9" cy="300.0" r="5.18"/>
<circle class="wd" cx="672.5" cy="325.0" r="5.18"/>
<circle class="wd" cx="585.9" cy="441.0" r="5.18"/>
<circle class="we" cx="288.6" cy="742.5" r="5.18"/>
<circle class="we" cx="336.9" cy="703.7" r="5.18"/>
<circle class="we" cx="272.8" cy="766.2" r="5.18"/>
<circle class="wd" cx="766.1" cy="257.5" r="5.18"/>
<circle class="wd" cx="642.4" cy="401.3" r="5.18"/>
<circle class="wd" cx="592.1" cy="421.3" r="5.18"/>
<circle class="wd" cx="743.1" cy="253.3" r="5.18"/>
<circle class="wd" cx="642.8" cy="390.3" r="5.18"/>
<circle class="wd" cx="633.5" cy="341.1" r="5.18"/>
<circle class="wd" cx="578.6" cy="398.2" r="5.18"/>
<circle class="wd" cx="546.7" cy="465.1" r="5.18"/>
<circle class="we" cx="338.9" cy="658.6" r="5.18"/>
<circle class="wd" cx="696.8" cy="329.3" r="5.18"/>
<circle class="wd" cx="582.3" cy="435.4" r="5.18"/>
<circle class="wd" cx="603.9" cy="383.9" r="5.18"/>
<circle class="wd" cx="596.5" cy="445.6" r="5.18"/>
<circle class="wd" cx="668.5" cy="369.2" r="5.18"/>
<circle class="wd" cx="757.2" cy="269.5" r="5.18"/>
<circle class="wd" cx="559.4" cy="423.1" r="5.18"/>
<circle class="wd" cx="699.1" cy="271.4" r="5.18"/>
<circle class="we" cx="363.4" cy="699.0" r="5.18"/>
<circle class="wd" cx="695.9" cy="285.6" r="5.18"/>
<circle class="we" cx="244.4" cy="719.0" r="5.18"/>
<circle class="wd" cx="603.2" cy="419.0" r="5.18"/>
<circle class="we" cx="273.6" cy="739.3" r="5.18"/>
<circle class="wd" cx="632.3" cy="372.1" r="5.18"/>
<circle class="wd" cx="603.1" cy="380.5" r="5.18"/>
<circle class="we" cx="244.0" cy="777.6" r="5.18"/>
<circle class="we" cx="214.3" cy="795.9" r="5.18"/>
<circle class="wd" cx="605.7" cy="358.2" r="5.18"/>
<circle class="we" cx="231.5" cy="739.0" r="5.18"/>
<circle class="we" cx="250.6" cy="747.4" r="5.18"/>
<circle class="wd" cx="566.1" cy="490.1" r="5.18"/>
<circle class="wd" cx="567.9" cy="468.4" r="5.18"/>
<circle class="wd" cx="720.4" cy="339.9" r="5.18"/>
<circle class="wd" cx="703.8" cy="272.0" r="5.18"/>
<circle class="we" cx="308.4" cy="705.2" r="5.18"/>
<circle class="we" cx="332.6" cy="684.1" r="5.18"/>
<circle class="wd" cx="625.0" cy="306.5" r="5.18"/>
<circle class="wd" cx="706.1" cy="337.2" r="5.18"/>
<circle class="wd" cx="623.0" cy="430.9" r="5.18"/>
<circle class="wd" cx="610.8" cy="403.1" r="5.18"/>
<circle class="we" cx="228.8" cy="799.5" r="5.18"/>
<circle class="wd" cx="635.8" cy="351.2" r="5.18"/>
<circle class="wd" cx="680.2" cy="318.2" r="5.18"/>
<circle class="wd" cx="740.4" cy="256.7" r="5.18"/>
<circle class="wd" cx="633.2" cy="369.7" r="5.18"/>
<circle class="wd" cx="751.1" cy="260.2" r="5.18"/>
<circle class="we" cx="191.4" cy="812.3" r="5.18"/>
<circle class="wd" cx="698.3" cy="280.9" r="5.18"/>
<circle class="we" cx="371.3" cy="636.2" r="5.18"/>
<circle class="wd" cx="638.7" cy="388.7" r="5.18"/>
<circle class="we" cx="254.2" cy="730.7" r="5.18"/>
<circle class="wd" cx="620.2" cy="416.4" r="5.18"/>
<circle class="wd" cx="672.0" cy="328.2" r="5.18"/>
<circle class="we" cx="279.1" cy="724.7" r="5.18"/>
<circle class="wd" cx="715.5" cy="357.4" r="5.18"/>
<circle class="we" cx="365.8" cy="635.7" r="5.18"/>
<circle class="wd" cx="668.9" cy="366.5" r="5.18"/>
<circle class="wd" cx="542.7" cy="447.8" r="5.18"/>
<circle class="wd" cx="643.5" cy="348.9" r="5.18"/>
<circle class="we" cx="265.0" cy="710.6" r="5.18"/>
<circle class="wd" cx="644.3" cy="359.9" r="5.18"/>
<circle class="wd" cx="682.9" cy="326.4" r="5.18"/>
<circle class="wd" cx="559.6" cy="475.2" r="5.18"/>
<circle class="we" cx="329.7" cy="701.4" r="5.18"/>
<circle class="wd" cx="639.1" cy="299.8" r="5.18"/>
<circle class="wd" cx="616.2" cy="469.2" r="5.18"/>
<circle class="wd" cx="657.4" cy="332.5" r="5.18"/>
<circle class="we" cx="353.1" cy="698.9" r="5.18"/>
<circle class="we" cx="292.9" cy="709.4" r="5.18"/>
<circle class="wd" cx="527.4" cy="450.1" r="5.18"/>
<circle class="wd" cx="618.9" cy="413.1" r="5.18"/>
<circle class="wd" cx="687.5" cy="355.3" r="5.18"/>
<circle class="we" cx="221.9" cy="773.1" r="5.18"/>
<circle class="we" cx="324.3" cy="703.7" r="5.18"/>
<circle class="we" cx="338.8" cy="661.8" r="5.18"/>
<circle class="wd" cx="670.8" cy="348.4" r="5.18"/>
<circle class="we" cx="281.4" cy="750.5" r="5.18"/>
<circle class="we" cx="337.7" cy="694.2" r="5.18"/>
<circle class="we" cx="281.1" cy="696.0" r="5.18"/>
<circle class="wd" cx="534.9" cy="453.3" r="5.18"/>
<circle class="we" cx="324.7" cy="724.4" r="5.18"/>
<circle class="wd" cx="703.0" cy="333.2" r="5.18"/>
<circle class="wd" cx="738.7" cy="282.0" r="5.18"/>
<circle class="wd" cx="744.8" cy="250.0" r="5.18"/>
<circle class="we" cx="363.7" cy="689.0" r="5.18"/>
<circle class="we" cx="296.5" cy="725.0" r="5.18"/>
<circle class="we" cx="294.2" cy="677.3" r="5.18"/>
<circle class="we" cx="316.8" cy="671.1" r="5.18"/>
<circle class="wd" cx="660.1" cy="381.8" r="5.18"/>
<circle class="wd" cx="670.6" cy="300.1" r="5.18"/>
<circle class="we" cx="318.3" cy="728.1" r="5.18"/>
<circle class="wd" cx="566.8" cy="447.0" r="5.18"/>
<circle class="we" cx="354.7" cy="642.0" r="5.18"/>
<circle class="we" cx="362.9" cy="686.0" r="5.18"/>
<circle class="wd" cx="737.3" cy="302.9" r="5.18"/>
<circle class="wd" cx="598.4" cy="444.2" r="5.18"/>
<circle class="we" cx="288.7" cy="778.7" r="5.18"/>
<circle class="wd" cx="686.4" cy="297.6" r="5.18"/>
<circle class="wd" cx="750.8" cy="271.1" r="5.18"/>
<circle class="wd" cx="651.2" cy="356.2" r="5.18"/>
<circle class="wd" cx="667.4" cy="374.7" r="5.18"/>
<circle class="wd" cx="739.5" cy="291.9" r="5.18"/>
<circle class="wd" cx="679.0" cy="284.8" r="5.18"/>
<circle class="wd" cx="616.6" cy="379.3" r="5.18"/>
<circle class="wd" cx="648.8" cy="290.4" r="5.18"/>
<circle class="we" cx="302.0" cy="716.2" r="5.18"/>
<circle class="wd" cx="526.0" cy="466.6" r="5.18"/>
<circle class="we" cx="203.3" cy="818.4" r="5.18"/>
<circle class="we" cx="373.0" cy="650.2" r="5.18"/>
<circle class="wd" cx="622.8" cy="419.8" r="5.18"/>
<circle class="wd" cx="600.5" cy="417.3" r="5.18"/>
<circle class="we" cx="340.2" cy="676.5" r="5.18"/>
<circle class="we" cx="305.7" cy="654.9" r="5.18"/>
<circle class="wd" cx="653.0" cy="410.6" r="5.18"/>
<circle class="we" cx="312.5" cy="722.8" r="5.18"/>
<circle class="wd" cx="605.0" cy="403.6" r="5.18"/>
<circle class="wd" cx="565.5" cy="455.5" r="5.18"/>
<circle class="we" cx="223.6" cy="799.3" r="5.18"/>
<circle class="we" cx="243.7" cy="719.0" r="5.18"/>
<circle class="we" cx="259.1" cy="716.7" r="5.18"/>
<circle class="we" cx="345.9" cy="688.6" r="5.18"/>
<circle class="wd" cx="665.0" cy="324.0" r="5.18"/>
<circle class="we" cx="338.1" cy="712.9" r="5.18"/>
<circle class="we" cx="353.4" cy="672.5" r="5.18"/>
<circle class="we" cx="301.6" cy="759.5" r="5.18"/>
<circle class="we" cx="308.2" cy="674.7" r="5.18"/>
<circle class="we" cx="268.2" cy="733.9" r="5.18"/>
<circle class="we" cx="290.8" cy="689.3" r="5.18"/>
<circle class="we" cx="334.1" cy="719.2" r="5.18"/>
<circle class="wd" cx="560.2" cy="436.8" r="5.18"/>
<circle class="we" cx="360.1" cy="657.0" r="5.18"/>
<circle class="we" cx="323.0" cy="683.4" r="5.18"/>
<circle class="wd" cx="645.0" cy="341.1" r="5.18"/>
<circle class="wd" cx="540.4" cy="420.3" r="5.18"/>
<circle class="wd" cx="687.4" cy="318.1" r="5.18"/>
<circle class="wd" cx="682.8" cy="316.8" r="5.18"/>
<circle class="we" cx="241.0" cy="726.9" r="5.18"/>
<circle class="wd" cx="719.3" cy="286.5" r="5.18"/>
<circle class="wd" cx="537.9" cy="431.6" r="5.18"/>
<circle class="wd" cx="697.1" cy="280.7" r="5.18"/>
<circle class="we" cx="343.1" cy="637.0" r="5.18"/>
<circle class="wd" cx="722.2" cy="291.7" r="5.18"/>
<circle class="wd" cx="594.1" cy="425.4" r="5.18"/>
<circle class="we" cx="244.6" cy="761.5" r="5.18"/>
<circle class="we" cx="294.6" cy="698.5" r="5.18"/>
<circle class="wd" cx="574.4" cy="445.1" r="5.18"/>
<circle class="we" cx="291.1" cy="756.2" r="5.18"/>
<circle class="wd" cx="544.7" cy="457.3" r="5.18"/>
<circle class="wd" cx="710.4" cy="373.0" r="5.18"/>
<circle class="wd" cx="705.0" cy="287.9" r="5.18"/>
<circle class="we" cx="328.5" cy="687.5" r="5.18"/>
<circle class="wd" cx="628.6" cy="432.1" r="5.18"/>
<circle class="we" cx="210.9" cy="814.7" r="5.18"/>
<circle class="wd" cx="703.5" cy="363.4" r="5.18"/>
<circle class="wd" cx="717.3" cy="292.8" r="5.18"/>
<circle class="wd" cx="549.0" cy="434.1" r="5.18"/>
<circle class="wd" cx="569.4" cy="449.7" r="5.18"/>
<circle class="we" cx="339.0" cy="682.2" r="5.18"/>
<circle class="wd" cx="588.6" cy="436.2" r="5.18"/>
<circle class="wd" cx="597.3" cy="418.9" r="5.18"/>
<circle class="wd" cx="671.0" cy="377.6" r="5.18"/>
<circle class="we" cx="359.5" cy="665.7" r="5.18"/>
<circle class="wd" cx="737.8" cy="271.7" r="5.18"/>
<circle class="wd" cx="619.9" cy="361.6" r="5.18"/>
<circle class="wd" cx="608.8" cy="377.7" r="5.18"/>
<circle class="wd" cx="662.1" cy="384.2" r="5.18"/>
<circle class="we" cx="350.8" cy="675.5" r="5.18"/>
<circle class="wd" cx="557.8" cy="430.9" r="5.18"/>
<circle class="wd" cx="604.8" cy="428.9" r="5.18"/>
<circle class="wd" cx="607.9" cy="435.8" r="5.18"/>
<circle class="we" cx="290.2" cy="702.7" r="5.18"/>
<circle class="wd" cx="767.0" cy="238.6" r="5.18"/>
<circle class="we" cx="222.1" cy="786.0" r="5.18"/>
<circle class="we" cx="276.3" cy="725.5" r="5.18"/>
<circle class="we" cx="297.8" cy="728.4" r="5.18"/>
<circle class="wd" cx="611.3" cy="430.3" r="5.18"/>
<circle class="wd" cx="655.3" cy="320.0" r="5.18"/>
<circle class="wd" cx="659.0" cy="378.7" r="5.18"/>
<circle class="wd" cx="582.5" cy="405.4" r="5.18"/>
<circle class="we" cx="315.3" cy="690.2" r="5.18"/>
<circle class="we" cx="225.5" cy="751.2" r="5.18"/>
<circle class="wd" cx="553.2" cy="430.6" r="5.18"/>
<circle class="wd" cx="590.9" cy="441.3" r="5.18"/>
<circle class="wd" cx="636.7" cy="396.6" r="5.18"/>
<circle class="wd" cx="634.8" cy="401.1" r="5.18"/>
<circle class="we" cx="326.3" cy="704.7" r="5.18"/>
<circle class="wd" cx="615.9" cy="383.4" r="5.18"/>
<circle class="we" cx="368.7" cy="679.9" r="5.18"/>
<circle class="wd" cx="674.6" cy="365.8" r="5.18"/>
<circle class="wd" cx="593.6" cy="432.4" r="5.18"/>
<circle class="wd" cx="713.0" cy="276.5" r="5.18"/>
<circle class="wd" cx="706.8" cy="321.0" r="5.18"/>
<circle class="wd" cx="599.9" cy="380.7" r="5.18"/>
<circle class="wd" cx="546.6" cy="444.7" r="5.18"/>
<circle class="wd" cx="648.0" cy="356.9" r="5.18"/>
<circle class="wd" cx="777.4" cy="248.9" r="5.18"/>
<circle class="wd" cx="665.3" cy="390.6" r="5.18"/>
<circle class="wd" cx="684.7" cy="329.9" r="5.18"/>
<circle class="wd" cx="709.4" cy="319.4" r="5.18"/>
<circle class="wd" cx="689.3" cy="323.1" r="5.18"/>
<circle class="wd" cx="668.6" cy="302.1" r="5.18"/>
<circle class="wd" cx="540.1" cy="430.4" r="5.18"/>
<circle class="we" cx="294.3" cy="721.9" r="5.18"/>
<circle class="we" cx="309.2" cy="673.7" r="5.18"/>
<circle class="we" cx="343.2" cy="696.1" r="5.18"/>
<circle class="we" cx="199.6" cy="807.3" r="5.18"/>
<circle class="wd" cx="713.7" cy="316.0" r="5.18"/>
<circle class="wd" cx="564.3" cy="464.4" r="5.18"/>
<circle class="wd" cx="644.6" cy="334.6" r="5.18"/>
<circle class="we" cx="288.5" cy="676.2" r="5.18"/>
<circle class="we" cx="312.8" cy="732.7" r="5.18"/>
<circle class="wd" cx="666.4" cy="352.1" r="5.18"/>
<circle class="we" cx="311.8" cy="657.3" r="5.18"/>
<circle class="wd" cx="629.5" cy="386.5" r="5.18"/>
<circle class="wd" cx="689.1" cy="300.4" r="5.18"/>
<circle class="we" cx="378.1" cy="633.2" r="5.18"/>
<circle class="wd" cx="659.5" cy="303.0" r="5.18"/>
<circle class="wd" cx="710.5" cy="291.9" r="5.18"/>
<circle class="wd" cx="620.4" cy="352.9" r="5.18"/>
<circle class="we" cx="240.4" cy="784.0" r="5.18"/>
<circle class="wd" cx="714.4" cy="303.6" r="5.18"/>
<circle class="wd" cx="638.3" cy="385.5" r="5.18"/>
<circle class="wd" cx="564.1" cy="443.9" r="5.18"/>
<circle class="we" cx="238.5" cy="763.6" r="5.18"/>
<circle class="we" cx="274.3" cy="758.7" r="5.18"/>
<circle class="wd" cx="576.5" cy="441.0" r="5.18"/>
<circle class="wd" cx="670.0" cy="317.8" r="5.18"/>
<circle class="wd" cx="688.8" cy="358.4" r="5.18"/>
<circle class="wd" cx="564.6" cy="459.3" r="5.18"/>
<circle class="wd" cx="649.9" cy="338.5" r="5.18"/>
<circle class="we" cx="369.3" cy="652.0" r="5.18"/>
<circle class="wd" cx="658.9" cy="348.3" r="5.18"/>
<circle class="we" cx="265.6" cy="746.5" r="5.18"/>
<circle class="wd" cx="555.2" cy="440.2" r="5.18"/>
<circle class="wd" cx="660.7" cy="371.7" r="5.18"/>
<circle class="wd" cx="674.9" cy="289.4" r="5.18"/>
<circle class="we" cx="316.7" cy="731.2" r="5.18"/>
<circle class="wd" cx="781.3" cy="258.9" r="5.18"/>
<circle class="wd" cx="590.7" cy="421.6" r="5.18"/>
<circle class="we" cx="362.5" cy="651.8" r="5.18"/>
<circle class="wd" cx="667.4" cy="362.3" r="5.18"/>
<circle class="we" cx="340.1" cy="682.8" r="5.18"/>
<circle class="wd" cx="611.4" cy="394.6" r="5.18"/>
<circle class="we" cx="282.9" cy="775.4" r="5.18"/>
<circle class="we" cx="203.7" cy="788.4" r="5.18"/>
<circle class="wd" cx="628.5" cy="378.9" r="5.18"/>
<circle class="wd" cx="564.2" cy="452.8" r="5.18"/>
<circle class="wd" cx="689.8" cy="378.6" r="5.18"/>
<circle class="we" cx="213.6" cy="801.6" r="5.18"/>
<circle class="wd" cx="732.4" cy="296.2" r="5.18"/>
<circle class="wd" cx="624.3" cy="397.0" r="5.18"/>
<circle class="wd" cx="535.7" cy="419.5" r="5.18"/>
<circle class="we" cx="207.0" cy="801.4" r="5.18"/>
<circle class="we" cx="283.7" cy="728.1" r="5.18"/>
<circle class="wd" cx="616.8" cy="360.6" r="5.18"/>
<circle class="wd" cx="684.9" cy="305.0" r="5.18"/>
<circle class="we" cx="308.0" cy="715.5" r="5.18"/>
<circle class="wd" cx="580.9" cy="413.9" r="5.18"/>
<circle class="we" cx="289.5" cy="690.0" r="5.18"/>
<circle class="we" cx="335.5" cy="699.9" r="5.18"/>
<circle class="wd" cx="719.6" cy="271.1" r="5.18"/>
<circle class="we" cx="306.1" cy="693.1" r="5.18"/>
<circle class="wd" cx="706.4" cy="309.2" r="5.18"/>
<circle class="wd" cx="613.9" cy="388.7" r="5.18"/>
<circle class="wd" cx="594.9" cy="427.9" r="5.18"/>
<circle class="wd" cx="659.1" cy="389.0" r="5.18"/>
<circle class="we" cx="261.6" cy="757.9" r="5.18"/>
<circle class="we" cx="342.8" cy="697.5" r="5.18"/>
<circle class="we" cx="310.8" cy="678.2" r="5.18"/>
<circle class="wd" cx="611.5" cy="410.8" r="5.18"/>
<circle class="wd" cx="631.6" cy="386.0" r="5.18"/>
<circle class="we" cx="291.5" cy="704.7" r="5.18"/>
<circle class="we" cx="335.4" cy="624.9" r="5.18"/>
<circle class="wd" cx="713.8" cy="320.3" r="5.18"/>
<circle class="we" cx="327.5" cy="652.4" r="5.18"/>
<circle class="we" cx="202.9" cy="815.4" r="5.18"/>
<circle class="wd" cx="686.3" cy="343.4" r="5.18"/>
<circle class="we" cx="235.7" cy="746.3" r="5.18"/>
<circle class="we" cx="235.6" cy="769.3" r="5.18"/>
<circle class="we" cx="278.9" cy="698.1" r="5.18"/>
<circle class="wd" cx="701.2" cy="336.0" r="5.18"/>
<circle class="we" cx="339.5" cy="656.6" r="5.18"/>
<circle class="wd" cx="748.4" cy="306.9" r="5.18"/>
<circle class="we" cx="265.5" cy="769.3" r="5.18"/>
<circle class="wd" cx="674.9" cy="415.6" r="5.18"/>
<circle class="we" cx="219.8" cy="772.7" r="5.18"/>
<circle class="wd" cx="648.6" cy="374.7" r="5.18"/>
<circle class="we" cx="292.6" cy="713.2" r="5.18"/>
<circle class="wd" cx="570.8" cy="417.6" r="5.18"/>
<circle class="wd" cx="563.8" cy="482.1" r="5.18"/>
<circle class="we" cx="321.2" cy="717.3" r="5.18"/>
<circle class="we" cx="220.2" cy="799.0" r="5.18"/>
<circle class="wd" cx="549.7" cy="469.7" r="5.18"/>
<circle class="we" cx="230.9" cy="791.0" r="5.18"/>
<circle class="wd" cx="579.2" cy="357.0" r="5.18"/>
<circle class="wd" cx="665.1" cy="347.0" r="5.18"/>
<circle class="we" cx="360.1" cy="654.5" r="5.18"/>
<circle class="wd" cx="600.2" cy="402.4" r="5.18"/>
<circle class="wd" cx="689.7" cy="281.1" r="5.18"/>
<circle class="wd" cx="566.2" cy="412.7" r="5.18"/>
<circle class="wd" cx="641.7" cy="336.3" r="5.18"/>
<circle class="wd" cx="578.0" cy="462.1" r="5.18"/>
<circle class="wd" cx="664.4" cy="381.7" r="5.18"/>
<circle class="wd" cx="699.3" cy="304.2" r="5.18"/>
<circle class="wd" cx="585.0" cy="449.5" r="5.18"/>
<circle class="we" cx="284.7" cy="742.5" r="5.18"/>
<circle class="wd" cx="644.1" cy="367.1" r="5.18"/>
<circle class="we" cx="387.0" cy="654.1" r="5.18"/>
<circle class="wd" cx="573.8" cy="406.2" r="5.18"/>
<circle class="we" cx="270.9" cy="770.3" r="5.18"/>
<circle class="wd" cx="582.7" cy="408.3" r="5.18"/>
<circle class="wd" cx="741.5" cy="271.8" r="5.18"/>
<circle class="wd" cx="645.4" cy="345.6" r="5.18"/>
<circle class="wd" cx="674.0" cy="318.6" r="5.18"/>
<circle class="wd" cx="703.2" cy="276.9" r="5.18"/>
<circle class="we" cx="243.5" cy="768.4" r="5.18"/>
<circle class="wd" cx="636.8" cy="384.7" r="5.18"/>
<circle class="wd" cx="758.0" cy="272.7" r="5.18"/>
<circle class="wd" cx="740.4" cy="282.4" r="5.18"/>
<circle class="wd" cx="551.7" cy="450.7" r="5.18"/>
<circle class="wd" cx="730.0" cy="259.5" r="5.18"/>
<circle class="we" cx="348.9" cy="667.1" r="5.18"/>
<circle class="we" cx="206.3" cy="788.8" r="5.18"/>
<circle class="wd" cx="714.6" cy="334.8" r="5.18"/>
<circle class="we" cx="315.6" cy="711.1" r="5.18"/>
<circle class="we" cx="331.4" cy="658.2" r="5.18"/>
<circle class="we" cx="286.6" cy="749.4" r="5.18"/>
<circle class="we" cx="261.2" cy="711.5" r="5.18"/>
<circle class="wd" cx="723.2" cy="297.0" r="5.18"/>
<circle class="wd" cx="609.6" cy="434.7" r="5.18"/>
<circle class="we" cx="356.4" cy="643.7" r="5.18"/>
<circle class="we" cx="346.9" cy="669.9" r="5.18"/>
<circle class="wd" cx="583.7" cy="369.1" r="5.18"/>
<circle class="we" cx="370.8" cy="646.9" r="5.18"/>
<circle class="wd" cx="624.8" cy="355.3" r="5.18"/>
<circle class="wd" cx="551.9" cy="445.2" r="5.18"/>
<circle class="wd" cx="611.5" cy="415.6" r="5.18"/>
<circle class="wd" cx="590.5" cy="363.1" r="5.18"/>
<circle class="wd" cx="611.4" cy="370.6" r="5.18"/>
<circle class="we" cx="358.4" cy="680.7" r="5.18"/>
<circle class="wd" cx="615.1" cy="412.6" r="5.18"/>
<circle class="wd" cx="575.7" cy="426.1" r="5.18"/>
<circle class="we" cx="267.2" cy="704.6" r="5.18"/>
<circle class="wd" cx="634.6" cy="383.0" r="5.18"/>
<circle class="wd" cx="685.8" cy="364.6" r="5.18"/>
<circle class="we" cx="320.1" cy="708.9" r="5.18"/>
<circle class="we" cx="271.0" cy="714.8" r="5.18"/>
<circle class="wd" cx="682.0" cy="371.4" r="5.18"/>
<circle class="wd" cx="589.2" cy="437.4" r="5.18"/>
<circle class="we" cx="230.9" cy="728.1" r="5.18"/>
<circle class="wd" cx="563.2" cy="429.8" r="5.18"/>
<circle class="we" cx="284.0" cy="764.5" r="5.18"/>
<circle class="wd" cx="745.5" cy="274.1" r="5.18"/>
<circle class="wd" cx="739.0" cy="307.7" r="5.18"/>
<circle class="we" cx="269.6" cy="766.6" r="5.18"/>
<circle class="we" cx="266.3" cy="783.0" r="5.18"/>
<circle class="wd" cx="663.0" cy="373.0" r="5.18"/>
<circle class="we" cx="242.5" cy="745.7" r="5.18"/>
<circle class="we" cx="217.4" cy="768.6" r="5.18"/>
<circle class="wd" cx="721.6" cy="263.8" r="5.18"/>
<circle class="we" cx="348.8" cy="684.7" r="5.18"/>
<circle class="we" cx="304.9" cy="687.1" r="5.18"/>
<circle class="we" cx="196.2" cy="815.2" r="5.18"/>
<circle class="wd" cx="749.5" cy="257.7" r="5.18"/>
<circle class="we" cx="316.5" cy="694.7" r="5.18"/>
<circle class="we" cx="331.5" cy="700.2" r="5.18"/>
<circle class="we" cx="259.8" cy="781.7" r="5.18"/>
<circle class="wd" cx="725.7" cy="270.5" r="5.18"/>
<circle class="wd" cx="617.1" cy="409.3" r="5.18"/>
<circle class="we" cx="360.1" cy="646.8" r="5.18"/>
<circle class="we" cx="273.2" cy="710.8" r="5.18"/>
<circle class="wd" cx="733.6" cy="300.4" r="5.18"/>
<circle class="wd" cx="576.1" cy="394.0" r="5.18"/>
<circle class="wd" cx="645.1" cy="391.6" r="5.18"/>
<circle class="wd" cx="658.7" cy="388.6" r="5.18"/>
<circle class="wd" cx="640.9" cy="399.2" r="5.18"/>
<circle class="we" cx="330.6" cy="713.8" r="5.18"/>
<circle class="wd" cx="746.0" cy="245.0" r="5.18"/>
<circle class="we" cx="290.8" cy="694.4" r="5.18"/>
<circle class="we" cx="263.3" cy="748.6" r="5.18"/>
<circle class="we" cx="280.3" cy="759.7" r="5.18"/>
<circle class="wd" cx="641.9" cy="403.4" r="5.18"/>
<circle class="we" cx="266.9" cy="715.6" r="5.18"/>
<circle class="wd" cx="684.9" cy="367.6" r="5.18"/>
<circle class="we" cx="322.8" cy="713.9" r="5.18"/>
<circle class="wd" cx="609.9" cy="423.1" r="5.18"/>
<circle class="wd" cx="588.6" cy="425.2" r="5.18"/>
<circle class="wd" cx="685.6" cy="299.3" r="5.18"/>
<circle class="we" cx="330.0" cy="656.2" r="5.18"/>
<circle class="we" cx="301.2" cy="679.6" r="5.18"/>
<circle class="we" cx="214.5" cy="770.3" r="5.18"/>
<circle class="wd" cx="614.8" cy="422.2" r="5.18"/>
<circle class="wd" cx="707.1" cy="313.4" r="5.18"/>
<circle class="wd" cx="663.8" cy="394.1" r="5.18"/>
<circle class="wd" cx="594.9" cy="400.6" r="5.18"/>
<circle class="wd" cx="683.3" cy="341.3" r="5.18"/>
<circle class="wd" cx="733.1" cy="252.7" r="5.18"/>
<circle class="we" cx="215.9" cy="809.4" r="5.18"/>
<circle class="wd" cx="672.3" cy="354.6" r="5.18"/>
<circle class="wd" cx="697.3" cy="331.8" r="5.18"/>
<circle class="we" cx="218.0" cy="785.8" r="5.18"/>
<circle class="wd" cx="706.9" cy="275.0" r="5.18"/>
<circle class="wd" cx="642.0" cy="316.2" r="5.18"/>
<circle class="wd" cx="654.3" cy="319.8" r="5.18"/>
<circle class="we" cx="313.3" cy="678.5" r="5.18"/>
<circle class="wd" cx="568.2" cy="462.0" r="5.18"/>
<circle class="wd" cx="651.5" cy="394.1" r="5.18"/>
<circle class="wd" cx="717.3" cy="299.9" r="5.18"/>
<circle class="wd" cx="734.9" cy="276.4" r="5.18"/>
<circle class="wd" cx="621.3" cy="382.6" r="5.18"/>
<circle class="we" cx="306.3" cy="750.7" r="5.18"/>
<circle class="wd" cx="512.6" cy="443.1" r="5.18"/>
<circle class="wd" cx="700.0" cy="316.9" r="5.18"/>
<circle class="wd" cx="552.9" cy="381.6" r="5.18"/>
<circle class="wd" cx="657.1" cy="396.4" r="5.18"/>
<circle class="wd" cx="608.5" cy="419.1" r="5.18"/>
<circle class="we" cx="281.6" cy="761.4" r="5.18"/>
<circle class="we" cx="304.8" cy="720.1" r="5.18"/>
<circle class="we" cx="326.1" cy="660.2" r="5.18"/>
<circle class="wd" cx="667.5" cy="312.0" r="5.18"/>
<circle class="we" cx="267.6" cy="719.1" r="5.18"/>
<circle class="wd" cx="695.4" cy="297.6" r="5.18"/>
<circle class="wd" cx="718.5" cy="282.9" r="5.18"/>
<circle class="wd" cx="693.5" cy="353.1" r="5.18"/>
<circle class="wd" cx="542.2" cy="447.6" r="5.18"/>
<circle class="wd" cx="631.9" cy="441.9" r="5.18"/>
<circle class="wd" cx="655.1" cy="350.1" r="5.18"/>
<circle class="wd" cx="675.7" cy="369.4" r="5.18"/>
<circle class="we" cx="280.9" cy="679.8" r="5.18"/>
<circle class="we" cx="246.6" cy="784.0" r="5.18"/>
<circle class="wd" cx="555.3" cy="446.9" r="5.18"/>
<circle class="wd" cx="593.4" cy="406.0" r="5.18"/>
<circle class="wd" cx="716.0" cy="288.7" r="5.18"/>
<circle class="we" cx="297.4" cy="718.7" r="5.18"/>
<circle class="we" cx="346.0" cy="679.7" r="5.18"/>
<circle class="we" cx="359.5" cy="693.2" r="5.18"/>
<circle class="wd" cx="572.2" cy="433.2" r="5.18"/>
<circle class="wd" cx="714.4" cy="326.4" r="5.18"/>
<circle class="we" cx="345.7" cy="645.7" r="5.18"/>
<circle class="wd" cx="699.5" cy="318.1" r="5.18"/>
<circle class="wd" cx="553.5" cy="387.3" r="5.18"/>
<circle class="we" cx="350.3" cy="665.0" r="5.18"/>
<circle class="wd" cx="676.5" cy="387.0" r="5.18"/>
<circle class="wd" cx="555.6" cy="457.5" r="5.18"/>
<circle class="we" cx="235.9" cy="797.9" r="5.18"/>
<circle class="wd" cx="713.9" cy="291.5" r="5.18"/>
<circle class="we" cx="244.2" cy="752.4" r="5.18"/>
<circle class="we" cx="311.4" cy="690.6" r="5.18"/>
<circle class="wd" cx="607.4" cy="408.6" r="5.18"/>
<circle class="wd" cx="626.9" cy="391.7" r="5.18"/>
<circle class="wd" cx="645.8" cy="377.4" r="5.18"/>
<circle class="we" cx="289.1" cy="720.7" r="5.18"/>
<circle class="wd" cx="622.3" cy="408.1" r="5.18"/>
<circle class="wd" cx="542.2" cy="439.1" r="5.18"/>
<circle class="we" cx="206.7" cy="807.4" r="5.18"/>
<circle class="wd" cx="557.4" cy="443.4" r="5.18"/>
<circle class="wd" cx="561.2" cy="419.1" r="5.18"/>
<circle class="wd" cx="750.3" cy="267.9" r="5.18"/>
<circle class="wd" cx="741.4" cy="288.7" r="5.18"/>
<circle class="we" cx="278.7" cy="735.7" r="5.18"/>
<circle class="we" cx="241.7" cy="747.1" r="5.18"/>
<circle class="wd" cx="567.7" cy="437.0" r="5.18"/>
<circle class="we" cx="291.1" cy="747.6" r="5.18"/>
<circle class="wd" cx="665.9" cy="367.0" r="5.18"/>
<circle class="wd" cx="664.9" cy="330.6" r="5.18"/>
<circle class="we" cx="280.2" cy="749.0" r="5.18"/>
<circle class="wd" cx="697.7" cy="334.5" r="5.18"/>
<circle class="we" cx="288.2" cy="702.8" r="5.18"/>
<circle class="we" cx="276.5" cy="718.7" r="5.18"/>
<circle class="wd" cx="713.0" cy="291.4" r="5.18"/>
<circle class="we" cx="305.2" cy="681.0" r="5.18"/>
<circle class="we" cx="233.4" cy="736.4" r="5.18"/>
<circle class="wd" cx="563.3" cy="417.1" r="5.18"/>
<circle class="we" cx="262.4" cy="767.9" r="5.18"/>
<circle class="wd" cx="608.9" cy="392.4" r="5.18"/>
<circle class="wd" cx="539.3" cy="462.4" r="5.18"/>
<circle class="we" cx="295.6" cy="697.2" r="5.18"/>
<circle class="we" cx="297.2" cy="722.0" r="5.18"/>
<circle class="we" cx="251.3" cy="719.4" r="5.18"/>
<circle class="wd" cx="735.2" cy="268.6" r="5.18"/>
<circle class="we" cx="337.3" cy="677.8" r="5.18"/>
<circle class="wd" cx="509.4" cy="475.5" r="5.18"/>
<circle class="wd" cx="734.1" cy="291.2" r="5.18"/>
<circle class="we" cx="312.7" cy="698.6" r="5.18"/>
<circle class="wd" cx="731.5" cy="310.7" r="5.18"/>
<circle class="wd" cx="650.0" cy="382.1" r="5.18"/>
<circle class="wd" cx="558.0" cy="410.0" r="5.18"/>
<circle class="wd" cx="631.7" cy="362.4" r="5.18"/>
<circle class="wd" cx="732.7" cy="275.6" r="5.18"/>
<circle class="we" cx="243.8" cy="725.1" r="5.18"/>
<circle class="wd" cx="681.8" cy="358.0" r="5.18"/>
<circle class="wd" cx="570.9" cy="469.8" r="5.18"/>
<circle class="wd" cx="632.5" cy="390.2" r="5.18"/>
<circle class="wd" cx="617.9" cy="413.7" r="5.18"/>
<circle class="wd" cx="722.0" cy="264.9" r="5.18"/>
<circle class="wd" cx="526.9" cy="447.5" r="5.18"/>
<circle class="we" cx="305.3" cy="647.4" r="5.18"/>
<circle class="wd" cx="673.4" cy="379.9" r="5.18"/>
<circle class="wd" cx="566.4" cy="456.4" r="5.18"/>
<circle class="wd" cx="704.3" cy="298.4" r="5.18"/>
<circle class="we" cx="267.6" cy="757.7" r="5.18"/>
<circle class="wd" cx="685.2" cy="337.8" r="5.18"/>
<circle class="wd" cx="713.1" cy="338.4" r="5.18"/>
<circle class="wd" cx="587.0" cy="414.7" r="5.18"/>
<circle class="wd" cx="695.7" cy="294.2" r="5.18"/>
<circle class="wd" cx="576.3" cy="400.0" r="5.18"/>
<circle class="wd" cx="637.5" cy="363.7" r="5.18"/>
<circle class="we" cx="298.9" cy="676.1" r="5.18"/>
<circle class="wd" cx="680.9" cy="283.3" r="5.18"/>
<circle class="wd" cx="580.9" cy="448.0" r="5.18"/>
<circle class="we" cx="317.6" cy="679.8" r="5.18"/>
<circle class="wd" cx="668.4" cy="289.3" r="5.18"/>
<circle class="wd" cx="611.5" cy="384.6" r="5.18"/>
<circle class="wd" cx="740.4" cy="248.5" r="5.18"/>
<circle class="wd" cx="615.8" cy="372.6" r="5.18"/>
<circle class="we" cx="207.3" cy="790.4" r="5.18"/>
<circle class="wd" cx="563.6" cy="436.6" r="5.18"/>
<circle class="we" cx="281.6" cy="682.8" r="5.18"/>
<circle class="wd" cx="744.7" cy="286.4" r="5.18"/>
<circle class="we" cx="288.7" cy="746.1" r="5.18"/>
<circle class="wd" cx="651.9" cy="340.0" r="5.18"/>
<circle class="wd" cx="586.9" cy="404.4" r="5.18"/>
<circle class="wd" cx="693.6" cy="354.5" r="5.18"/>
<circle class="wd" cx="584.8" cy="453.0" r="5.18"/>
<circle class="wd" cx="587.1" cy="429.7" r="5.18"/>
<circle class="we" cx="307.9" cy="643.8" r="5.18"/>
<circle class="wd" cx="621.5" cy="439.5" r="5.18"/>
<circle class="wd" cx="692.4" cy="312.3" r="5.18"/>
<circle class="wd" cx="545.7" cy="426.7" r="5.18"/>
<circle class="wd" cx="769.1" cy="251.7" r="5.18"/>
<circle class="we" cx="311.9" cy="695.8" r="5.18"/>
<circle class="we" cx="198.9" cy="806.3" r="5.18"/>
<circle class="wd" cx="640.4" cy="359.5" r="5.18"/>
<circle class="wd" cx="685.4" cy="308.9" r="5.18"/>
<circle class="wd" cx="675.9" cy="333.8" r="5.18"/>
<circle class="we" cx="246.4" cy="782.2" r="5.18"/>
<circle class="wd" cx="707.1" cy="318.8" r="5.18"/>
<circle class="we" cx="309.2" cy="736.2" r="5.18"/>
<circle class="wd" cx="656.1" cy="387.0" r="5.18"/>
<circle class="wd" cx="766.5" cy="245.6" r="5.18"/>
<circle class="we" cx="273.8" cy="742.9" r="5.18"/>
<circle class="we" cx="207.1" cy="792.5" r="5.18"/>
<circle class="wd" cx="618.5" cy="350.3" r="5.18"/>
<circle class="wd" cx="537.8" cy="456.5" r="5.18"/>
<circle class="we" cx="358.9" cy="690.4" r="5.18"/>
<circle class="we" cx="292.0" cy="766.6" r="5.18"/>
<circle class="wd" cx="651.1" cy="332.6" r="5.18"/>
<circle class="wd" cx="730.8" cy="267.3" r="5.18"/>
<circle class="wd" cx="706.0" cy="314.9" r="5.18"/>
<circle class="we" cx="337.6" cy="707.8" r="5.18"/>
<circle class="wd" cx="546.2" cy="449.6" r="5.18"/>
<circle class="wd" cx="724.9" cy="266.6" r="5.18"/>
<circle class="wd" cx="532.2" cy="454.3" r="5.18"/>
<circle class="wd" cx="608.9" cy="361.2" r="5.18"/>
<circle class="we" cx="307.7" cy="697.6" r="5.18"/>
<circle class="wd" cx="701.1" cy="317.8" r="5.18"/>
<circle class="we" cx="214.7" cy="791.8" r="5.18"/>
<circle class="wd" cx="622.9" cy="350.5" r="5.18"/>
<circle class="we" cx="314.2" cy="699.1" r="5.18"/>
<circle class="we" cx="298.0" cy="734.2" r="5.18"/>
<circle class="we" cx="350.7" cy="656.2" r="5.18"/>
<circle class="wd" cx="610.8" cy="328.8" r="5.18"/>
<circle class="we" cx="295.2" cy="726.0" r="5.18"/>
<circle class="wd" cx="736.5" cy="290.4" r="5.18"/>
<circle class="wd" cx="587.9" cy="393.4" r="5.18"/>
<circle class="we" cx="242.6" cy="790.4" r="5.18"/>
<circle class="wd" cx="729.0" cy="302.5" r="5.18"/>
<circle class="we" cx="248.7" cy="725.5" r="5.18"/>
<circle class="wd" cx="726.8" cy="286.1" r="5.18"/>
<circle class="we" cx="354.2" cy="687.5" r="5.18"/>
<circle class="wd" cx="572.6" cy="454.2" r="5.18"/>
<circle class="wd" cx="668.7" cy="325.5" r="5.18"/>
<circle class="wd" cx="560.7" cy="426.5" r="5.18"/>
<circle class="we" cx="369.9" cy="663.3" r="5.18"/>
<circle class="wd" cx="568.0" cy="452.5" r="5.18"/>
<circle class="wd" cx="710.0" cy="330.1" r="5.18"/>
<circle class="we" cx="370.7" cy="650.2" r="5.18"/>
<circle class="we" cx="227.5" cy="785.3" r="5.18"/>
<circle class="we" cx="260.7" cy="761.5" r="5.18"/>
<circle class="wd" cx="738.7" cy="279.2" r="5.18"/>
<circle class="wd" cx="666.0" cy="354.8" r="5.18"/>
<circle class="wd" cx="557.6" cy="472.0" r="5.18"/>
<circle class="wd" cx="735.9" cy="256.9" r="5.18"/>
<circle class="wd" cx="610.0" cy="381.7" r="5.18"/>
<circle class="wd" cx="724.9" cy="315.2" r="5.18"/>
<circle class="we" cx="348.9" cy="675.6" r="5.18"/>
<circle class="we" cx="321.1" cy="668.8" r="5.18"/>
<circle class="we" cx="345.1" cy="663.3" r="5.18"/>
<circle class="wd" cx="634.2" cy="376.7" r="5.18"/>
<circle class="wd" cx="644.9" cy="356.2" r="5.18"/>
<circle class="wd" cx="579.2" cy="422.4" r="5.18"/>
<circle class="we" cx="316.3" cy="720.2" r="5.18"/>
<circle class="wd" cx="696.8" cy="380.3" r="5.18"/>
<circle class="wd" cx="675.7" cy="313.2" r="5.18"/>
<circle class="we" cx="340.2" cy="652.8" r="5.18"/>
<circle class="we" cx="238.1" cy="748.5" r="5.18"/>
<circle class="wd" cx="635.7" cy="364.6" r="5.18"/>
<circle class="we" cx="223.7" cy="805.6" r="5.18"/>
<circle class="wd" cx="567.8" cy="444.6" r="5.18"/>
<circle class="we" cx="201.6" cy="793.3" r="5.18"/>
<circle class="wd" cx="559.5" cy="388.0" r="5.18"/>
<circle class="we" cx="275.5" cy="728.7" r="5.18"/>
<circle class="wd" cx="619.6" cy="374.1" r="5.18"/>
<circle class="wd" cx="747.4" cy="275.6" r="5.18"/>
<circle class="we" cx="341.2" cy="673.0" r="5.18"/>
<circle class="wd" cx="676.7" cy="336.8" r="5.18"/>
<circle class="we" cx="314.5" cy="687.0" r="5.18"/>
<circle class="we" cx="345.7" cy="687.8" r="5.18"/>
<circle class="wd" cx="739.5" cy="250.0" r="5.18"/>
<circle class="wd" cx="584.6" cy="398.7" r="5.18"/>
<circle class="we" cx="279.6" cy="752.2" r="5.18"/>
<circle class="wd" cx="760.4" cy="236.5" r="5.18"/>
<circle class="we" cx="287.5" cy="717.7" r="5.18"/>
<circle class="wd" cx="543.1" cy="455.8" r="5.18"/>
<circle class="wd" cx="542.2" cy="420.3" r="5.18"/>
<circle class="wd" cx="655.0" cy="393.7" r="5.18"/>
<circle class="we" cx="357.1" cy="653.7" r="5.18"/>
<circle class="wd" cx="541.8" cy="474.8" r="5.18"/>
<circle class="wd" cx="649.5" cy="323.9" r="5.18"/>
<circle class="we" cx="324.0" cy="663.4" r="5.18"/>
<circle class="wd" cx="765.7" cy="240.4" r="5.18"/>
<circle class="we" cx="331.0" cy="721.0" r="5.18"/>
<circle class="wd" cx="572.3" cy="451.6" r="5.18"/>
<circle class="wd" cx="616.6" cy="416.7" r="5.18"/>
<circle class="wd" cx="749.5" cy="297.3" r="5.18"/>
<circle class="wd" cx="749.2" cy="240.5" r="5.18"/>
<circle class="we" cx="323.9" cy="651.9" r="5.18"/>
<circle class="wd" cx="656.2" cy="369.5" r="5.18"/>
<circle class="we" cx="270.4" cy="728.8" r="5.18"/>
<circle class="wd" cx="618.3" cy="408.0" r="5.18"/>
<circle class="we" cx="296.4" cy="702.9" r="5.18"/>
<circle class="we" cx="273.9" cy="695.1" r="5.18"/>
<circle class="wd" cx="618.8" cy="355.9" r="5.18"/>
<circle class="wd" cx="739.0" cy="252.7" r="5.18"/>
<circle class="we" cx="218.2" cy="801.7" r="5.18"/>
<circle class="we" cx="236.6" cy="754.7" r="5.18"/>
<circle class="we" cx="317.4" cy="683.2" r="5.18"/>
<circle class="we" cx="277.2" cy="721.1" r="5.18"/>
<circle class="wd" cx="249.0" cy="268.7" r="5.18"/>
<circle class="wd" cx="208.7" cy="315.0" r="5.18"/>
<circle class="wd" cx="260.7" cy="312.2" r="5.18"/>
<circle class="wd" cx="293.2" cy="292.2" r="5.18"/>
<circle class="wd" cx="290.7" cy="306.3" r="5.18"/>
<circle class="wd" cx="297.0" cy="308.0" r="5.18"/>
<circle class="wd" cx="248.2" cy="321.3" r="5.18"/>
<circle class="wd" cx="277.0" cy="323.3" r="5.18"/>
<circle class="wd" cx="271.8" cy="332.2" r="5.18"/>
<circle class="wd" cx="271.8" cy="334.2" r="5.18"/>
<circle class="wd" cx="271.8" cy="341.7" r="5.18"/>
<circle class="wd" cx="245.7" cy="337.0" r="5.18"/>
<circle class="wd" cx="293.2" cy="335.5" r="5.18"/>
<circle class="wd" cx="297.3" cy="338.3" r="5.18"/>
<circle class="wd" cx="260.7" cy="345.0" r="5.18"/>
<circle class="wd" cx="264.0" cy="354.5" r="5.18"/>
<circle class="wd" cx="197.0" cy="343.3" r="5.18"/>
<circle class="wd" cx="198.7" cy="351.2" r="5.18"/>
<circle class="wd" cx="228.2" cy="355.8" r="5.18"/>
<circle class="wd" cx="236.5" cy="357.5" r="5.18"/>
<circle class="wd" cx="252.3" cy="362.5" r="5.18"/>
<circle class="wd" cx="258.2" cy="365.0" r="5.18"/>
<circle class="wd" cx="267.7" cy="365.5" r="5.18"/>
<circle class="wd" cx="267.0" cy="373.7" r="5.18"/>
<circle class="wd" cx="228.7" cy="371.2" r="5.18"/>
<circle class="wd" cx="242.3" cy="374.2" r="5.18"/>
<circle class="wd" cx="203.7" cy="372.8" r="5.18"/>
<circle class="wd" cx="188.7" cy="375.8" r="5.18"/>
<circle class="wd" cx="255.3" cy="383.0" r="5.18"/>
<circle class="wd" cx="226.8" cy="383.7" r="5.18"/>
<circle class="wd" cx="228.5" cy="382.5" r="5.18"/>
<circle class="wd" cx="217.7" cy="392.0" r="5.18"/>
<circle class="wd" cx="237.7" cy="395.8" r="5.18"/>
<circle class="wd" cx="186.0" cy="402.5" r="5.18"/>
<circle class="wd" cx="226.0" cy="404.5" r="5.18"/>
<circle class="wd" cx="232.3" cy="408.7" r="5.18"/>
<circle class="wd" cx="243.2" cy="408.7" r="5.18"/>
<circle class="wd" cx="242.7" cy="410.0" r="5.18"/>
<circle class="wd" cx="252.3" cy="413.3" r="5.18"/>
<circle class="wd" cx="241.5" cy="416.7" r="5.18"/>
<circle class="wd" cx="209.0" cy="411.2" r="5.18"/>
<circle class="wd" cx="213.7" cy="413.3" r="5.18"/>
<circle class="wd" cx="183.2" cy="419.7" r="5.18"/>
<circle class="wd" cx="192.7" cy="418.8" r="5.18"/>
<circle class="wd" cx="223.2" cy="425.8" r="5.18"/>
<circle class="wd" cx="224.0" cy="426.7" r="5.18"/>
<circle class="wd" cx="214.8" cy="433.0" r="5.18"/>
<circle class="wd" cx="216.5" cy="434.2" r="5.18"/>
<circle class="wd" cx="219.0" cy="436.7" r="5.18"/>
<circle class="wd" cx="229.0" cy="434.2" r="5.18"/>
<circle class="wd" cx="231.5" cy="435.8" r="5.18"/>
<circle class="wd" cx="193.7" cy="439.2" r="5.18"/>
<circle class="wd" cx="186.0" cy="444.2" r="5.18"/>
<circle class="wd" cx="195.7" cy="448.3" r="5.18"/>
<circle class="wd" cx="200.7" cy="450.0" r="5.18"/>
<circle class="wd" cx="172.3" cy="451.2" r="5.18"/>
<circle class="wd" cx="177.3" cy="453.3" r="5.18"/>
<circle class="wd" cx="212.3" cy="445.0" r="5.18"/>
<circle class="wd" cx="217.3" cy="445.8" r="5.18"/>
<circle class="wd" cx="220.7" cy="443.3" r="5.18"/>
<circle class="wd" cx="218.7" cy="440.8" r="5.18"/>
<circle class="wd" cx="237.0" cy="447.5" r="5.18"/>
<circle class="wd" cx="240.7" cy="443.8" r="5.18"/>
<circle class="wd" cx="243.2" cy="442.0" r="5.18"/>
<circle class="wd" cx="201.0" cy="462.8" r="5.18"/>
<circle class="wd" cx="203.7" cy="465.0" r="5.18"/>
<circle class="wd" cx="211.5" cy="464.7" r="5.18"/>
<circle class="wd" cx="175.3" cy="473.7" r="5.18"/>
<circle class="wd" cx="211.8" cy="487.5" r="5.18"/>
<circle class="wd" cx="286.0" cy="460.0" r="5.18"/>
<circle class="wd" cx="291.5" cy="461.7" r="5.18"/>
<circle class="wd" cx="294.8" cy="456.7" r="5.18"/>
<circle class="wd" cx="282.7" cy="480.5" r="5.18"/>
<circle class="wd" cx="293.7" cy="488.3" r="5.18"/>
<circle class="we" cx="296.0" cy="474.2" r="5.18"/>
<circle class="we" cx="298.2" cy="493.3" r="5.18"/>
<circle class="we" cx="295.2" cy="520.3" r="5.18"/>
<circle class="we" cx="300.0" cy="569.3" r="5.18"/>
<circle class="we" cx="356.0" cy="576.7" r="5.18"/>
<circle class="we" cx="346.0" cy="600.0" r="5.18"/>
<circle class="we" cx="372.3" cy="606.7" r="5.18"/>
<circle class="we" cx="376.3" cy="616.0" r="5.18"/>
<circle class="we" cx="382.3" cy="623.3" r="5.18"/>
<circle class="we" cx="390.7" cy="624.3" r="5.18"/>
<circle class="we" cx="397.3" cy="622.7" r="5.18"/>
<circle class="we" cx="400.7" cy="625.0" r="5.18"/>
<circle class="we" cx="332.3" cy="612.7" r="5.18"/>
<circle class="we" cx="323.3" cy="619.3" r="5.18"/>
<circle class="we" cx="321.3" cy="622.7" r="5.18"/>
<circle class="we" cx="301.3" cy="621.3" r="5.18"/>
<circle class="we" cx="310.7" cy="629.3" r="5.18"/>
<circle class="we" cx="313.0" cy="632.7" r="5.18"/>
<circle class="we" cx="320.7" cy="638.3" r="5.18"/>
<circle class="we" cx="283.3" cy="637.3" r="5.18"/>
<circle class="we" cx="282.3" cy="640.0" r="5.18"/>
<circle class="we" cx="290.7" cy="645.0" r="5.18"/>
<circle class="we" cx="295.7" cy="653.3" r="5.18"/>
<circle class="we" cx="436.7" cy="642.3" r="5.18"/>
<circle class="we" cx="444.3" cy="709.0" r="5.18"/>
<circle class="we" cx="413.7" cy="690.7" r="5.18"/>
<circle class="we" cx="406.7" cy="711.0" r="5.18"/>
<circle class="we" cx="394.7" cy="699.0" r="5.18"/>
<circle class="we" cx="387.3" cy="704.0" r="5.18"/>
<circle class="we" cx="384.0" cy="706.7" r="5.18"/>
<circle class="we" cx="391.3" cy="728.3" r="5.18"/>
<circle class="we" cx="388.3" cy="740.0" r="5.18"/>
<circle class="we" cx="377.3" cy="725.7" r="5.18"/>
<circle class="we" cx="368.3" cy="721.0" r="5.18"/>
<circle class="we" cx="365.7" cy="731.7" r="5.18"/>
<circle class="we" cx="359.0" cy="736.7" r="5.18"/>
<circle class="we" cx="356.7" cy="738.3" r="5.18"/>
<circle class="we" cx="349.0" cy="731.0" r="5.18"/>
<circle class="we" cx="343.3" cy="745.7" r="5.18"/>
<circle class="we" cx="337.0" cy="733.3" r="5.18"/>
<circle class="we" cx="330.7" cy="741.7" r="5.18"/>
<circle class="we" cx="325.7" cy="755.7" r="5.18"/>
<circle class="we" cx="317.3" cy="750.7" r="5.18"/>
<circle class="we" cx="368.0" cy="760.0" r="5.18"/>
<circle class="we" cx="378.3" cy="767.3" r="5.18"/>
<circle class="we" cx="392.3" cy="779.7" r="5.18"/>
<circle class="we" cx="319.0" cy="769.3" r="5.18"/>
<circle class="we" cx="324.0" cy="770.7" r="5.18"/>
<circle class="we" cx="334.0" cy="771.7" r="5.18"/>
<circle class="we" cx="331.7" cy="777.3" r="5.18"/>
<circle class="we" cx="328.3" cy="780.7" r="5.18"/>
<circle class="we" cx="340.0" cy="790.7" r="5.18"/>
<circle class="we" cx="337.0" cy="796.3" r="5.18"/>
<circle class="we" cx="302.3" cy="778.3" r="5.18"/>
<circle class="we" cx="300.7" cy="786.7" r="5.18"/>
<circle class="we" cx="306.7" cy="786.0" r="5.18"/>
<circle class="we" cx="293.3" cy="788.3" r="5.18"/>
<circle class="we" cx="295.7" cy="807.3" r="5.18"/>
<circle class="we" cx="304.7" cy="809.0" r="5.18"/>
<circle class="we" cx="297.7" cy="817.3" r="5.18"/>
<circle class="we" cx="302.3" cy="822.7" r="5.18"/>
<circle class="we" cx="246.0" cy="840.7" r="5.18"/>
<circle class="we" cx="232.3" cy="832.3" r="5.18"/>
<circle class="we" cx="222.3" cy="823.3" r="5.18"/>
<circle class="we" cx="210.7" cy="825.0" r="5.18"/>
<circle class="we" cx="205.7" cy="825.0" r="5.18"/>
<circle class="we" cx="260.7" cy="806.0" r="5.18"/>
<circle class="we" cx="249.0" cy="810.0" r="5.18"/>
<circle class="we" cx="277.3" cy="793.3" r="5.18"/>
<circle class="we" cx="272.3" cy="788.3" r="5.18"/>
<circle class="we" cx="282.3" cy="781.7" r="5.18"/>
<circle class="we" cx="218.0" cy="646.7" r="5.18"/>
<circle class="we" cx="254.7" cy="665.7" r="5.18"/>
<circle class="we" cx="272.3" cy="670.0" r="5.18"/>
<circle class="we" cx="204.3" cy="681.0" r="5.18"/>
<circle class="we" cx="227.7" cy="676.7" r="5.18"/>
<circle class="we" cx="233.3" cy="685.7" r="5.18"/>
<circle class="we" cx="246.0" cy="685.0" r="5.18"/>
<circle class="we" cx="254.0" cy="687.7" r="5.18"/>
<circle class="we" cx="244.0" cy="696.7" r="5.18"/>
<circle class="we" cx="259.7" cy="696.7" r="5.18"/>
<circle class="we" cx="216.3" cy="706.0" r="5.18"/>
<circle class="we" cx="204.7" cy="709.0" r="5.18"/>
<circle class="we" cx="211.3" cy="720.0" r="5.18"/>
<circle class="we" cx="225.0" cy="720.0" r="5.18"/>
<circle class="we" cx="227.3" cy="716.7" r="5.18"/>
<circle class="we" cx="237.3" cy="703.3" r="5.18"/>
<circle class="we" cx="235.7" cy="708.3" r="5.18"/>
<circle class="we" cx="250.7" cy="707.7" r="5.18"/>
<circle class="we" cx="206.3" cy="734.3" r="5.18"/>
<circle class="we" cx="196.3" cy="742.7" r="5.18"/>
<circle class="we" cx="191.3" cy="750.7" r="5.18"/>
<circle class="we" cx="219.0" cy="750.0" r="5.18"/>
<circle class="we" cx="198.3" cy="766.7" r="5.18"/>
<circle class="we" cx="197.3" cy="778.3" r="5.18"/>
<circle class="we" cx="173.3" cy="790.7" r="5.18"/>
<circle class="we" cx="181.7" cy="795.0" r="5.18"/>
<circle class="we" cx="189.0" cy="806.7" r="5.18"/>
<circle class="we" cx="188.0" cy="818.3" r="5.18"/>
<circle class="we" cx="389.0" cy="647.3" r="5.18"/>
<circle class="we" cx="387.3" cy="660.0" r="5.18"/>
<circle class="we" cx="385.7" cy="670.0" r="5.18"/>
<circle class="we" cx="380.7" cy="676.7" r="5.18"/>
<circle class="we" cx="382.3" cy="686.0" r="5.18"/>
<circle class="we" cx="374.0" cy="688.3" r="5.18"/>
<circle class="we" cx="379.0" cy="693.3" r="5.18"/>
<circle class="we" cx="372.3" cy="695.0" r="5.18"/>
<circle class="we" cx="385.7" cy="705.0" r="5.18"/>
<circle class="we" cx="362.3" cy="706.7" r="5.18"/>
<circle class="we" cx="374.0" cy="710.0" r="5.18"/>
<circle class="we" cx="347.3" cy="715.0" r="5.18"/>
<circle class="we" cx="345.7" cy="721.7" r="5.18"/>
<circle class="we" cx="334.0" cy="726.7" r="5.18"/>
<circle class="wd" cx="269.3" cy="592.0" r="5.18"/>
<circle class="wd" cx="227.7" cy="629.0" r="5.18"/>
<circle class="wd" cx="231.3" cy="626.0" r="5.18"/>
<circle class="wd" cx="319.8" cy="254.5" r="5.18"/>
<circle class="wd" cx="329.8" cy="254.2" r="5.18"/>
<circle class="wd" cx="315.7" cy="267.0" r="5.18"/>
<circle class="wd" cx="315.2" cy="268.3" r="5.18"/>
<circle class="wd" cx="333.2" cy="276.7" r="5.18"/>
<circle class="wd" cx="330.7" cy="290.8" r="5.18"/>
<circle class="wd" cx="306.0" cy="287.5" r="5.18"/>
<circle class="wd" cx="301.0" cy="291.3" r="5.18"/>
<circle class="wd" cx="321.5" cy="305.3" r="5.18"/>
<circle class="wd" cx="313.2" cy="307.2" r="5.18"/>
<circle class="wd" cx="337.7" cy="306.3" r="5.18"/>
<circle class="wd" cx="300.7" cy="309.2" r="5.18"/>
<circle class="wd" cx="310.3" cy="316.2" r="5.18"/>
<circle class="wd" cx="329.8" cy="317.5" r="5.18"/>
<circle class="wd" cx="336.0" cy="320.5" r="5.18"/>
<circle class="wd" cx="306.5" cy="324.2" r="5.18"/>
<circle class="wd" cx="313.2" cy="327.5" r="5.18"/>
<circle class="wd" cx="318.2" cy="326.7" r="5.18"/>
<circle class="wd" cx="341.5" cy="332.0" r="5.18"/>
<circle class="wd" cx="303.2" cy="335.0" r="5.18"/>
<circle class="wd" cx="303.2" cy="345.8" r="5.18"/>
<circle class="wd" cx="338.5" cy="344.7" r="5.18"/>
<circle class="wd" cx="348.7" cy="352.8" r="5.18"/>
<circle class="wd" cx="322.8" cy="357.5" r="5.18"/>
<circle class="wd" cx="342.7" cy="373.0" r="5.18"/>
<circle class="wd" cx="306.5" cy="379.2" r="5.18"/>
<circle class="wd" cx="327.0" cy="379.7" r="5.18"/>
<circle class="wd" cx="376.5" cy="305.8" r="5.18"/>
<circle class="wd" cx="398.5" cy="302.2" r="5.18"/>
<circle class="wd" cx="412.8" cy="271.2" r="5.18"/>
<circle class="wd" cx="422.3" cy="312.2" r="5.18"/>
<circle class="wd" cx="454.8" cy="306.3" r="5.18"/>
<circle class="wd" cx="422.0" cy="350.0" r="5.18"/>
<circle class="wd" cx="430.7" cy="349.2" r="5.18"/>
<circle class="wd" cx="439.0" cy="345.8" r="5.18"/>
<circle class="wd" cx="397.8" cy="358.0" r="5.18"/>
<circle class="wd" cx="395.7" cy="370.8" r="5.18"/>
<circle class="wd" cx="400.7" cy="377.5" r="5.18"/>
<circle class="wd" cx="405.7" cy="376.7" r="5.18"/>
<circle class="wd" cx="431.8" cy="365.3" r="5.18"/>
<circle class="wd" cx="444.5" cy="370.8" r="5.18"/>
<circle class="wd" cx="312.7" cy="389.2" r="5.18"/>
<circle class="wd" cx="313.7" cy="403.3" r="5.18"/>
<circle class="wd" cx="332.3" cy="402.2" r="5.18"/>
<circle class="wd" cx="339.8" cy="401.7" r="5.18"/>
<circle class="wd" cx="341.5" cy="399.7" r="5.18"/>
<circle class="wd" cx="352.3" cy="403.0" r="5.18"/>
<circle class="wd" cx="384.8" cy="390.8" r="5.18"/>
<circle class="wd" cx="384.5" cy="398.7" r="5.18"/>
<circle class="wd" cx="405.2" cy="386.3" r="5.18"/>
<circle class="wd" cx="415.7" cy="395.3" r="5.18"/>
<circle class="wd" cx="442.7" cy="388.0" r="5.18"/>
<circle class="wd" cx="450.3" cy="384.7" r="5.18"/>
<circle class="wd" cx="303.2" cy="429.7" r="5.18"/>
<circle class="wd" cx="388.2" cy="419.7" r="5.18"/>
<circle class="wd" cx="385.2" cy="424.2" r="5.18"/>
<circle class="wd" cx="404.0" cy="419.5" r="5.18"/>
<circle class="wd" cx="437.8" cy="416.3" r="5.18"/>
<circle class="wd" cx="447.8" cy="433.7" r="5.18"/>
<circle class="wd" cx="399.8" cy="438.3" r="5.18"/>
<circle class="wd" cx="403.2" cy="438.7" r="5.18"/>
<circle class="wd" cx="404.5" cy="445.0" r="5.18"/>
<circle class="wd" cx="428.2" cy="442.0" r="5.18"/>
<circle class="wd" cx="436.2" cy="441.7" r="5.18"/>
<circle class="wd" cx="348.7" cy="447.5" r="5.18"/>
<circle class="wd" cx="346.8" cy="452.0" r="5.18"/>
<circle class="wd" cx="347.3" cy="459.2" r="5.18"/>
<circle class="wd" cx="369.8" cy="448.0" r="5.18"/>
<circle class="wd" cx="311.5" cy="457.2" r="5.18"/>
<circle class="wd" cx="397.0" cy="454.7" r="5.18"/>
<circle class="wd" cx="422.3" cy="452.8" r="5.18"/>
<circle class="wd" cx="419.3" cy="461.3" r="5.18"/>
<circle class="wd" cx="414.8" cy="467.2" r="5.18"/>
<circle class="wd" cx="385.3" cy="462.2" r="5.18"/>
<circle class="wd" cx="394.5" cy="473.3" r="5.18"/>
<circle class="wd" cx="356.0" cy="469.2" r="5.18"/>
<circle class="wd" cx="323.2" cy="480.5" r="5.18"/>
<circle class="wd" cx="412.8" cy="480.5" r="5.18"/>
<circle class="wd" cx="420.3" cy="479.7" r="5.18"/>
<circle class="wd" cx="422.8" cy="484.2" r="5.18"/>
<circle class="wd" cx="441.8" cy="465.0" r="5.18"/>
<circle class="wd" cx="440.7" cy="469.2" r="5.18"/>
<circle class="wd" cx="440.3" cy="479.5" r="5.18"/>
<circle class="wd" cx="446.8" cy="480.0" r="5.18"/>
<circle class="wd" cx="458.7" cy="448.7" r="5.18"/>
<circle class="wd" cx="357.3" cy="492.8" r="5.18"/>
<circle class="wd" cx="364.8" cy="493.8" r="5.18"/>
<circle class="wd" cx="402.0" cy="510.0" r="5.18"/>
<circle class="wd" cx="390.3" cy="515.3" r="5.18"/>
<circle class="wd" cx="395.7" cy="516.7" r="5.18"/>
<circle class="wd" cx="415.7" cy="530.5" r="5.18"/>
<circle class="we" cx="319.5" cy="522.5" r="5.18"/>
<circle class="wd" cx="352.7" cy="550.0" r="5.18"/>
<circle class="wd" cx="473.2" cy="280.8" r="5.18"/>
<circle class="wd" cx="476.5" cy="294.2" r="5.18"/>
<circle class="wd" cx="473.7" cy="298.7" r="5.18"/>
<circle class="wd" cx="505.7" cy="295.8" r="5.18"/>
<circle class="wd" cx="528.7" cy="289.2" r="5.18"/>
<circle class="wd" cx="531.2" cy="310.5" r="5.18"/>
<circle class="wd" cx="521.2" cy="316.7" r="5.18"/>
<circle class="wd" cx="592.0" cy="284.7" r="5.18"/>
<circle class="wd" cx="617.3" cy="288.7" r="5.18"/>
<circle class="wd" cx="579.8" cy="305.0" r="5.18"/>
<circle class="wd" cx="580.7" cy="310.8" r="5.18"/>
<circle class="wd" cx="593.2" cy="310.5" r="5.18"/>
<circle class="wd" cx="599.5" cy="308.0" r="5.18"/>
<circle class="wd" cx="540.7" cy="322.8" r="5.18"/>
<circle class="wd" cx="559.8" cy="322.5" r="5.18"/>
<circle class="wd" cx="574.3" cy="320.8" r="5.18"/>
<circle class="wd" cx="487.8" cy="330.0" r="5.18"/>
<circle class="wd" cx="479.0" cy="335.3" r="5.18"/>
<circle class="wd" cx="522.3" cy="335.0" r="5.18"/>
<circle class="wd" cx="559.0" cy="333.3" r="5.18"/>
<circle class="wd" cx="559.0" cy="336.7" r="5.18"/>
<circle class="wd" cx="563.2" cy="340.0" r="5.18"/>
<circle class="wd" cx="568.2" cy="335.0" r="5.18"/>
<circle class="wd" cx="580.7" cy="336.3" r="5.18"/>
<circle class="wd" cx="545.7" cy="340.8" r="5.18"/>
<circle class="wd" cx="507.8" cy="346.7" r="5.18"/>
<circle class="wd" cx="519.3" cy="349.7" r="5.18"/>
<circle class="wd" cx="536.0" cy="348.3" r="5.18"/>
<circle class="wd" cx="558.2" cy="353.3" r="5.18"/>
<circle class="wd" cx="558.5" cy="352.5" r="5.18"/>
<circle class="wd" cx="464.8" cy="355.0" r="5.18"/>
<circle class="wd" cx="493.2" cy="354.7" r="5.18"/>
<circle class="wd" cx="460.7" cy="366.7" r="5.18"/>
<circle class="wd" cx="504.0" cy="361.7" r="5.18"/>
<circle class="wd" cx="500.7" cy="365.0" r="5.18"/>
<circle class="wd" cx="493.2" cy="370.0" r="5.18"/>
<circle class="wd" cx="501.5" cy="372.5" r="5.18"/>
<circle class="wd" cx="505.7" cy="373.3" r="5.18"/>
<circle class="wd" cx="518.2" cy="364.7" r="5.18"/>
<circle class="wd" cx="519.8" cy="373.3" r="5.18"/>
<circle class="wd" cx="529.0" cy="372.5" r="5.18"/>
<circle class="wd" cx="533.2" cy="369.2" r="5.18"/>
<circle class="wd" cx="547.7" cy="360.0" r="5.18"/>
<circle class="wd" cx="556.5" cy="374.2" r="5.18"/>
<circle class="wd" cx="569.8" cy="361.7" r="5.18"/>
<circle class="wd" cx="578.2" cy="350.8" r="5.18"/>
<circle class="wd" cx="583.2" cy="349.2" r="5.18"/>
<circle class="wd" cx="592.3" cy="330.0" r="5.18"/>
<circle class="wd" cx="591.5" cy="327.5" r="5.18"/>
<circle class="wd" cx="600.7" cy="333.3" r="5.18"/>
<circle class="wd" cx="602.3" cy="322.5" r="5.18"/>
<circle class="wd" cx="604.0" cy="340.8" r="5.18"/>
<circle class="wd" cx="595.7" cy="348.3" r="5.18"/>
<circle class="wd" cx="587.3" cy="333.3" r="5.18"/>
<circle class="wd" cx="608.2" cy="315.0" r="5.18"/>
<circle class="wd" cx="609.0" cy="322.5" r="5.18"/>
<circle class="wd" cx="615.7" cy="306.7" r="5.18"/>
<circle class="wd" cx="614.0" cy="310.0" r="5.18"/>
<circle class="wd" cx="614.8" cy="326.7" r="5.18"/>
<circle class="wd" cx="578.2" cy="358.3" r="5.18"/>
<circle class="wd" cx="574.0" cy="365.0" r="5.18"/>
<circle class="wd" cx="579.8" cy="366.7" r="5.18"/>
<circle class="wd" cx="570.7" cy="374.2" r="5.18"/>
<circle class="wd" cx="594.0" cy="360.0" r="5.18"/>
<circle class="wd" cx="597.3" cy="355.0" r="5.18"/>
<circle class="wd" cx="590.7" cy="371.7" r="5.18"/>
<circle class="wd" cx="600.7" cy="366.7" r="5.18"/>
<circle class="wd" cx="609.0" cy="350.0" r="5.18"/>
<circle class="wd" cx="614.8" cy="338.3" r="5.18"/>
<circle class="wd" cx="615.7" cy="350.0" r="5.18"/>
<circle class="wd" cx="552.3" cy="377.5" r="5.18"/>
<circle class="wd" cx="545.7" cy="379.2" r="5.18"/>
<circle class="wd" cx="517.3" cy="379.2" r="5.18"/>
<circle class="wd" cx="464.8" cy="403.3" r="5.18"/>
<circle class="wd" cx="477.3" cy="391.7" r="5.18"/>
<circle class="wd" cx="476.5" cy="395.8" r="5.18"/>
<circle class="wd" cx="505.7" cy="399.2" r="5.18"/>
<circle class="wd" cx="514.0" cy="400.0" r="5.18"/>
<circle class="wd" cx="517.3" cy="405.0" r="5.18"/>
<circle class="wd" cx="519.8" cy="390.0" r="5.18"/>
<circle class="wd" cx="516.5" cy="383.3" r="5.18"/>
<circle class="wd" cx="532.3" cy="390.0" r="5.18"/>
<circle class="wd" cx="537.3" cy="386.7" r="5.18"/>
<circle class="wd" cx="517.3" cy="411.7" r="5.18"/>
<circle class="wd" cx="509.0" cy="411.7" r="5.18"/>
<circle class="wd" cx="504.8" cy="415.8" r="5.18"/>
<circle class="wd" cx="498.2" cy="417.5" r="5.18"/>
<circle class="wd" cx="500.7" cy="423.3" r="5.18"/>
<circle class="wd" cx="494.0" cy="430.8" r="5.18"/>
<circle class="wd" cx="484.0" cy="420.0" r="5.18"/>
<circle class="wd" cx="477.3" cy="424.2" r="5.18"/>
<circle class="wd" cx="473.2" cy="426.7" r="5.18"/>
<circle class="wd" cx="475.7" cy="430.0" r="5.18"/>
<circle class="wd" cx="518.2" cy="420.8" r="5.18"/>
<circle class="wd" cx="531.5" cy="415.8" r="5.18"/>
<circle class="wd" cx="532.3" cy="417.5" r="5.18"/>
<circle class="wd" cx="534.0" cy="405.0" r="5.18"/>
<circle class="wd" cx="540.7" cy="398.3" r="5.18"/>
<circle class="wd" cx="544.0" cy="401.7" r="5.18"/>
<circle class="wd" cx="551.5" cy="400.0" r="5.18"/>
<circle class="wd" cx="544.8" cy="407.5" r="5.18"/>
<circle class="wd" cx="557.3" cy="415.8" r="5.18"/>
<circle class="wd" cx="549.8" cy="425.8" r="5.18"/>
<circle class="wd" cx="512.3" cy="437.5" r="5.18"/>
<circle class="wd" cx="515.7" cy="436.7" r="5.18"/>
<circle class="wd" cx="524.8" cy="434.2" r="5.18"/>
<circle class="wd" cx="527.3" cy="434.7" r="5.18"/>
<circle class="wd" cx="531.5" cy="435.0" r="5.18"/>
<circle class="wd" cx="465.7" cy="441.7" r="5.18"/>
<circle class="wd" cx="470.7" cy="445.0" r="5.18"/>
<circle class="wd" cx="469.0" cy="448.3" r="5.18"/>
<circle class="wd" cx="474.0" cy="450.0" r="5.18"/>
<circle class="wd" cx="462.3" cy="448.3" r="5.18"/>
<circle class="wd" cx="478.2" cy="441.7" r="5.18"/>
<circle class="wd" cx="484.0" cy="443.3" r="5.18"/>
<circle class="wd" cx="480.7" cy="453.3" r="5.18"/>
<circle class="wd" cx="485.7" cy="453.3" r="5.18"/>
<circle class="wd" cx="477.3" cy="458.3" r="5.18"/>
<circle class="wd" cx="473.2" cy="461.7" r="5.18"/>
<circle class="wd" cx="463.2" cy="462.5" r="5.18"/>
<circle class="wd" cx="477.3" cy="465.8" r="5.18"/>
<circle class="wd" cx="483.2" cy="465.0" r="5.18"/>
<circle class="wd" cx="489.0" cy="460.0" r="5.18"/>
<circle class="wd" cx="492.3" cy="457.5" r="5.18"/>
<circle class="wd" cx="497.3" cy="453.3" r="5.18"/>
<circle class="wd" cx="501.5" cy="455.8" r="5.18"/>
<circle class="wd" cx="505.7" cy="458.3" r="5.18"/>
<circle class="wd" cx="499.0" cy="461.7" r="5.18"/>
<circle class="wd" cx="494.8" cy="464.2" r="5.18"/>
<circle class="wd" cx="497.3" cy="466.7" r="5.18"/>
<circle class="wd" cx="491.5" cy="463.3" r="5.18"/>
<circle class="wd" cx="507.3" cy="463.3" r="5.18"/>
<circle class="wd" cx="514.0" cy="464.2" r="5.18"/>
<circle class="wd" cx="523.2" cy="453.3" r="5.18"/>
<circle class="wd" cx="520.7" cy="461.7" r="5.18"/>
<circle class="wd" cx="525.7" cy="458.3" r="5.18"/>
<circle class="wd" cx="524.0" cy="465.0" r="5.18"/>
<circle class="wd" cx="514.0" cy="476.7" r="5.18"/>
<circle class="wd" cx="514.0" cy="482.5" r="5.18"/>
<circle class="wd" cx="519.8" cy="473.3" r="5.18"/>
<circle class="wd" cx="529.0" cy="480.0" r="5.18"/>
<circle class="wd" cx="534.0" cy="483.3" r="5.18"/>
<circle class="wd" cx="540.7" cy="488.3" r="5.18"/>
<circle class="wd" cx="545.7" cy="483.3" r="5.18"/>
<circle class="wd" cx="552.3" cy="486.7" r="5.18"/>
<circle class="wd" cx="557.3" cy="490.0" r="5.18"/>
<circle class="wd" cx="560.7" cy="495.0" r="5.18"/>
<circle class="wd" cx="559.0" cy="486.7" r="5.18"/>
<circle class="wd" cx="565.7" cy="481.7" r="5.18"/>
<circle class="wd" cx="570.7" cy="480.0" r="5.18"/>
<circle class="wd" cx="537.3" cy="499.2" r="5.18"/>
<circle class="wd" cx="544.0" cy="499.2" r="5.18"/>
<circle class="wd" cx="547.3" cy="500.0" r="5.18"/>
<circle class="wd" cx="557.3" cy="500.0" r="5.18"/>
<circle class="wd" cx="565.7" cy="500.8" r="5.18"/>
<circle class="wd" cx="573.2" cy="495.8" r="5.18"/>
<circle class="wd" cx="578.2" cy="501.7" r="5.18"/>
<circle class="wd" cx="582.3" cy="483.3" r="5.18"/>
<circle class="wd" cx="590.7" cy="487.5" r="5.18"/>
<circle class="wd" cx="600.7" cy="489.2" r="5.18"/>
<circle class="wd" cx="597.3" cy="496.7" r="5.18"/>
<circle class="wd" cx="592.3" cy="505.0" r="5.18"/>
<circle class="wd" cx="602.3" cy="503.3" r="5.18"/>
<circle class="wd" cx="599.0" cy="510.0" r="5.18"/>
<circle class="wd" cx="601.5" cy="514.2" r="5.18"/>
<circle class="wd" cx="590.7" cy="519.2" r="5.18"/>
<circle class="wd" cx="610.7" cy="495.0" r="5.18"/>
<circle class="wd" cx="615.7" cy="493.3" r="5.18"/>
<circle class="wd" cx="610.7" cy="481.7" r="5.18"/>
<circle class="wd" cx="618.2" cy="476.7" r="5.18"/>
<circle class="wd" cx="609.0" cy="466.7" r="5.18"/>
<circle class="wd" cx="604.0" cy="463.3" r="5.18"/>
<circle class="wd" cx="612.3" cy="463.3" r="5.18"/>
<circle class="wd" cx="617.3" cy="456.7" r="5.18"/>
<circle class="wd" cx="592.3" cy="461.7" r="5.18"/>
<circle class="wd" cx="597.3" cy="466.7" r="5.18"/>
<circle class="wd" cx="585.7" cy="470.0" r="5.18"/>
<circle class="wd" cx="618.2" cy="511.7" r="5.18"/>
<circle class="wd" cx="500.7" cy="507.5" r="5.18"/>
<circle class="wd" cx="513.7" cy="507.5" r="5.18"/>
<circle class="wd" cx="543.2" cy="518.3" r="5.18"/>
<circle class="wd" cx="545.7" cy="522.5" r="5.18"/>
<circle class="wd" cx="557.3" cy="513.3" r="5.18"/>
<circle class="wd" cx="568.2" cy="515.8" r="5.18"/>
<circle class="wd" cx="542.3" cy="527.5" r="5.18"/>
<circle class="wd" cx="547.3" cy="530.8" r="5.18"/>
<circle class="wd" cx="534.8" cy="535.8" r="5.18"/>
<circle class="wd" cx="556.5" cy="530.8" r="5.18"/>
<circle class="wd" cx="564.0" cy="529.2" r="5.18"/>
<circle class="wd" cx="574.8" cy="529.2" r="5.18"/>
<circle class="wd" cx="562.3" cy="536.7" r="5.18"/>
<circle class="wd" cx="577.3" cy="535.0" r="5.18"/>
<circle class="wd" cx="584.0" cy="531.7" r="5.18"/>
<circle class="wd" cx="594.0" cy="535.0" r="5.18"/>
<circle class="wd" cx="549.8" cy="538.3" r="5.18"/>
<circle class="wd" cx="534.8" cy="542.5" r="5.18"/>
<circle class="wd" cx="547.3" cy="541.7" r="5.18"/>
<circle class="wd" cx="541.5" cy="550.0" r="5.18"/>
<circle class="wd" cx="534.0" cy="554.2" r="5.18"/>
<circle class="wd" cx="560.7" cy="546.7" r="5.18"/>
<circle class="wd" cx="563.2" cy="550.8" r="5.18"/>
<circle class="wd" cx="569.8" cy="543.3" r="5.18"/>
<circle class="wd" cx="576.5" cy="545.0" r="5.18"/>
<circle class="wd" cx="580.7" cy="541.7" r="5.18"/>
<circle class="wd" cx="582.3" cy="545.8" r="5.18"/>
<circle class="wd" cx="593.2" cy="541.7" r="5.18"/>
<circle class="wd" cx="584.8" cy="553.3" r="5.18"/>
<circle class="wd" cx="588.2" cy="554.7" r="5.18"/>
<circle class="wd" cx="614.0" cy="548.0" r="5.18"/>
<circle class="wd" cx="610.2" cy="563.8" r="5.18"/>
<circle class="wd" cx="556.5" cy="573.0" r="5.18"/>
<circle class="wd" cx="558.2" cy="571.7" r="5.18"/>
<circle class="wd" cx="564.0" cy="573.7" r="5.18"/>
<circle class="wd" cx="512.3" cy="593.7" r="5.18"/>
<circle class="wd" cx="522.3" cy="599.2" r="5.18"/>
<circle class="wd" cx="544.8" cy="592.0" r="5.18"/>
<circle class="wd" cx="548.2" cy="594.2" r="5.18"/>
<circle class="wd" cx="552.0" cy="598.3" r="5.18"/>
<circle class="wd" cx="577.0" cy="590.8" r="5.18"/>
<circle class="wd" cx="586.5" cy="600.3" r="5.18"/>
<circle class="wd" cx="591.8" cy="598.3" r="5.18"/>
<circle class="wd" cx="585.7" cy="608.7" r="5.18"/>
<circle class="wd" cx="607.7" cy="610.0" r="5.18"/>
<circle class="wd" cx="551.5" cy="612.0" r="5.18"/>
<circle class="wd" cx="563.2" cy="610.0" r="5.18"/>
<circle class="wd" cx="564.8" cy="617.5" r="5.18"/>
<circle class="wd" cx="565.7" cy="618.3" r="5.18"/>
<circle class="wd" cx="544.8" cy="623.3" r="5.18"/>
<circle class="wd" cx="554.3" cy="628.3" r="5.18"/>
<circle class="wd" cx="610.7" cy="628.8" r="5.18"/>
<circle class="wd" cx="554.5" cy="644.2" r="5.18"/>
<circle class="wd" cx="556.8" cy="649.5" r="5.18"/>
<circle class="wd" cx="531.5" cy="658.0" r="5.18"/>
<circle class="wd" cx="536.5" cy="660.8" r="5.18"/>
<circle class="wd" cx="543.2" cy="661.7" r="5.18"/>
<circle class="wd" cx="550.3" cy="665.0" r="5.18"/>
<circle class="wd" cx="571.0" cy="666.7" r="5.18"/>
<circle class="wd" cx="579.5" cy="665.3" r="5.18"/>
<circle class="wd" cx="506.5" cy="667.5" r="5.18"/>
<circle class="wd" cx="609.5" cy="672.5" r="5.18"/>
<circle class="wd" cx="525.7" cy="691.2" r="5.18"/>
<circle class="we" cx="491.5" cy="694.2" r="5.18"/>
<circle class="we" cx="494.0" cy="705.8" r="5.18"/>
<circle class="we" cx="519.8" cy="699.2" r="5.18"/>
<circle class="we" cx="539.8" cy="701.7" r="5.18"/>
<circle class="wd" cx="506.2" cy="711.2" r="5.18"/>
<circle class="wd" cx="581.8" cy="702.5" r="5.18"/>
<circle class="wd" cx="595.2" cy="701.3" r="5.18"/>
<circle class="wd" cx="529.0" cy="731.7" r="5.18"/>
<circle class="wd" cx="568.2" cy="720.0" r="5.18"/>
<circle class="wd" cx="570.7" cy="722.5" r="5.18"/>
<circle class="wd" cx="568.2" cy="728.3" r="5.18"/>
<circle class="wd" cx="579.3" cy="719.5" r="5.18"/>
<circle class="wd" cx="613.7" cy="762.0" r="5.18"/>
<circle class="wd" cx="618.2" cy="758.3" r="5.18"/>
<circle class="wd" cx="568.2" cy="771.2" r="5.18"/>
<circle class="wd" cx="569.0" cy="771.7" r="5.18"/>
<circle class="wd" cx="588.2" cy="771.2" r="5.18"/>
<circle class="wd" cx="588.7" cy="771.7" r="5.18"/>
<circle class="wd" cx="559.8" cy="776.7" r="5.18"/>
<circle class="wd" cx="604.8" cy="771.7" r="5.18"/>
<circle class="wd" cx="608.2" cy="776.7" r="5.18"/>
<circle class="wd" cx="543.2" cy="782.5" r="5.18"/>
<circle class="wd" cx="549.0" cy="783.3" r="5.18"/>
<circle class="wd" cx="580.7" cy="785.0" r="5.18"/>
<circle class="wd" cx="583.2" cy="786.7" r="5.18"/>
<circle class="wd" cx="590.7" cy="786.7" r="5.18"/>
<circle class="wd" cx="583.2" cy="791.7" r="5.18"/>
<circle class="wd" cx="589.0" cy="795.8" r="5.18"/>
<circle class="wd" cx="594.8" cy="800.5" r="5.18"/>
<circle class="wd" cx="608.5" cy="785.8" r="5.18"/>
<circle class="wd" cx="616.5" cy="787.5" r="5.18"/>
<circle class="wd" cx="559.0" cy="793.3" r="5.18"/>
<circle class="wd" cx="559.8" cy="798.3" r="5.18"/>
<circle class="wd" cx="562.3" cy="800.0" r="5.18"/>
<circle class="wd" cx="558.2" cy="796.7" r="5.18"/>
<circle class="wd" cx="546.0" cy="802.8" r="5.18"/>
<circle class="wd" cx="551.5" cy="802.5" r="5.18"/>
<circle class="wd" cx="532.0" cy="810.0" r="5.18"/>
<circle class="wd" cx="482.3" cy="813.7" r="5.18"/>
<circle class="wd" cx="577.7" cy="812.5" r="5.18"/>
<circle class="wd" cx="582.3" cy="817.5" r="5.18"/>
<circle class="wd" cx="581.5" cy="820.3" r="5.18"/>
<circle class="wd" cx="607.7" cy="810.3" r="5.18"/>
<circle class="wd" cx="611.8" cy="821.7" r="5.18"/>
<circle class="wd" cx="611.5" cy="828.3" r="5.18"/>
<circle class="wd" cx="598.5" cy="831.2" r="5.18"/>
<circle class="wd" cx="561.5" cy="827.8" r="5.18"/>
<circle class="wd" cx="551.2" cy="838.7" r="5.18"/>
<circle class="wd" cx="568.5" cy="837.2" r="5.18"/>
<circle class="wd" cx="575.7" cy="841.3" r="5.18"/>
<circle class="wd" cx="631.0" cy="153.3" r="5.18"/>
<circle class="wd" cx="616.2" cy="180.3" r="5.18"/>
<circle class="wd" cx="693.7" cy="187.5" r="5.18"/>
<circle class="wd" cx="678.7" cy="236.7" r="5.18"/>
<circle class="wd" cx="728.5" cy="229.5" r="5.18"/>
<circle class="wd" cx="641.2" cy="260.5" r="5.18"/>
<circle class="wd" cx="651.0" cy="275.5" r="5.18"/>
<circle class="wd" cx="657.3" cy="285.0" r="5.18"/>
<circle class="wd" cx="672.3" cy="283.3" r="5.18"/>
<circle class="wd" cx="676.5" cy="285.0" r="5.18"/>
<circle class="wd" cx="649.0" cy="288.3" r="5.18"/>
<circle class="wd" cx="654.8" cy="287.5" r="5.18"/>
<circle class="wd" cx="698.7" cy="250.8" r="5.18"/>
<circle class="wd" cx="705.7" cy="246.2" r="5.18"/>
<circle class="wd" cx="716.2" cy="248.3" r="5.18"/>
<circle class="wd" cx="713.2" cy="253.3" r="5.18"/>
<circle class="wd" cx="695.7" cy="259.2" r="5.18"/>
<circle class="wd" cx="685.7" cy="264.2" r="5.18"/>
<circle class="wd" cx="687.3" cy="266.7" r="5.18"/>
<circle class="wd" cx="727.3" cy="250.0" r="5.18"/>
<circle class="wd" cx="732.3" cy="242.5" r="5.18"/>
<circle class="wd" cx="684.8" cy="275.8" r="5.18"/>
<circle class="wd" cx="762.0" cy="190.5" r="5.18"/>
<circle class="wd" cx="776.5" cy="221.8" r="5.18"/>
<circle class="wd" cx="759.8" cy="221.2" r="5.18"/>
<circle class="wd" cx="767.8" cy="228.0" r="5.18"/>
<circle class="wd" cx="750.2" cy="228.8" r="5.18"/>
<circle class="wd" cx="785.2" cy="240.0" r="5.18"/>
<circle class="wd" cx="792.8" cy="243.8" r="5.18"/>
<circle class="wd" cx="790.2" cy="251.2" r="5.18"/>
<circle class="wd" cx="787.8" cy="258.8" r="5.18"/>
<circle class="wd" cx="792.8" cy="265.0" r="5.18"/>
<circle class="wd" cx="784.0" cy="266.2" r="5.18"/>
<circle class="wd" cx="776.5" cy="272.5" r="5.18"/>
<circle class="wd" cx="786.5" cy="277.5" r="5.18"/>
<circle class="wd" cx="771.5" cy="286.2" r="5.18"/>
<circle class="wd" cx="777.8" cy="290.0" r="5.18"/>
<circle class="wd" cx="769.0" cy="300.0" r="5.18"/>
<circle class="wd" cx="767.8" cy="305.0" r="5.18"/>
<circle class="wd" cx="755.2" cy="313.8" r="5.18"/>
<circle class="wd" cx="762.8" cy="315.0" r="5.18"/>
<circle class="wd" cx="767.8" cy="318.8" r="5.18"/>
<circle class="wd" cx="749.0" cy="327.5" r="5.18"/>
<circle class="wd" cx="755.2" cy="327.5" r="5.18"/>
<circle class="wd" cx="735.8" cy="336.8" r="5.18"/>
<circle class="wd" cx="739.0" cy="325.0" r="5.18"/>
<circle class="wd" cx="729.0" cy="350.5" r="5.18"/>
<circle class="wd" cx="732.2" cy="356.8" r="5.18"/>
<circle class="wd" cx="722.8" cy="363.8" r="5.18"/>
<circle class="wd" cx="723.5" cy="370.0" r="5.18"/>
<circle class="wd" cx="737.0" cy="372.0" r="5.18"/>
<circle class="wd" cx="755.2" cy="364.2" r="5.18"/>
<circle class="wd" cx="717.8" cy="355.0" r="5.18"/>
<circle class="wd" cx="710.2" cy="357.5" r="5.18"/>
<circle class="wd" cx="700.2" cy="371.2" r="5.18"/>
<circle class="wd" cx="701.5" cy="376.2" r="5.18"/>
<circle class="wd" cx="720.8" cy="395.8" r="5.18"/>
<circle class="wd" cx="709.0" cy="398.0" r="5.18"/>
<circle class="wd" cx="702.8" cy="390.0" r="5.18"/>
<circle class="wd" cx="689.0" cy="391.2" r="5.18"/>
<circle class="wd" cx="681.5" cy="385.0" r="5.18"/>
<circle class="wd" cx="680.2" cy="396.2" r="5.18"/>
<circle class="wd" cx="694.0" cy="400.0" r="5.18"/>
<circle class="wd" cx="676.5" cy="403.8" r="5.18"/>
<circle class="wd" cx="666.5" cy="392.5" r="5.18"/>
<circle class="wd" cx="823.5" cy="273.0" r="5.18"/>
<circle class="wd" cx="826.5" cy="277.0" r="5.18"/>
<circle class="wd" cx="705.8" cy="245.5" r="5.18"/>
<circle class="wd" cx="716.0" cy="248.0" r="5.18"/>
<circle class="wd" cx="699.0" cy="251.2" r="5.18"/>
<circle class="wd" cx="712.8" cy="253.8" r="5.18"/>
<circle class="wd" cx="695.2" cy="258.8" r="5.18"/>
<circle class="wd" cx="685.2" cy="264.5" r="5.18"/>
<circle class="wd" cx="686.5" cy="267.5" r="5.18"/>
<circle class="wd" cx="706.5" cy="262.5" r="5.18"/>
<circle class="wd" cx="727.8" cy="250.0" r="5.18"/>
<circle class="wd" cx="732.8" cy="242.5" r="5.18"/>
<circle class="wd" cx="672.8" cy="283.8" r="5.18"/>
<circle class="wd" cx="676.5" cy="285.5" r="5.18"/>
<circle class="wd" cx="657.8" cy="285.5" r="5.18"/>
<circle class="wd" cx="655.2" cy="289.5" r="5.18"/>
<circle class="wd" cx="648.5" cy="290.8" r="5.18"/>
<circle class="wd" cx="621.5" cy="287.5" r="5.18"/>
<circle class="wd" cx="624.0" cy="294.5" r="5.18"/>
<circle class="wd" cx="647.8" cy="305.0" r="5.18"/>
<circle class="wd" cx="642.8" cy="310.0" r="5.18"/>
<circle class="wd" cx="656.5" cy="306.2" r="5.18"/>
<circle class="wd" cx="665.2" cy="298.8" r="5.18"/>
<circle class="wd" cx="624.0" cy="311.2" r="5.18"/>
<circle class="wd" cx="629.0" cy="312.5" r="5.18"/>
<circle class="wd" cx="621.5" cy="320.0" r="5.18"/>
<circle class="wd" cx="625.2" cy="330.0" r="5.18"/>
<circle class="wd" cx="634.0" cy="332.5" r="5.18"/>
<circle class="wd" cx="622.8" cy="340.0" r="5.18"/>
<circle class="wd" cx="860.8" cy="352.7" r="5.18"/>
<circle class="wd" cx="695.7" cy="408.3" r="5.18"/>
<circle class="wd" cx="684.8" cy="412.5" r="5.18"/>
<circle class="wd" cx="677.3" cy="405.8" r="5.18"/>
<circle class="wd" cx="704.0" cy="415.0" r="5.18"/>
<circle class="wd" cx="707.3" cy="417.5" r="5.18"/>
<circle class="wd" cx="710.7" cy="420.0" r="5.18"/>
<circle class="wd" cx="675.7" cy="421.7" r="5.18"/>
<circle class="wd" cx="684.0" cy="425.8" r="5.18"/>
<circle class="wd" cx="664.0" cy="432.5" r="5.18"/>
<circle class="wd" cx="653.2" cy="419.2" r="5.18"/>
<circle class="wd" cx="659.8" cy="421.7" r="5.18"/>
<circle class="wd" cx="652.3" cy="432.5" r="5.18"/>
<circle class="wd" cx="650.7" cy="437.5" r="5.18"/>
<circle class="wd" cx="640.7" cy="434.2" r="5.18"/>
<circle class="wd" cx="635.7" cy="433.3" r="5.18"/>
<circle class="wd" cx="639.8" cy="420.0" r="5.18"/>
<circle class="wd" cx="630.7" cy="421.7" r="5.18"/>
<circle class="wd" cx="625.7" cy="435.0" r="5.18"/>
<circle class="wd" cx="626.5" cy="443.3" r="5.18"/>
<circle class="wd" cx="629.0" cy="449.2" r="5.18"/>
<circle class="wd" cx="682.3" cy="433.3" r="5.18"/>
<circle class="wd" cx="683.2" cy="438.3" r="5.18"/>
<circle class="wd" cx="691.5" cy="435.0" r="5.18"/>
<circle class="wd" cx="698.2" cy="431.7" r="5.18"/>
<circle class="wd" cx="700.7" cy="435.0" r="5.18"/>
<circle class="wd" cx="704.0" cy="432.5" r="5.18"/>
<circle class="wd" cx="702.0" cy="437.5" r="5.18"/>
<circle class="wd" cx="735.2" cy="439.7" r="5.18"/>
<circle class="wd" cx="734.3" cy="447.0" r="5.18"/>
<circle class="wd" cx="753.7" cy="434.3" r="5.18"/>
<circle class="wd" cx="663.2" cy="454.5" r="5.18"/>
<circle class="wd" cx="672.7" cy="451.3" r="5.18"/>
<circle class="wd" cx="691.2" cy="454.2" r="5.18"/>
<circle class="wd" cx="639.0" cy="455.8" r="5.18"/>
<circle class="wd" cx="644.0" cy="457.0" r="5.18"/>
<circle class="wd" cx="649.0" cy="455.0" r="5.18"/>
<circle class="wd" cx="652.3" cy="461.7" r="5.18"/>
<circle class="wd" cx="649.8" cy="467.5" r="5.18"/>
<circle class="wd" cx="640.3" cy="470.0" r="5.18"/>
<circle class="wd" cx="646.5" cy="472.5" r="5.18"/>
<circle class="wd" cx="645.7" cy="480.8" r="5.18"/>
<circle class="wd" cx="648.7" cy="485.8" r="5.18"/>
<circle class="wd" cx="660.3" cy="477.5" r="5.18"/>
<circle class="wd" cx="670.7" cy="478.3" r="5.18"/>
<circle class="wd" cx="692.8" cy="482.8" r="5.18"/>
<circle class="wd" cx="707.8" cy="492.0" r="5.18"/>
<circle class="wd" cx="675.3" cy="495.0" r="5.18"/>
<circle class="wd" cx="624.0" cy="473.3" r="5.18"/>
<circle class="wd" cx="622.3" cy="478.3" r="5.18"/>
<circle class="wd" cx="620.7" cy="484.2" r="5.18"/>
<circle class="wd" cx="619.0" cy="461.7" r="5.18"/>
<circle class="wd" cx="621.5" cy="458.3" r="5.18"/>
<circle class="wd" cx="624.8" cy="495.0" r="5.18"/>
<circle class="wd" cx="633.2" cy="497.5" r="5.18"/>
<circle class="wd" cx="628.2" cy="500.8" r="5.18"/>
<circle class="wd" cx="622.3" cy="511.7" r="5.18"/>
<circle class="wd" cx="622.3" cy="515.8" r="5.18"/>
<circle class="wd" cx="642.3" cy="508.3" r="5.18"/>
<circle class="wd" cx="649.8" cy="513.3" r="5.18"/>
<circle class="wd" cx="649.0" cy="520.8" r="5.18"/>
<circle class="wd" cx="661.2" cy="509.5" r="5.18"/>
<circle class="wd" cx="670.7" cy="506.2" r="5.18"/>
<circle class="wd" cx="685.2" cy="508.3" r="5.18"/>
<circle class="wd" cx="724.5" cy="508.7" r="5.18"/>
<circle class="wd" cx="733.3" cy="521.3" r="5.18"/>
<circle class="wd" cx="664.5" cy="526.2" r="5.18"/>
<circle class="wd" cx="676.5" cy="535.0" r="5.18"/>
<circle class="wd" cx="655.7" cy="535.8" r="5.18"/>
<circle class="wd" cx="659.0" cy="536.7" r="5.18"/>
<circle class="wd" cx="700.3" cy="536.7" r="5.18"/>
<circle class="wd" cx="711.5" cy="538.3" r="5.18"/>
<circle class="wd" cx="660.7" cy="548.8" r="5.18"/>
<circle class="wd" cx="669.3" cy="559.2" r="5.18"/>
<circle class="wd" cx="674.0" cy="575.0" r="5.18"/>
<circle class="wd" cx="660.3" cy="583.3" r="5.18"/>
<circle class="wd" cx="656.5" cy="591.7" r="5.18"/>
<circle class="wd" cx="646.2" cy="567.5" r="5.18"/>
<circle class="wd" cx="644.0" cy="576.3" r="5.18"/>
<circle class="wd" cx="635.7" cy="566.3" r="5.18"/>
<circle class="wd" cx="630.7" cy="570.0" r="5.18"/>
<circle class="wd" cx="621.5" cy="571.7" r="5.18"/>
<circle class="wd" cx="627.3" cy="578.3" r="5.18"/>
<circle class="wd" cx="625.7" cy="582.5" r="5.18"/>
<circle class="wd" cx="623.2" cy="585.8" r="5.18"/>
<circle class="wd" cx="633.7" cy="608.8" r="5.18"/>
<circle class="wd" cx="656.5" cy="616.2" r="5.18"/>
<circle class="wd" cx="674.3" cy="613.3" r="5.18"/>
<circle class="wd" cx="687.0" cy="615.8" r="5.18"/>
<circle class="wd" cx="696.0" cy="619.7" r="5.18"/>
<circle class="wd" cx="682.0" cy="629.5" r="5.18"/>
<circle class="wd" cx="726.0" cy="601.2" r="5.18"/>
<circle class="wd" cx="745.7" cy="637.5" r="5.18"/>
<circle class="wd" cx="662.3" cy="656.2" r="5.18"/>
<circle class="wd" cx="631.0" cy="671.3" r="5.18"/>
<circle class="wd" cx="656.5" cy="674.2" r="5.18"/>
<circle class="wd" cx="664.0" cy="681.7" r="5.18"/>
<circle class="wd" cx="662.3" cy="686.7" r="5.18"/>
<circle class="wd" cx="663.7" cy="691.3" r="5.18"/>
<circle class="wd" cx="684.8" cy="675.8" r="5.18"/>
<circle class="wd" cx="689.0" cy="676.7" r="5.18"/>
<circle class="wd" cx="700.7" cy="673.3" r="5.18"/>
<circle class="wd" cx="700.3" cy="678.3" r="5.18"/>
<circle class="wd" cx="705.7" cy="684.2" r="5.18"/>
<circle class="wd" cx="717.3" cy="683.0" r="5.18"/>
<circle class="wd" cx="742.3" cy="680.8" r="5.18"/>
<circle class="wd" cx="744.8" cy="684.2" r="5.18"/>
<circle class="wd" cx="684.8" cy="692.5" r="5.18"/>
<circle class="wd" cx="673.2" cy="695.8" r="5.18"/>
<circle class="wd" cx="672.3" cy="699.2" r="5.18"/>
<circle class="wd" cx="725.7" cy="693.7" r="5.18"/>
<circle class="wd" cx="732.3" cy="697.0" r="5.18"/>
<circle class="wd" cx="699.0" cy="698.3" r="5.18"/>
<circle class="wd" cx="694.8" cy="699.2" r="5.18"/>
<circle class="wd" cx="620.7" cy="699.2" r="5.18"/>
<circle class="wd" cx="676.5" cy="705.0" r="5.18"/>
<circle class="wd" cx="679.8" cy="707.5" r="5.18"/>
<circle class="wd" cx="674.8" cy="710.0" r="5.18"/>
<circle class="wd" cx="667.3" cy="710.8" r="5.18"/>
<circle class="wd" cx="663.2" cy="711.7" r="5.18"/>
<circle class="wd" cx="658.2" cy="715.8" r="5.18"/>
<circle class="wd" cx="662.3" cy="709.2" r="5.18"/>
<circle class="wd" cx="680.3" cy="720.5" r="5.18"/>
<circle class="wd" cx="687.3" cy="723.0" r="5.18"/>
<circle class="wd" cx="724.3" cy="720.3" r="5.18"/>
<circle class="wd" cx="675.7" cy="737.0" r="5.18"/>
<circle class="wd" cx="674.3" cy="742.5" r="5.18"/>
<circle class="wd" cx="634.0" cy="741.7" r="5.18"/>
<circle class="wd" cx="632.3" cy="746.7" r="5.18"/>
<circle class="wd" cx="642.3" cy="744.7" r="5.18"/>
<circle class="wd" cx="649.8" cy="741.7" r="5.18"/>
<circle class="wd" cx="656.0" cy="746.7" r="5.18"/>
<circle class="wd" cx="653.2" cy="750.0" r="5.18"/>
<circle class="wd" cx="652.0" cy="753.3" r="5.18"/>
<circle class="wd" cx="639.8" cy="755.8" r="5.18"/>
<circle class="wd" cx="632.3" cy="761.7" r="5.18"/>
<circle class="wd" cx="619.8" cy="758.3" r="5.18"/>
<circle class="wd" cx="651.5" cy="773.8" r="5.18"/>
<circle class="wd" cx="624.0" cy="781.7" r="5.18"/>
<circle class="wd" cx="634.8" cy="789.7" r="5.18"/>
<circle class="wd" cx="658.7" cy="796.3" r="5.18"/>
<circle class="wd" cx="713.5" cy="753.3" r="5.18"/>
<circle class="wd" cx="707.8" cy="766.2" r="5.18"/>
<circle class="wd" cx="696.8" cy="767.8" r="5.18"/>
<circle class="wd" cx="698.5" cy="777.5" r="5.18"/>
<circle class="wd" cx="689.5" cy="785.8" r="5.18"/>
<circle class="wd" cx="682.3" cy="787.8" r="5.18"/>
<circle class="wd" cx="692.8" cy="804.7" r="5.18"/>
<circle class="wd" cx="737.7" cy="805.3" r="5.18"/>
<circle class="wd" cx="760.3" cy="764.7" r="5.18"/>
<circle class="wd" cx="667.3" cy="815.0" r="5.18"/>
<circle class="wd" cx="665.7" cy="816.7" r="5.18"/>
<circle class="wd" cx="658.2" cy="825.3" r="5.18"/>
<circle class="wd" cx="834.0" cy="508.0" r="5.18"/>
<circle class="wd" cx="464.8" cy="403.8" r="5.18"/>
<circle class="wd" cx="468.0" cy="445.0" r="5.18"/>
<circle class="wd" cx="470.5" cy="447.5" r="5.18"/>
<circle class="wd" cx="467.0" cy="449.0" r="5.18"/>
<circle class="wd" cx="477.0" cy="461.0" r="5.18"/>
<circle class="wd" cx="480.0" cy="459.0" r="5.18"/>
<circle class="wd" cx="496.0" cy="463.0" r="5.18"/>
<circle class="wd" cx="499.0" cy="461.0" r="5.18"/>
</g>
<rect x="139.0" y="119.7" width="755.8" height="755.1" fill="none" stroke="#333" stroke-width="1.9"/>
<g stroke="#333" stroke-width="2.83">
<line x1="156.60" x2="156.60" y1="875.6999999999999" y2="883.0999999999999"/>
<line y1="857.60" y2="857.60" x1="138.1" x2="131.0"/>
<line x1="427.00" x2="427.00" y1="875.6999999999999" y2="883.0999999999999"/>
<line y1="587.40" y2="587.40" x1="138.1" x2="131.0"/>
<line x1="697.40" x2="697.40" y1="875.6999999999999" y2="883.0999999999999"/>
<line y1="317.20" y2="317.20" x1="138.1" x2="131.0"/>
</g>
<text class="ax" x="156.60" y="906.3" text-anchor="middle">0</text>
<text class="ax" x="125.3" y="866.50" text-anchor="end">0</text>
<text class="ax" x="427.00" y="906.3" text-anchor="middle">10</text>
<text class="ax" x="125.3" y="596.30" text-anchor="end">10</text>
<text class="ax" x="697.40" y="906.3" text-anchor="middle">20</text>
<text class="ax" x="125.3" y="326.10" text-anchor="end">20</text>
<text class="ti" x="517" y="940" text-anchor="middle">Two-week Lag in Ridership (x1000)</text>
<text class="ti" transform="translate(85.75,498.1) rotate(-90)" text-anchor="middle">Current Day Ridership (x1000)</text>
<circle class="wd" cx="373.5" cy="52" r="5.18"/>
<text class="lg" x="410.8" y="60.8">Weekday</text>
<circle class="we" cx="545.9" cy="52" r="5.18"/>
<text class="lg" x="584.4" y="60.8">Weekend</text>
</svg></body></html>
